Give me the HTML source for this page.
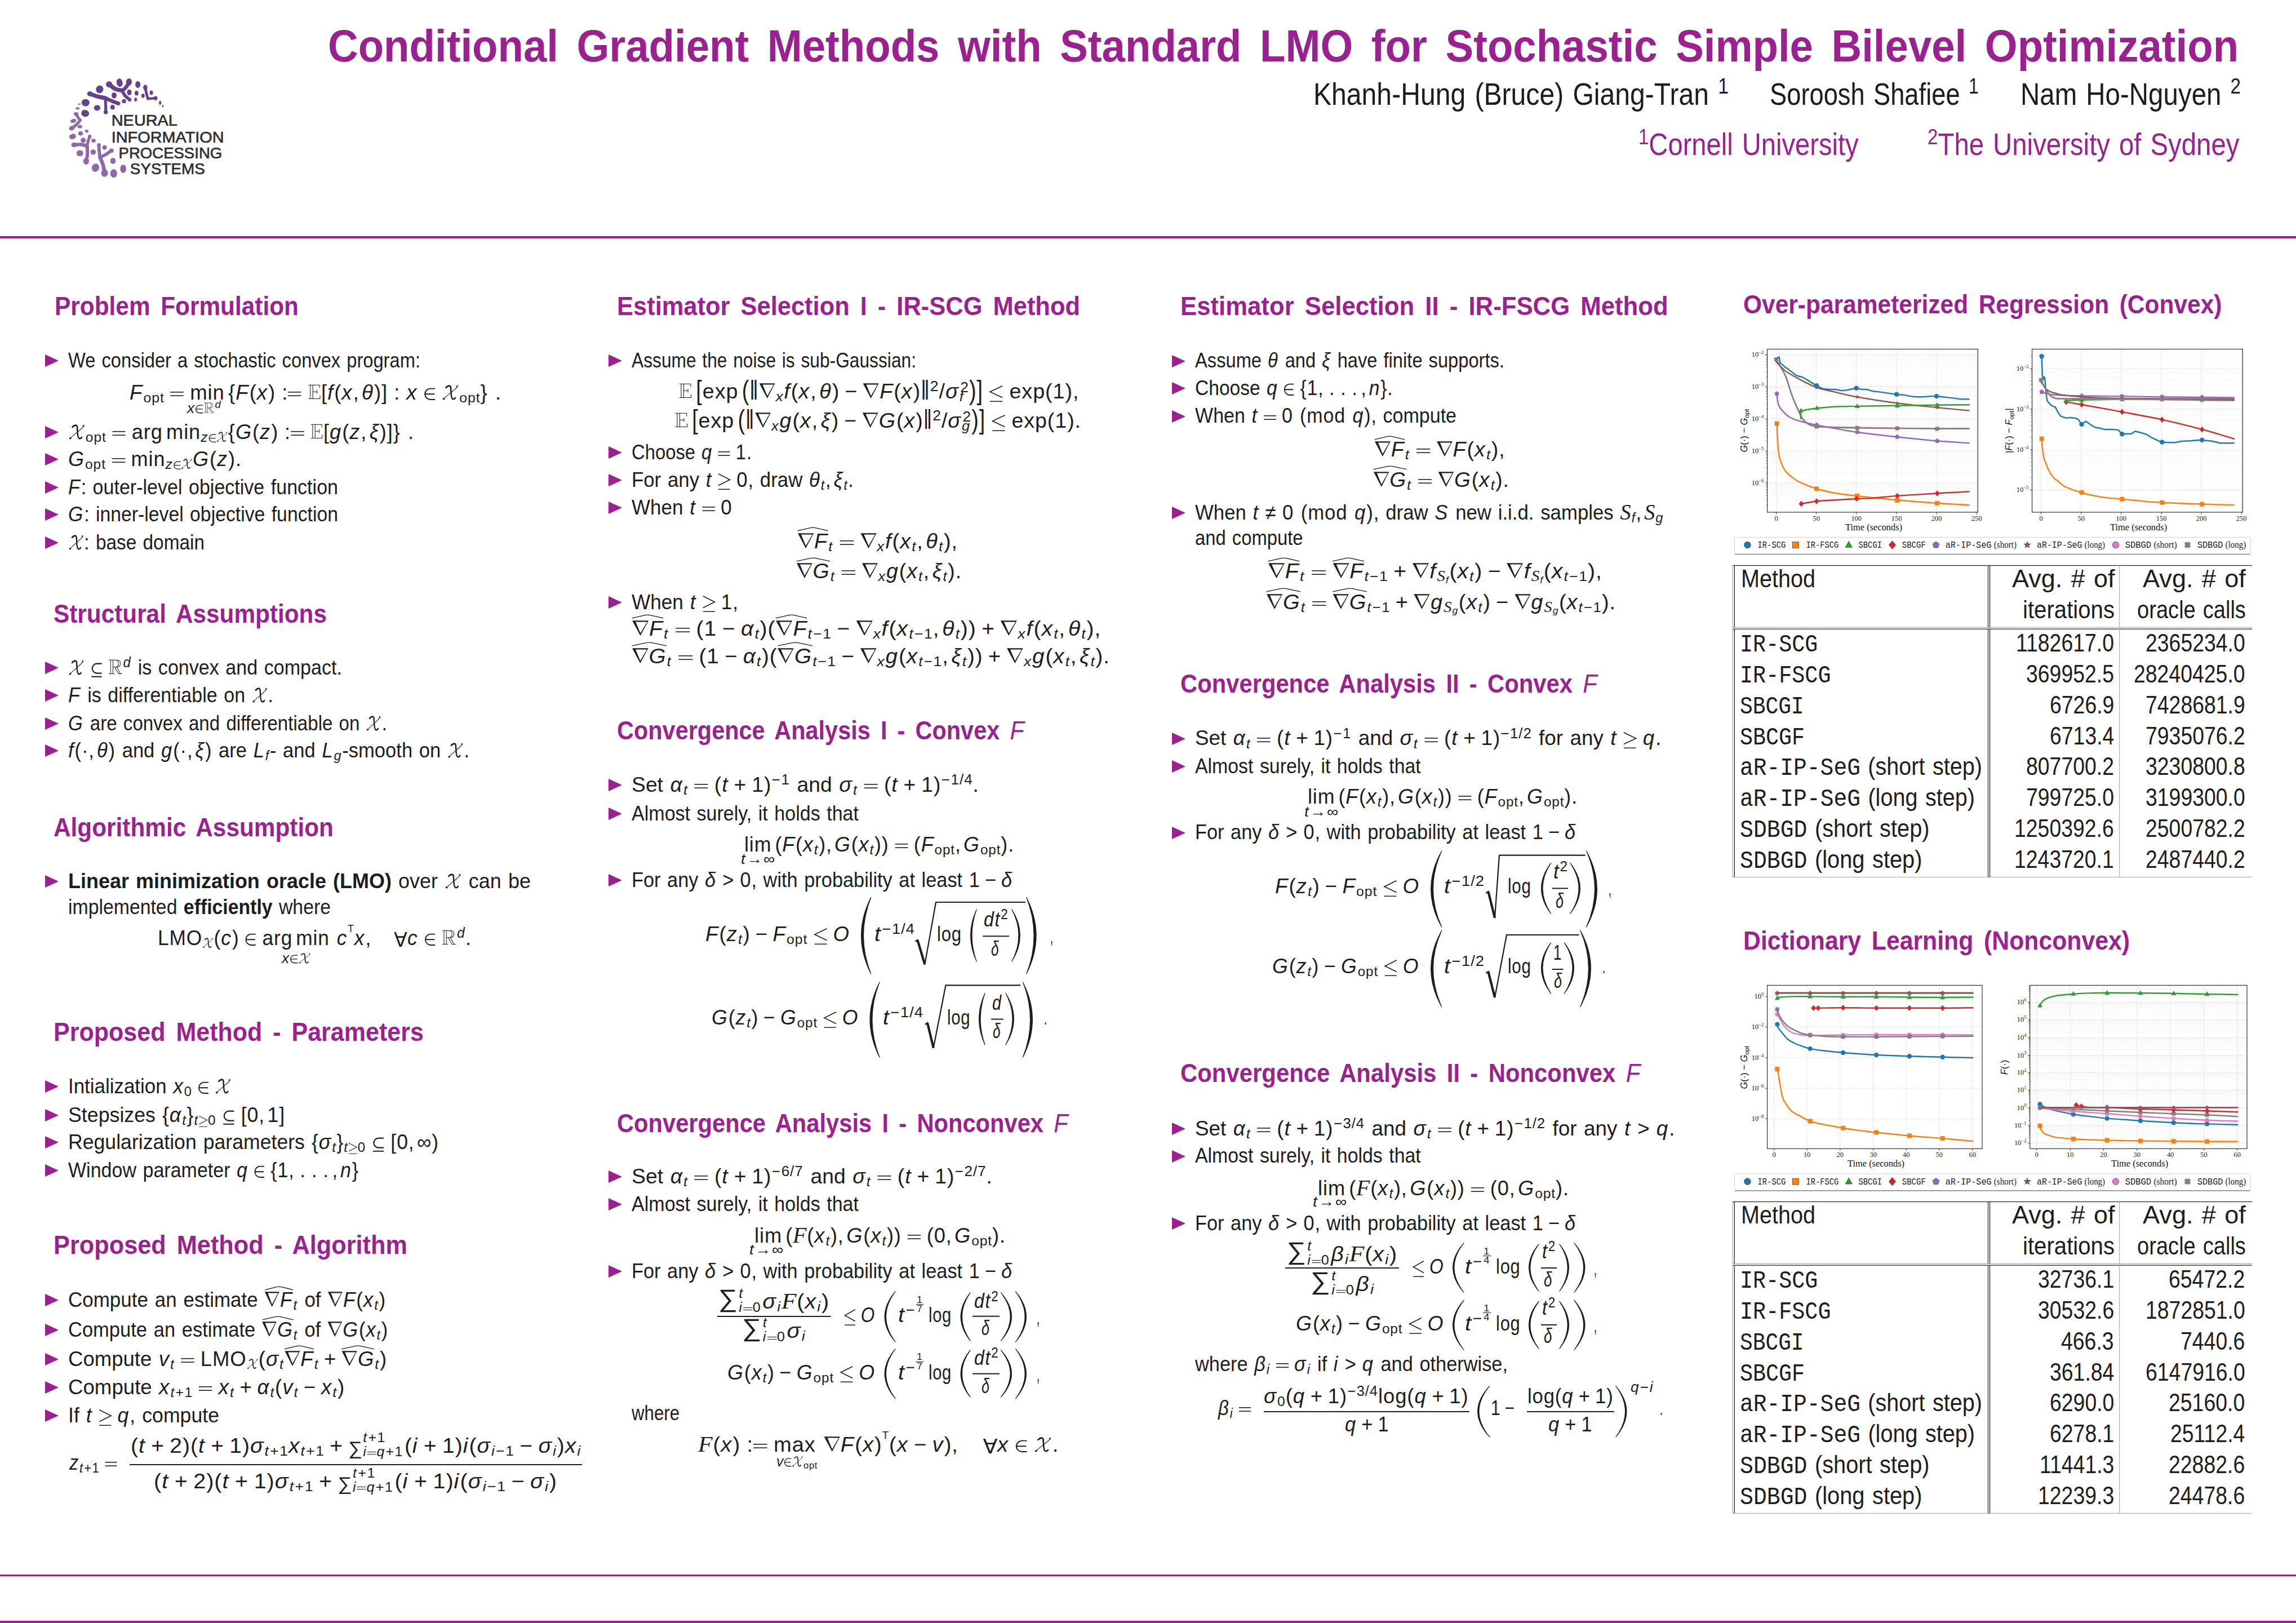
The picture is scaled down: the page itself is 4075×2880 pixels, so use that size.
<!DOCTYPE html>
<html><head><meta charset="utf-8"><title>Poster</title><style>
*{margin:0;padding:0;box-sizing:content-box}
html,body{width:4075px;height:2880px;background:#fff;overflow:hidden}
body{position:relative;font-family:"Liberation Sans",sans-serif;color:#1d1d1b}
.l{position:absolute;white-space:nowrap;line-height:1;transform-origin:0 0;word-spacing:0.06em}
.h{font-weight:bold;color:#9b2190;word-spacing:0.16em}
.pu{color:#9b2190}
.h .m i{font-weight:normal}
i{font-style:italic}
.m{letter-spacing:0.025em}
.m i{padding-right:0.03em}
b{font-weight:bold}
.bm{display:inline-block;width:0;height:0;vertical-align:baseline}
.sb{font-size:68%;position:relative;top:0.21em}
.sp{font-size:70%;position:relative;top:-0.5em}
.sb .sb{top:0.2em}
.rel{margin:0 0.3em}
.bin{margin:0 0.24em}
.sb .rel,.sp .rel,.sb .bin,.sp .bin,.ssb .rel,.ssb .bin,.ssp .bin{margin:0 0.02em}
.cm{margin-right:0.12em}
.in{display:inline-block;transform:scale(1.12,1.18);transform-origin:50% 90%}
.sse{display:inline-block;position:relative;width:0.5em;height:0.52em;border:0.07em solid currentColor;border-right:none;border-radius:0.27em 0 0 0.27em;vertical-align:0.12em}
.sse::after{content:'';position:absolute;left:-0.07em;right:-0.02em;bottom:-0.22em;border-top:0.07em solid currentColor}
.nb{display:inline-block;transform:rotate(180deg) translateY(0.03em) scale(1.3,1.12);font-style:normal;margin:0 0.09em 0 0.07em}
.cal{font-family:"Liberation Serif",serif;font-style:italic;font-size:110%}
.bb{font-family:"Liberation Serif",serif;font-size:105%}
.fa{display:inline-block;transform:rotate(180deg)}
.tp{font-size:70%;position:relative;top:-0.55em}
.hat{position:relative;display:inline-block}
.hs{position:absolute;left:0;top:-0.2em;width:100%;height:0.22em;overflow:visible}
.eqs{width:0.64em;height:0.22em;fill:currentColor;vertical-align:0.155em;overflow:visible}
.ins{width:0.56em;height:0.62em;vertical-align:-0.05em;overflow:visible}
.sses{width:0.64em;height:0.74em;vertical-align:-0.17em;overflow:visible}
.les{width:0.63em;height:0.82em;vertical-align:-0.18em;overflow:visible}
.calx{width:0.79em;height:0.74em;vertical-align:-0.02em;overflow:visible;margin:0 0.04em 0 0.02em}
.bbr{width:0.71em;height:0.74em;vertical-align:-0.01em;overflow:visible;margin:0 0.03em}
.bbe{width:0.6em;height:0.74em;vertical-align:-0.01em;overflow:visible;margin:0 0.03em}
.nbs{width:0.74em;height:0.74em;fill:currentColor;margin:0 0.03em 0 0.02em;vertical-align:0;overflow:visible}
.dots{margin:0 0.17em}
.dsp{display:inline-block;width:0.3em}
.quad{display:inline-block;width:1em}
.ths{display:inline-block;width:0.17em}
.sum{font-size:90%;position:relative;top:0.1em;line-height:0}
.ss{display:inline-block;position:relative;font-size:64%;width:auto;vertical-align:0;line-height:1;margin-right:0.1em}
.sumbig .sum{font-size:121%;top:-0.06em}
.sumbig .ss{margin-left:0.05em}
.ssp{position:absolute;left:0;top:-0.8em}
.ssb{position:relative;top:0.27em}
.tf{display:inline-block;position:relative;top:-0.05em;font-size:65%;line-height:0.95;text-align:center;vertical-align:0.25em}
.tfa,.tfb{display:block}
.tfa{border-bottom:0.07em solid currentColor;padding:0 0.08em}
.tight .rel,.tight .bin{margin:0 0.03em}
.sbsp{display:inline-block;position:relative;min-width:0.46em}
.sp2{position:absolute;left:0.06em;top:-0.08em;font-size:70%;line-height:1}
.bg{display:inline-block;transform:scale(1,1.3);transform-origin:50% 62%}
.tt{font-family:"Liberation Mono",monospace}
.tri{position:absolute;width:0;height:0;border-left:24.5px solid #9b2190;border-top:11px solid transparent;border-bottom:11px solid transparent}
.hr{position:absolute;left:0;width:4075px;background:#9b2190}
</style></head><body>
<div class="hr" style="top:419px;height:4px"></div>
<div class="hr" style="top:2794px;height:3px"></div>
<div class="hr" style="top:2876px;height:4px"></div>
<div class="tri" style="left:80.0px;top:629.2px"></div>
<div class="tri" style="left:80.0px;top:756.2px"></div>
<div class="tri" style="left:80.0px;top:804.2px"></div>
<div class="tri" style="left:80.0px;top:854.2px"></div>
<div class="tri" style="left:80.0px;top:902.2px"></div>
<div class="tri" style="left:80.0px;top:952.2px"></div>
<div class="tri" style="left:80.0px;top:1174.2px"></div>
<div class="tri" style="left:80.0px;top:1223.2px"></div>
<div class="tri" style="left:80.0px;top:1273.2px"></div>
<div class="tri" style="left:80.0px;top:1321.2px"></div>
<div class="tri" style="left:80.0px;top:1553.2px"></div>
<div class="tri" style="left:80.0px;top:1917.2px"></div>
<div class="tri" style="left:80.0px;top:1967.8px"></div>
<div class="tri" style="left:80.0px;top:2016.2px"></div>
<div class="tri" style="left:80.0px;top:2065.8px"></div>
<div class="tri" style="left:80.0px;top:2296.2px"></div>
<div class="tri" style="left:80.0px;top:2349.2px"></div>
<div class="tri" style="left:80.0px;top:2401.2px"></div>
<div class="tri" style="left:80.0px;top:2451.2px"></div>
<div class="tri" style="left:80.0px;top:2501.2px"></div>
<div class="tri" style="left:1080.0px;top:629.2px"></div>
<div class="tri" style="left:1080.0px;top:791.7px"></div>
<div class="tri" style="left:1080.0px;top:840.9px"></div>
<div class="tri" style="left:1080.0px;top:890.2px"></div>
<div class="tri" style="left:1080.0px;top:1057.9px"></div>
<div class="tri" style="left:1080.0px;top:1382.2px"></div>
<div class="tri" style="left:1080.0px;top:1432.9px"></div>
<div class="tri" style="left:1080.0px;top:1551.2px"></div>
<div class="tri" style="left:1080.0px;top:2077.2px"></div>
<div class="tri" style="left:1080.0px;top:2125.9px"></div>
<div class="tri" style="left:1080.0px;top:2244.8px"></div>
<div class="tri" style="left:2080.0px;top:629.6px"></div>
<div class="tri" style="left:2080.0px;top:678.2px"></div>
<div class="tri" style="left:2080.0px;top:727.6px"></div>
<div class="tri" style="left:2080.0px;top:898.8px"></div>
<div class="tri" style="left:2080.0px;top:1299.6px"></div>
<div class="tri" style="left:2080.0px;top:1348.8px"></div>
<div class="tri" style="left:2080.0px;top:1466.5px"></div>
<div class="tri" style="left:2080.0px;top:1991.8px"></div>
<div class="tri" style="left:2080.0px;top:2040.6px"></div>
<div class="tri" style="left:2080.0px;top:2160.4px"></div>
<div class="l h" style="top:41.5px;left:582.0px;font-size:80.00px;transform:scaleX(0.9295)">Conditional Gradient Methods with Standard LMO for Stochastic Simple Bilevel Optimization</div>
<div class="l" style="top:139.5px;left:2331.0px;font-size:55.00px;transform:scaleX(0.8748)">Khanh-Hung (Bruce) Giang-Tran <span class="sp">1</span></div>
<div class="l" style="top:139.5px;left:3140.5px;font-size:55.00px;transform:scaleX(0.8234)">Soroosh Shafiee <span class="sp">1</span></div>
<div class="l" style="top:139.5px;left:3586.0px;font-size:55.00px;transform:scaleX(0.8633)">Nam Ho-Nguyen <span class="sp">2</span></div>
<div class="l pu" style="top:229.3px;left:2907.6px;font-size:55.00px;transform:scaleX(0.8574)"><span class="sp">1</span>Cornell University</div>
<div class="l pu" style="top:229.3px;left:3421.0px;font-size:55.00px;transform:scaleX(0.8612)"><span class="sp">2</span>The University of Sydney</div>
<div class="l h" style="top:520.0px;left:97.0px;font-size:46.50px;transform:scaleX(0.9115)">Problem Formulation</div>
<div class="l" style="top:622.0px;left:121.0px;font-size:36.50px;transform:scaleX(0.8954)">We consider a stochastic convex program:</div>
<div class="l" style="top:679.0px;left:230.0px;font-size:36.50px;transform:scaleX(1.0033)"><span class="m"><i>F</i><span class="sb">opt</span><span class="rel"><svg class="eqs" viewBox="0 0 64 22" preserveAspectRatio="none"><rect width="64" height="4.4"/><rect y="17.6" width="64" height="4.4"/></svg></span>min<span class="ths"></span>{<i>F</i>(<i>x</i>)<span class="rel">:<svg class="eqs" viewBox="0 0 64 22" preserveAspectRatio="none"><rect width="64" height="4.4"/><rect y="17.6" width="64" height="4.4"/></svg></span><svg class="bbe" viewBox="0 0 22 27"><g fill="none" stroke="currentColor" stroke-width="1.05"><path d="M3.8,1.2V25.6M8.2,1.2V25.6M0.6,1.2H20.2V6.5M8.2,13.2H15.5M15.5,10V16.4M0.6,25.6H21V19.6"/></g></svg>[<i>f</i>(<i>x</i><span class="cm">,</span><i>θ</i>)]<span class="rel">:</span><i>x</i><span class="rel"><svg class="ins" viewBox="0 0 20 22"><path d="M19,1.5H11A9.5,9.5 0 0 0 11,20.5H19M1.5,11H18" fill="none" stroke="currentColor" stroke-width="1.9"/></svg></span><svg class="calx" viewBox="0 0 29 27"><g fill="none" stroke="currentColor" stroke-linecap="round"><path d="M6.6,4.8C8.5,2.6 11,1.4 13.4,1.6C15.6,2 15.4,6 15.6,12C15.9,19 16.6,24.6 19,25.2C20.8,25.6 22.4,24.4 23.4,23" stroke-width="2.6"/><path d="M2.2,25.2C6,21.5 10,18 14.5,14.6C19,11 23.5,7.5 26.4,3.8C27.2,2.7 27.6,2 27.2,1.4" stroke-width="1.15"/></g><ellipse cx="2.8" cy="24.9" rx="2" ry="1.6" fill="currentColor"/><ellipse cx="26.6" cy="2.6" rx="1.3" ry="1.6" fill="currentColor"/></svg><span class="sb">opt</span>}&nbsp;.</span></div>
<div class="l tight" style="top:712.0px;left:332.0px;font-size:25.55px;transform:scaleX(1.0293)"><span class="m"><i>x</i><svg class="ins" viewBox="0 0 20 22"><path d="M19,1.5H11A9.5,9.5 0 0 0 11,20.5H19M1.5,11H18" fill="none" stroke="currentColor" stroke-width="1.9"/></svg><svg class="bbr" viewBox="0 0 26 27"><g fill="none" stroke="currentColor" stroke-width="1.05"><path d="M3.8,1.2V25.6M8.2,1.2V25.6M0.6,1.2H14.5C20,1.2 22.4,4 22.4,7.6C22.4,11.2 20,13.8 14.5,13.8H8.2M14.5,1.4C17.2,2 18.6,4.4 18.6,7.6C18.6,10.8 17.2,13.2 14.5,13.8M11.4,13.8L18.6,25.6H25.2M15.2,13.6L22.4,25.6M0.6,25.6H11.4"/></g></svg><span class="sp"><i>d</i></span></span></div>
<div class="l" style="top:749.0px;left:121.0px;font-size:36.50px;transform:scaleX(0.9934)"><span class="m"><svg class="calx" viewBox="0 0 29 27"><g fill="none" stroke="currentColor" stroke-linecap="round"><path d="M6.6,4.8C8.5,2.6 11,1.4 13.4,1.6C15.6,2 15.4,6 15.6,12C15.9,19 16.6,24.6 19,25.2C20.8,25.6 22.4,24.4 23.4,23" stroke-width="2.6"/><path d="M2.2,25.2C6,21.5 10,18 14.5,14.6C19,11 23.5,7.5 26.4,3.8C27.2,2.7 27.6,2 27.2,1.4" stroke-width="1.15"/></g><ellipse cx="2.8" cy="24.9" rx="2" ry="1.6" fill="currentColor"/><ellipse cx="26.6" cy="2.6" rx="1.3" ry="1.6" fill="currentColor"/></svg><span class="sb">opt</span><span class="rel"><svg class="eqs" viewBox="0 0 64 22" preserveAspectRatio="none"><rect width="64" height="4.4"/><rect y="17.6" width="64" height="4.4"/></svg></span>arg<span class="ths"></span>min<span class="sb"><i>z</i><svg class="ins" viewBox="0 0 20 22"><path d="M19,1.5H11A9.5,9.5 0 0 0 11,20.5H19M1.5,11H18" fill="none" stroke="currentColor" stroke-width="1.9"/></svg><svg class="calx" viewBox="0 0 29 27"><g fill="none" stroke="currentColor" stroke-linecap="round"><path d="M6.6,4.8C8.5,2.6 11,1.4 13.4,1.6C15.6,2 15.4,6 15.6,12C15.9,19 16.6,24.6 19,25.2C20.8,25.6 22.4,24.4 23.4,23" stroke-width="2.6"/><path d="M2.2,25.2C6,21.5 10,18 14.5,14.6C19,11 23.5,7.5 26.4,3.8C27.2,2.7 27.6,2 27.2,1.4" stroke-width="1.15"/></g><ellipse cx="2.8" cy="24.9" rx="2" ry="1.6" fill="currentColor"/><ellipse cx="26.6" cy="2.6" rx="1.3" ry="1.6" fill="currentColor"/></svg></span>{<i>G</i>(<i>z</i>)<span class="rel">:<svg class="eqs" viewBox="0 0 64 22" preserveAspectRatio="none"><rect width="64" height="4.4"/><rect y="17.6" width="64" height="4.4"/></svg></span><svg class="bbe" viewBox="0 0 22 27"><g fill="none" stroke="currentColor" stroke-width="1.05"><path d="M3.8,1.2V25.6M8.2,1.2V25.6M0.6,1.2H20.2V6.5M8.2,13.2H15.5M15.5,10V16.4M0.6,25.6H21V19.6"/></g></svg>[<i>g</i>(<i>z</i><span class="cm">,</span><i>ξ</i>)]}&nbsp;.</span></div>
<div class="l" style="top:797.0px;left:121.0px;font-size:36.50px;transform:scaleX(0.9889)"><span class="m"><i>G</i><span class="sb">opt</span><span class="rel"><svg class="eqs" viewBox="0 0 64 22" preserveAspectRatio="none"><rect width="64" height="4.4"/><rect y="17.6" width="64" height="4.4"/></svg></span>min<span class="sb"><i>z</i><svg class="ins" viewBox="0 0 20 22"><path d="M19,1.5H11A9.5,9.5 0 0 0 11,20.5H19M1.5,11H18" fill="none" stroke="currentColor" stroke-width="1.9"/></svg><svg class="calx" viewBox="0 0 29 27"><g fill="none" stroke="currentColor" stroke-linecap="round"><path d="M6.6,4.8C8.5,2.6 11,1.4 13.4,1.6C15.6,2 15.4,6 15.6,12C15.9,19 16.6,24.6 19,25.2C20.8,25.6 22.4,24.4 23.4,23" stroke-width="2.6"/><path d="M2.2,25.2C6,21.5 10,18 14.5,14.6C19,11 23.5,7.5 26.4,3.8C27.2,2.7 27.6,2 27.2,1.4" stroke-width="1.15"/></g><ellipse cx="2.8" cy="24.9" rx="2" ry="1.6" fill="currentColor"/><ellipse cx="26.6" cy="2.6" rx="1.3" ry="1.6" fill="currentColor"/></svg></span><i>G</i>(<i>z</i>)</span>.</div>
<div class="l" style="top:847.0px;left:121.0px;font-size:36.50px;transform:scaleX(0.9323)"><span class="m"><i>F</i></span>: outer-level objective function</div>
<div class="l" style="top:895.0px;left:121.0px;font-size:36.50px;transform:scaleX(0.9250)"><span class="m"><i>G</i></span>: inner-level objective function</div>
<div class="l" style="top:945.0px;left:121.0px;font-size:36.50px;transform:scaleX(0.9143)"><span class="m"><svg class="calx" viewBox="0 0 29 27"><g fill="none" stroke="currentColor" stroke-linecap="round"><path d="M6.6,4.8C8.5,2.6 11,1.4 13.4,1.6C15.6,2 15.4,6 15.6,12C15.9,19 16.6,24.6 19,25.2C20.8,25.6 22.4,24.4 23.4,23" stroke-width="2.6"/><path d="M2.2,25.2C6,21.5 10,18 14.5,14.6C19,11 23.5,7.5 26.4,3.8C27.2,2.7 27.6,2 27.2,1.4" stroke-width="1.15"/></g><ellipse cx="2.8" cy="24.9" rx="2" ry="1.6" fill="currentColor"/><ellipse cx="26.6" cy="2.6" rx="1.3" ry="1.6" fill="currentColor"/></svg></span>: base domain</div>
<div class="l h" style="top:1065.5px;left:95.0px;font-size:46.50px;transform:scaleX(0.9103)">Structural Assumptions</div>
<div class="l" style="top:1167.0px;left:121.0px;font-size:36.50px;transform:scaleX(0.9336)"><span class="m"><svg class="calx" viewBox="0 0 29 27"><g fill="none" stroke="currentColor" stroke-linecap="round"><path d="M6.6,4.8C8.5,2.6 11,1.4 13.4,1.6C15.6,2 15.4,6 15.6,12C15.9,19 16.6,24.6 19,25.2C20.8,25.6 22.4,24.4 23.4,23" stroke-width="2.6"/><path d="M2.2,25.2C6,21.5 10,18 14.5,14.6C19,11 23.5,7.5 26.4,3.8C27.2,2.7 27.6,2 27.2,1.4" stroke-width="1.15"/></g><ellipse cx="2.8" cy="24.9" rx="2" ry="1.6" fill="currentColor"/><ellipse cx="26.6" cy="2.6" rx="1.3" ry="1.6" fill="currentColor"/></svg><span class="rel"><svg class="sses" viewBox="0 0 20 24"><path d="M19,1.5H10.5A7.5,7.5 0 0 0 10.5,16.5H19M1.5,22H19" fill="none" stroke="currentColor" stroke-width="1.9"/></svg></span><svg class="bbr" viewBox="0 0 26 27"><g fill="none" stroke="currentColor" stroke-width="1.05"><path d="M3.8,1.2V25.6M8.2,1.2V25.6M0.6,1.2H14.5C20,1.2 22.4,4 22.4,7.6C22.4,11.2 20,13.8 14.5,13.8H8.2M14.5,1.4C17.2,2 18.6,4.4 18.6,7.6C18.6,10.8 17.2,13.2 14.5,13.8M11.4,13.8L18.6,25.6H25.2M15.2,13.6L22.4,25.6M0.6,25.6H11.4"/></g></svg><span class="sp"><i>d</i></span></span> is convex and compact.</div>
<div class="l" style="top:1216.0px;left:121.0px;font-size:36.50px;transform:scaleX(0.9331)"><span class="m"><i>F</i></span> is differentiable on <span class="m"><svg class="calx" viewBox="0 0 29 27"><g fill="none" stroke="currentColor" stroke-linecap="round"><path d="M6.6,4.8C8.5,2.6 11,1.4 13.4,1.6C15.6,2 15.4,6 15.6,12C15.9,19 16.6,24.6 19,25.2C20.8,25.6 22.4,24.4 23.4,23" stroke-width="2.6"/><path d="M2.2,25.2C6,21.5 10,18 14.5,14.6C19,11 23.5,7.5 26.4,3.8C27.2,2.7 27.6,2 27.2,1.4" stroke-width="1.15"/></g><ellipse cx="2.8" cy="24.9" rx="2" ry="1.6" fill="currentColor"/><ellipse cx="26.6" cy="2.6" rx="1.3" ry="1.6" fill="currentColor"/></svg></span>.</div>
<div class="l" style="top:1266.0px;left:121.0px;font-size:36.50px;transform:scaleX(0.9073)"><span class="m"><i>G</i></span> are convex and differentiable on <span class="m"><svg class="calx" viewBox="0 0 29 27"><g fill="none" stroke="currentColor" stroke-linecap="round"><path d="M6.6,4.8C8.5,2.6 11,1.4 13.4,1.6C15.6,2 15.4,6 15.6,12C15.9,19 16.6,24.6 19,25.2C20.8,25.6 22.4,24.4 23.4,23" stroke-width="2.6"/><path d="M2.2,25.2C6,21.5 10,18 14.5,14.6C19,11 23.5,7.5 26.4,3.8C27.2,2.7 27.6,2 27.2,1.4" stroke-width="1.15"/></g><ellipse cx="2.8" cy="24.9" rx="2" ry="1.6" fill="currentColor"/><ellipse cx="26.6" cy="2.6" rx="1.3" ry="1.6" fill="currentColor"/></svg></span>.</div>
<div class="l" style="top:1314.0px;left:121.0px;font-size:36.50px;transform:scaleX(0.9474)"><span class="m"><i>f</i>(·<span class="cm">,</span><i>θ</i>)</span> and <span class="m"><i>g</i>(·<span class="cm">,</span><i>ξ</i>)</span> are <span class="m"><i>L</i><span class="sb"><i>f</i></span></span>- and <span class="m"><i>L</i><span class="sb"><i>g</i></span></span>-smooth on <span class="m"><svg class="calx" viewBox="0 0 29 27"><g fill="none" stroke="currentColor" stroke-linecap="round"><path d="M6.6,4.8C8.5,2.6 11,1.4 13.4,1.6C15.6,2 15.4,6 15.6,12C15.9,19 16.6,24.6 19,25.2C20.8,25.6 22.4,24.4 23.4,23" stroke-width="2.6"/><path d="M2.2,25.2C6,21.5 10,18 14.5,14.6C19,11 23.5,7.5 26.4,3.8C27.2,2.7 27.6,2 27.2,1.4" stroke-width="1.15"/></g><ellipse cx="2.8" cy="24.9" rx="2" ry="1.6" fill="currentColor"/><ellipse cx="26.6" cy="2.6" rx="1.3" ry="1.6" fill="currentColor"/></svg></span>.</div>
<div class="l h" style="top:1445.0px;left:95.0px;font-size:46.50px;transform:scaleX(0.9108)">Algorithmic Assumption</div>
<div class="l" style="top:1546.0px;left:121.0px;font-size:36.50px;transform:scaleX(0.9852)"><b>Linear minimization oracle (LMO)</b> over <span class="m"><svg class="calx" viewBox="0 0 29 27"><g fill="none" stroke="currentColor" stroke-linecap="round"><path d="M6.6,4.8C8.5,2.6 11,1.4 13.4,1.6C15.6,2 15.4,6 15.6,12C15.9,19 16.6,24.6 19,25.2C20.8,25.6 22.4,24.4 23.4,23" stroke-width="2.6"/><path d="M2.2,25.2C6,21.5 10,18 14.5,14.6C19,11 23.5,7.5 26.4,3.8C27.2,2.7 27.6,2 27.2,1.4" stroke-width="1.15"/></g><ellipse cx="2.8" cy="24.9" rx="2" ry="1.6" fill="currentColor"/><ellipse cx="26.6" cy="2.6" rx="1.3" ry="1.6" fill="currentColor"/></svg></span> can be</div>
<div class="l" style="top:1592.0px;left:121.0px;font-size:36.50px;transform:scaleX(0.9256)">implemented <b>efficiently</b> where</div>
<div class="l" style="top:1646.5px;left:280.0px;font-size:36.50px;transform:scaleX(0.9681)"><span class="m">LMO<span class="sb"><svg class="calx" viewBox="0 0 29 27"><g fill="none" stroke="currentColor" stroke-linecap="round"><path d="M6.6,4.8C8.5,2.6 11,1.4 13.4,1.6C15.6,2 15.4,6 15.6,12C15.9,19 16.6,24.6 19,25.2C20.8,25.6 22.4,24.4 23.4,23" stroke-width="2.6"/><path d="M2.2,25.2C6,21.5 10,18 14.5,14.6C19,11 23.5,7.5 26.4,3.8C27.2,2.7 27.6,2 27.2,1.4" stroke-width="1.15"/></g><ellipse cx="2.8" cy="24.9" rx="2" ry="1.6" fill="currentColor"/><ellipse cx="26.6" cy="2.6" rx="1.3" ry="1.6" fill="currentColor"/></svg></span>(<i>c</i>)<span class="rel"><svg class="ins" viewBox="0 0 20 22"><path d="M19,1.5H11A9.5,9.5 0 0 0 11,20.5H19M1.5,11H18" fill="none" stroke="currentColor" stroke-width="1.9"/></svg></span>arg<span class="ths"></span>min&nbsp;<i>c</i><span class="sp"><span class="tp">T</span></span><i>x</i><span class="cm">,</span><span class="quad"></span><span class="fa">A</span><i>c</i><span class="rel"><svg class="ins" viewBox="0 0 20 22"><path d="M19,1.5H11A9.5,9.5 0 0 0 11,20.5H19M1.5,11H18" fill="none" stroke="currentColor" stroke-width="1.9"/></svg></span><svg class="bbr" viewBox="0 0 26 27"><g fill="none" stroke="currentColor" stroke-width="1.05"><path d="M3.8,1.2V25.6M8.2,1.2V25.6M0.6,1.2H14.5C20,1.2 22.4,4 22.4,7.6C22.4,11.2 20,13.8 14.5,13.8H8.2M14.5,1.4C17.2,2 18.6,4.4 18.6,7.6C18.6,10.8 17.2,13.2 14.5,13.8M11.4,13.8L18.6,25.6H25.2M15.2,13.6L22.4,25.6M0.6,25.6H11.4"/></g></svg><span class="sp"><i>d</i></span>.</span></div>
<div class="l tight" style="top:1688.0px;left:500.0px;font-size:25.55px;transform:scaleX(1.0364)"><span class="m"><i>x</i><svg class="ins" viewBox="0 0 20 22"><path d="M19,1.5H11A9.5,9.5 0 0 0 11,20.5H19M1.5,11H18" fill="none" stroke="currentColor" stroke-width="1.9"/></svg><svg class="calx" viewBox="0 0 29 27"><g fill="none" stroke="currentColor" stroke-linecap="round"><path d="M6.6,4.8C8.5,2.6 11,1.4 13.4,1.6C15.6,2 15.4,6 15.6,12C15.9,19 16.6,24.6 19,25.2C20.8,25.6 22.4,24.4 23.4,23" stroke-width="2.6"/><path d="M2.2,25.2C6,21.5 10,18 14.5,14.6C19,11 23.5,7.5 26.4,3.8C27.2,2.7 27.6,2 27.2,1.4" stroke-width="1.15"/></g><ellipse cx="2.8" cy="24.9" rx="2" ry="1.6" fill="currentColor"/><ellipse cx="26.6" cy="2.6" rx="1.3" ry="1.6" fill="currentColor"/></svg></span></div>
<div class="l h" style="top:1808.0px;left:95.0px;font-size:46.50px;transform:scaleX(0.9258)">Proposed Method - Parameters</div>
<div class="l" style="top:1910.0px;left:121.0px;font-size:36.50px;transform:scaleX(0.9563)">Intialization <span class="m"><i>x</i><span class="sb">0</span><span class="rel"><svg class="ins" viewBox="0 0 20 22"><path d="M19,1.5H11A9.5,9.5 0 0 0 11,20.5H19M1.5,11H18" fill="none" stroke="currentColor" stroke-width="1.9"/></svg></span><svg class="calx" viewBox="0 0 29 27"><g fill="none" stroke="currentColor" stroke-linecap="round"><path d="M6.6,4.8C8.5,2.6 11,1.4 13.4,1.6C15.6,2 15.4,6 15.6,12C15.9,19 16.6,24.6 19,25.2C20.8,25.6 22.4,24.4 23.4,23" stroke-width="2.6"/><path d="M2.2,25.2C6,21.5 10,18 14.5,14.6C19,11 23.5,7.5 26.4,3.8C27.2,2.7 27.6,2 27.2,1.4" stroke-width="1.15"/></g><ellipse cx="2.8" cy="24.9" rx="2" ry="1.6" fill="currentColor"/><ellipse cx="26.6" cy="2.6" rx="1.3" ry="1.6" fill="currentColor"/></svg></span></div>
<div class="l" style="top:1960.6px;left:121.0px;font-size:36.50px;transform:scaleX(0.9791)">Stepsizes <span class="m">{<i>α</i><span class="sb"><i>t</i></span>}<span class="sb"><i>t</i><span class="rel"><svg class="les" viewBox="0 0 23 30"><path d="M0.5,0.8L22,11.2L0.5,21.6M0.5,28.4H22.2" fill="none" stroke="currentColor" stroke-width="1.6"/></svg></span>0</span><span class="rel"><svg class="sses" viewBox="0 0 20 24"><path d="M19,1.5H10.5A7.5,7.5 0 0 0 10.5,16.5H19M1.5,22H19" fill="none" stroke="currentColor" stroke-width="1.9"/></svg></span>[0<span class="cm">,</span>1]</span></div>
<div class="l" style="top:2009.0px;left:121.0px;font-size:36.50px;transform:scaleX(0.9759)">Regularization parameters <span class="m">{<i>σ</i><span class="sb"><i>t</i></span>}<span class="sb"><i>t</i><span class="rel"><svg class="les" viewBox="0 0 23 30"><path d="M0.5,0.8L22,11.2L0.5,21.6M0.5,28.4H22.2" fill="none" stroke="currentColor" stroke-width="1.6"/></svg></span>0</span><span class="rel"><svg class="sses" viewBox="0 0 20 24"><path d="M19,1.5H10.5A7.5,7.5 0 0 0 10.5,16.5H19M1.5,22H19" fill="none" stroke="currentColor" stroke-width="1.9"/></svg></span>[0<span class="cm">,</span>∞)</span></div>
<div class="l" style="top:2058.6px;left:121.0px;font-size:36.50px;transform:scaleX(0.9321)">Window parameter <span class="m"><i>q</i><span class="rel"><svg class="ins" viewBox="0 0 20 22"><path d="M19,1.5H11A9.5,9.5 0 0 0 11,20.5H19M1.5,11H18" fill="none" stroke="currentColor" stroke-width="1.9"/></svg></span>{1<span class="cm">,</span><span class="dots">.<span class="dsp"></span>.<span class="dsp"></span>.</span><span class="cm">,</span><i>n</i>}</span></div>
<div class="l h" style="top:2185.5px;left:95.0px;font-size:46.50px;transform:scaleX(0.9316)">Proposed Method - Algorithm</div>
<div class="l" style="top:2289.0px;left:121.0px;font-size:36.50px;transform:scaleX(0.9583)">Compute an estimate <span class="m"><span class="hat"><svg class="hs" viewBox="0 0 100 20" preserveAspectRatio="none"><path d="M1,17 L42,4 Q50,1.5 58,4 L99,17" fill="none" stroke="currentColor" stroke-width="1.4" vector-effect="non-scaling-stroke"/></svg><svg class="nbs" viewBox="0 0 27 27"><path d="M0,0.3H27L13.5,27ZM5.6,2.5L13.6,22.4L24.8,2.5Z" fill-rule="evenodd"/></svg><i>F</i></span><span class="sb"><i>t</i></span></span> of <span class="m"><svg class="nbs" viewBox="0 0 27 27"><path d="M0,0.3H27L13.5,27ZM5.6,2.5L13.6,22.4L24.8,2.5Z" fill-rule="evenodd"/></svg><i>F</i>(<i>x</i><span class="sb"><i>t</i></span>)</span></div>
<div class="l" style="top:2342.0px;left:121.0px;font-size:36.50px;transform:scaleX(0.9456)">Compute an estimate <span class="m"><span class="hat"><svg class="hs" viewBox="0 0 100 20" preserveAspectRatio="none"><path d="M1,17 L42,4 Q50,1.5 58,4 L99,17" fill="none" stroke="currentColor" stroke-width="1.4" vector-effect="non-scaling-stroke"/></svg><svg class="nbs" viewBox="0 0 27 27"><path d="M0,0.3H27L13.5,27ZM5.6,2.5L13.6,22.4L24.8,2.5Z" fill-rule="evenodd"/></svg><i>G</i></span><span class="sb"><i>t</i></span></span> of <span class="m"><svg class="nbs" viewBox="0 0 27 27"><path d="M0,0.3H27L13.5,27ZM5.6,2.5L13.6,22.4L24.8,2.5Z" fill-rule="evenodd"/></svg><i>G</i>(<i>x</i><span class="sb"><i>t</i></span>)</span></div>
<div class="l" style="top:2394.0px;left:121.0px;font-size:36.50px;transform:scaleX(1.0012)">Compute <span class="m"><i>v</i><span class="sb"><i>t</i></span><span class="rel"><svg class="eqs" viewBox="0 0 64 22" preserveAspectRatio="none"><rect width="64" height="4.4"/><rect y="17.6" width="64" height="4.4"/></svg></span>LMO<span class="sb"><svg class="calx" viewBox="0 0 29 27"><g fill="none" stroke="currentColor" stroke-linecap="round"><path d="M6.6,4.8C8.5,2.6 11,1.4 13.4,1.6C15.6,2 15.4,6 15.6,12C15.9,19 16.6,24.6 19,25.2C20.8,25.6 22.4,24.4 23.4,23" stroke-width="2.6"/><path d="M2.2,25.2C6,21.5 10,18 14.5,14.6C19,11 23.5,7.5 26.4,3.8C27.2,2.7 27.6,2 27.2,1.4" stroke-width="1.15"/></g><ellipse cx="2.8" cy="24.9" rx="2" ry="1.6" fill="currentColor"/><ellipse cx="26.6" cy="2.6" rx="1.3" ry="1.6" fill="currentColor"/></svg></span>(<i>σ</i><span class="sb"><i>t</i></span><span class="hat"><svg class="hs" viewBox="0 0 100 20" preserveAspectRatio="none"><path d="M1,17 L42,4 Q50,1.5 58,4 L99,17" fill="none" stroke="currentColor" stroke-width="1.4" vector-effect="non-scaling-stroke"/></svg><svg class="nbs" viewBox="0 0 27 27"><path d="M0,0.3H27L13.5,27ZM5.6,2.5L13.6,22.4L24.8,2.5Z" fill-rule="evenodd"/></svg><i>F</i></span><span class="sb"><i>t</i></span><span class="bin">+</span><span class="hat"><svg class="hs" viewBox="0 0 100 20" preserveAspectRatio="none"><path d="M1,17 L42,4 Q50,1.5 58,4 L99,17" fill="none" stroke="currentColor" stroke-width="1.4" vector-effect="non-scaling-stroke"/></svg><svg class="nbs" viewBox="0 0 27 27"><path d="M0,0.3H27L13.5,27ZM5.6,2.5L13.6,22.4L24.8,2.5Z" fill-rule="evenodd"/></svg><i>G</i></span><span class="sb"><i>t</i></span>)</span></div>
<div class="l" style="top:2444.0px;left:121.0px;font-size:36.50px;transform:scaleX(1.0041)">Compute <span class="m"><i>x</i><span class="sb"><i>t</i><span class="bin">+</span>1</span><span class="rel"><svg class="eqs" viewBox="0 0 64 22" preserveAspectRatio="none"><rect width="64" height="4.4"/><rect y="17.6" width="64" height="4.4"/></svg></span><i>x</i><span class="sb"><i>t</i></span><span class="bin">+</span><i>α</i><span class="sb"><i>t</i></span>(<i>v</i><span class="sb"><i>t</i></span><span class="bin">−</span><i>x</i><span class="sb"><i>t</i></span>)</span></div>
<div class="l" style="top:2494.0px;left:121.0px;font-size:36.50px;transform:scaleX(0.9766)">If <span class="m"><i>t</i><span class="rel"><svg class="les" viewBox="0 0 23 30"><path d="M0.5,0.8L22,11.2L0.5,21.6M0.5,28.4H22.2" fill="none" stroke="currentColor" stroke-width="1.6"/></svg></span><i>q</i></span>, compute</div>
<div class="l" style="top:2577.5px;left:123.0px;font-size:36.50px;transform:scaleX(0.8940)"><span class="m"><i>z</i><span class="sb"><i>t</i><span class="bin">+</span>1</span><span class="rel"><svg class="eqs" viewBox="0 0 64 22" preserveAspectRatio="none"><rect width="64" height="4.4"/><rect y="17.6" width="64" height="4.4"/></svg></span></span></div>
<div class="l" style="top:2548.0px;left:232.0px;font-size:36.50px;transform:scaleX(1.0677)"><span class="m">(<i>t</i><span class="bin">+</span>2)(<i>t</i><span class="bin">+</span>1)<i>σ</i><span class="sb"><i>t</i><span class="bin">+</span>1</span><i>x</i><span class="sb"><i>t</i><span class="bin">+</span>1</span><span class="bin">+</span><span class="sum">∑</span><span class="ss"><span class="ssp"><i>t</i><span class="bin">+</span>1</span><span class="ssb"><i>i</i><span class="rel"><svg class="eqs" viewBox="0 0 64 22" preserveAspectRatio="none"><rect width="64" height="4.4"/><rect y="17.6" width="64" height="4.4"/></svg></span><i>q</i><span class="bin">+</span>1</span></span>(<i>i</i><span class="bin">+</span>1)<i>i</i>(<i>σ</i><span class="sb"><i>i</i><span class="bin">−</span>1</span><span class="bin">−</span><i>σ</i><span class="sb"><i>i</i></span>)<i>x</i><span class="sb"><i>i</i></span></span></div>
<div class="l" style="top:2610.6px;left:273.0px;font-size:36.50px;transform:scaleX(1.0817)"><span class="m">(<i>t</i><span class="bin">+</span>2)(<i>t</i><span class="bin">+</span>1)<i>σ</i><span class="sb"><i>t</i><span class="bin">+</span>1</span><span class="bin">+</span><span class="sum">∑</span><span class="ss"><span class="ssp"><i>t</i><span class="bin">+</span>1</span><span class="ssb"><i>i</i><span class="rel"><svg class="eqs" viewBox="0 0 64 22" preserveAspectRatio="none"><rect width="64" height="4.4"/><rect y="17.6" width="64" height="4.4"/></svg></span><i>q</i><span class="bin">+</span>1</span></span>(<i>i</i><span class="bin">+</span>1)<i>i</i>(<i>σ</i><span class="sb"><i>i</i><span class="bin">−</span>1</span><span class="bin">−</span><i>σ</i><span class="sb"><i>i</i></span>)</span></div>
<div class="l h" style="top:520.0px;left:1095.0px;font-size:46.50px;transform:scaleX(0.9347)">Estimator Selection I - IR-SCG Method</div>
<div class="l" style="top:622.0px;left:1121.0px;font-size:36.50px;transform:scaleX(0.8694)">Assume the noise is sub-Gaussian:</div>
<div class="l" style="top:677.0px;left:1204.0px;font-size:36.50px;transform:scaleX(1.0338)"><span class="m"><svg class="bbe" viewBox="0 0 22 27"><g fill="none" stroke="currentColor" stroke-width="1.05"><path d="M3.8,1.2V25.6M8.2,1.2V25.6M0.6,1.2H20.2V6.5M8.2,13.2H15.5M15.5,10V16.4M0.6,25.6H21V19.6"/></g></svg><span class="ths"></span><span class="bg">[</span>exp<span class="ths"></span><span class="bg">(</span><span class="bg">‖</span><svg class="nbs" viewBox="0 0 27 27"><path d="M0,0.3H27L13.5,27ZM5.6,2.5L13.6,22.4L24.8,2.5Z" fill-rule="evenodd"/></svg><span class="sb"><i>x</i></span><i>f</i>(<i>x</i><span class="cm">,</span><i>θ</i>)<span class="bin">−</span><svg class="nbs" viewBox="0 0 27 27"><path d="M0,0.3H27L13.5,27ZM5.6,2.5L13.6,22.4L24.8,2.5Z" fill-rule="evenodd"/></svg><i>F</i>(<i>x</i>)<span class="bg">‖</span><span class="sp">2</span>/<i>σ</i><span class="sbsp"><span class="sb"><i>f</i></span><span class="sp2">2</span></span><span class="bg">)</span><span class="bg">]</span><span class="rel"><svg class="les" viewBox="0 0 23 30"><path d="M22.5,0.8L1,11.2L22.5,21.6M0.8,28.4H22.5" fill="none" stroke="currentColor" stroke-width="1.6"/></svg></span>exp(1)<span class="cm">,</span></span></div>
<div class="l" style="top:729.0px;left:1197.0px;font-size:36.50px;transform:scaleX(1.0300)"><span class="m"><svg class="bbe" viewBox="0 0 22 27"><g fill="none" stroke="currentColor" stroke-width="1.05"><path d="M3.8,1.2V25.6M8.2,1.2V25.6M0.6,1.2H20.2V6.5M8.2,13.2H15.5M15.5,10V16.4M0.6,25.6H21V19.6"/></g></svg><span class="ths"></span><span class="bg">[</span>exp<span class="ths"></span><span class="bg">(</span><span class="bg">‖</span><svg class="nbs" viewBox="0 0 27 27"><path d="M0,0.3H27L13.5,27ZM5.6,2.5L13.6,22.4L24.8,2.5Z" fill-rule="evenodd"/></svg><span class="sb"><i>x</i></span><i>g</i>(<i>x</i><span class="cm">,</span><i>ξ</i>)<span class="bin">−</span><svg class="nbs" viewBox="0 0 27 27"><path d="M0,0.3H27L13.5,27ZM5.6,2.5L13.6,22.4L24.8,2.5Z" fill-rule="evenodd"/></svg><i>G</i>(<i>x</i>)<span class="bg">‖</span><span class="sp">2</span>/<i>σ</i><span class="sbsp"><span class="sb"><i>g</i></span><span class="sp2">2</span></span><span class="bg">)</span><span class="bg">]</span><span class="rel"><svg class="les" viewBox="0 0 23 30"><path d="M22.5,0.8L1,11.2L22.5,21.6M0.8,28.4H22.5" fill="none" stroke="currentColor" stroke-width="1.6"/></svg></span>exp(1).</span></div>
<div class="l" style="top:784.5px;left:1121.0px;font-size:36.50px;transform:scaleX(0.8985)">Choose <span class="m"><i>q</i><span class="rel"><svg class="eqs" viewBox="0 0 64 22" preserveAspectRatio="none"><rect width="64" height="4.4"/><rect y="17.6" width="64" height="4.4"/></svg></span>1</span>.</div>
<div class="l" style="top:833.7px;left:1121.0px;font-size:36.50px;transform:scaleX(0.9534)">For any <span class="m"><i>t</i><span class="rel"><svg class="les" viewBox="0 0 23 30"><path d="M0.5,0.8L22,11.2L0.5,21.6M0.5,28.4H22.2" fill="none" stroke="currentColor" stroke-width="1.6"/></svg></span>0</span>, draw <span class="m"><i>θ</i><span class="sb"><i>t</i></span><span class="cm">,</span><i>ξ</i><span class="sb"><i>t</i></span></span>.</div>
<div class="l" style="top:883.0px;left:1121.0px;font-size:36.50px;transform:scaleX(0.9581)">When <span class="m"><i>t</i><span class="rel"><svg class="eqs" viewBox="0 0 64 22" preserveAspectRatio="none"><rect width="64" height="4.4"/><rect y="17.6" width="64" height="4.4"/></svg></span>0</span></div>
<div class="l" style="top:942.6px;left:1415.0px;font-size:36.50px;transform:scaleX(1.0412)"><span class="m"><span class="hat"><svg class="hs" viewBox="0 0 100 20" preserveAspectRatio="none"><path d="M1,17 L42,4 Q50,1.5 58,4 L99,17" fill="none" stroke="currentColor" stroke-width="1.4" vector-effect="non-scaling-stroke"/></svg><svg class="nbs" viewBox="0 0 27 27"><path d="M0,0.3H27L13.5,27ZM5.6,2.5L13.6,22.4L24.8,2.5Z" fill-rule="evenodd"/></svg><i>F</i></span><span class="sb"><i>t</i></span><span class="rel"><svg class="eqs" viewBox="0 0 64 22" preserveAspectRatio="none"><rect width="64" height="4.4"/><rect y="17.6" width="64" height="4.4"/></svg></span><svg class="nbs" viewBox="0 0 27 27"><path d="M0,0.3H27L13.5,27ZM5.6,2.5L13.6,22.4L24.8,2.5Z" fill-rule="evenodd"/></svg><span class="sb"><i>x</i></span><i>f</i>(<i>x</i><span class="sb"><i>t</i></span><span class="cm">,</span><i>θ</i><span class="sb"><i>t</i></span>)<span class="cm">,</span></span></div>
<div class="l" style="top:996.0px;left:1413.0px;font-size:36.50px;transform:scaleX(1.0261)"><span class="m"><span class="hat"><svg class="hs" viewBox="0 0 100 20" preserveAspectRatio="none"><path d="M1,17 L42,4 Q50,1.5 58,4 L99,17" fill="none" stroke="currentColor" stroke-width="1.4" vector-effect="non-scaling-stroke"/></svg><svg class="nbs" viewBox="0 0 27 27"><path d="M0,0.3H27L13.5,27ZM5.6,2.5L13.6,22.4L24.8,2.5Z" fill-rule="evenodd"/></svg><i>G</i></span><span class="sb"><i>t</i></span><span class="rel"><svg class="eqs" viewBox="0 0 64 22" preserveAspectRatio="none"><rect width="64" height="4.4"/><rect y="17.6" width="64" height="4.4"/></svg></span><svg class="nbs" viewBox="0 0 27 27"><path d="M0,0.3H27L13.5,27ZM5.6,2.5L13.6,22.4L24.8,2.5Z" fill-rule="evenodd"/></svg><span class="sb"><i>x</i></span><i>g</i>(<i>x</i><span class="sb"><i>t</i></span><span class="cm">,</span><i>ξ</i><span class="sb"><i>t</i></span>).</span></div>
<div class="l" style="top:1050.7px;left:1121.0px;font-size:36.50px;transform:scaleX(0.9639)">When <span class="m"><i>t</i><span class="rel"><svg class="les" viewBox="0 0 23 30"><path d="M0.5,0.8L22,11.2L0.5,21.6M0.5,28.4H22.2" fill="none" stroke="currentColor" stroke-width="1.6"/></svg></span>1</span>,</div>
<div class="l" style="top:1097.7px;left:1121.0px;font-size:36.50px;transform:scaleX(1.0718)"><span class="m"><span class="hat"><svg class="hs" viewBox="0 0 100 20" preserveAspectRatio="none"><path d="M1,17 L42,4 Q50,1.5 58,4 L99,17" fill="none" stroke="currentColor" stroke-width="1.4" vector-effect="non-scaling-stroke"/></svg><svg class="nbs" viewBox="0 0 27 27"><path d="M0,0.3H27L13.5,27ZM5.6,2.5L13.6,22.4L24.8,2.5Z" fill-rule="evenodd"/></svg><i>F</i></span><span class="sb"><i>t</i></span><span class="rel"><svg class="eqs" viewBox="0 0 64 22" preserveAspectRatio="none"><rect width="64" height="4.4"/><rect y="17.6" width="64" height="4.4"/></svg></span>(1<span class="bin">−</span><i>α</i><span class="sb"><i>t</i></span>)(<span class="hat"><svg class="hs" viewBox="0 0 100 20" preserveAspectRatio="none"><path d="M1,17 L42,4 Q50,1.5 58,4 L99,17" fill="none" stroke="currentColor" stroke-width="1.4" vector-effect="non-scaling-stroke"/></svg><svg class="nbs" viewBox="0 0 27 27"><path d="M0,0.3H27L13.5,27ZM5.6,2.5L13.6,22.4L24.8,2.5Z" fill-rule="evenodd"/></svg><i>F</i></span><span class="sb"><i>t</i><span class="bin">−</span>1</span><span class="bin">−</span><svg class="nbs" viewBox="0 0 27 27"><path d="M0,0.3H27L13.5,27ZM5.6,2.5L13.6,22.4L24.8,2.5Z" fill-rule="evenodd"/></svg><span class="sb"><i>x</i></span><i>f</i>(<i>x</i><span class="sb"><i>t</i><span class="bin">−</span>1</span><span class="cm">,</span><i>θ</i><span class="sb"><i>t</i></span>))<span class="bin">+</span><svg class="nbs" viewBox="0 0 27 27"><path d="M0,0.3H27L13.5,27ZM5.6,2.5L13.6,22.4L24.8,2.5Z" fill-rule="evenodd"/></svg><span class="sb"><i>x</i></span><i>f</i>(<i>x</i><span class="sb"><i>t</i></span><span class="cm">,</span><i>θ</i><span class="sb"><i>t</i></span>)<span class="cm">,</span></span></div>
<div class="l" style="top:1146.5px;left:1121.0px;font-size:36.50px;transform:scaleX(1.0573)"><span class="m"><span class="hat"><svg class="hs" viewBox="0 0 100 20" preserveAspectRatio="none"><path d="M1,17 L42,4 Q50,1.5 58,4 L99,17" fill="none" stroke="currentColor" stroke-width="1.4" vector-effect="non-scaling-stroke"/></svg><svg class="nbs" viewBox="0 0 27 27"><path d="M0,0.3H27L13.5,27ZM5.6,2.5L13.6,22.4L24.8,2.5Z" fill-rule="evenodd"/></svg><i>G</i></span><span class="sb"><i>t</i></span><span class="rel"><svg class="eqs" viewBox="0 0 64 22" preserveAspectRatio="none"><rect width="64" height="4.4"/><rect y="17.6" width="64" height="4.4"/></svg></span>(1<span class="bin">−</span><i>α</i><span class="sb"><i>t</i></span>)(<span class="hat"><svg class="hs" viewBox="0 0 100 20" preserveAspectRatio="none"><path d="M1,17 L42,4 Q50,1.5 58,4 L99,17" fill="none" stroke="currentColor" stroke-width="1.4" vector-effect="non-scaling-stroke"/></svg><svg class="nbs" viewBox="0 0 27 27"><path d="M0,0.3H27L13.5,27ZM5.6,2.5L13.6,22.4L24.8,2.5Z" fill-rule="evenodd"/></svg><i>G</i></span><span class="sb"><i>t</i><span class="bin">−</span>1</span><span class="bin">−</span><svg class="nbs" viewBox="0 0 27 27"><path d="M0,0.3H27L13.5,27ZM5.6,2.5L13.6,22.4L24.8,2.5Z" fill-rule="evenodd"/></svg><span class="sb"><i>x</i></span><i>g</i>(<i>x</i><span class="sb"><i>t</i><span class="bin">−</span>1</span><span class="cm">,</span><i>ξ</i><span class="sb"><i>t</i></span>))<span class="bin">+</span><svg class="nbs" viewBox="0 0 27 27"><path d="M0,0.3H27L13.5,27ZM5.6,2.5L13.6,22.4L24.8,2.5Z" fill-rule="evenodd"/></svg><span class="sb"><i>x</i></span><i>g</i>(<i>x</i><span class="sb"><i>t</i></span><span class="cm">,</span><i>ξ</i><span class="sb"><i>t</i></span>).</span></div>
<div class="l h" style="top:1272.5px;left:1095.0px;font-size:46.50px;transform:scaleX(0.8915)">Convergence Analysis I - Convex <span class="m"><i>F</i></span></div>
<div class="l" style="top:1375.0px;left:1121.0px;font-size:36.50px;transform:scaleX(1.0218)">Set <span class="m"><i>α</i><span class="sb"><i>t</i></span><span class="rel"><svg class="eqs" viewBox="0 0 64 22" preserveAspectRatio="none"><rect width="64" height="4.4"/><rect y="17.6" width="64" height="4.4"/></svg></span>(<i>t</i><span class="bin">+</span>1)<span class="sp"><span class="bin">−</span>1</span></span> and <span class="m"><i>σ</i><span class="sb"><i>t</i></span><span class="rel"><svg class="eqs" viewBox="0 0 64 22" preserveAspectRatio="none"><rect width="64" height="4.4"/><rect y="17.6" width="64" height="4.4"/></svg></span>(<i>t</i><span class="bin">+</span>1)<span class="sp"><span class="bin">−</span>1/4</span></span>.</div>
<div class="l" style="top:1425.7px;left:1121.0px;font-size:36.50px;transform:scaleX(0.9327)">Almost surely, it holds that</div>
<div class="l" style="top:1481.0px;left:1321.0px;font-size:36.50px;transform:scaleX(0.9798)"><span class="m">lim<span class="ths"></span>(<i>F</i>(<i>x</i><span class="sb"><i>t</i></span>)<span class="cm">,</span><i>G</i>(<i>x</i><span class="sb"><i>t</i></span>))<span class="rel"><svg class="eqs" viewBox="0 0 64 22" preserveAspectRatio="none"><rect width="64" height="4.4"/><rect y="17.6" width="64" height="4.4"/></svg></span>(<i>F</i><span class="sb">opt</span><span class="cm">,</span><i>G</i><span class="sb">opt</span>).</span></div>
<div class="l tight" style="top:1512.0px;left:1315.0px;font-size:25.55px;transform:scaleX(1.1072)"><span class="m"><i>t</i><span class="rel">→</span>∞</span></div>
<div class="l" style="top:1544.0px;left:1121.0px;font-size:36.50px;transform:scaleX(0.9406)">For any <span class="m"><i>δ</i><span class="rel">&gt;</span>0</span>, with probability at least <span class="m">1<span class="bin">−</span><i>δ</i></span></div>
<div class="l h" style="top:1969.5px;left:1095.0px;font-size:46.50px;transform:scaleX(0.8963)">Convergence Analysis I - Nonconvex <span class="m"><i>F</i></span></div>
<div class="l" style="top:2070.0px;left:1121.0px;font-size:36.50px;transform:scaleX(1.0224)">Set <span class="m"><i>α</i><span class="sb"><i>t</i></span><span class="rel"><svg class="eqs" viewBox="0 0 64 22" preserveAspectRatio="none"><rect width="64" height="4.4"/><rect y="17.6" width="64" height="4.4"/></svg></span>(<i>t</i><span class="bin">+</span>1)<span class="sp"><span class="bin">−</span>6/7</span></span> and <span class="m"><i>σ</i><span class="sb"><i>t</i></span><span class="rel"><svg class="eqs" viewBox="0 0 64 22" preserveAspectRatio="none"><rect width="64" height="4.4"/><rect y="17.6" width="64" height="4.4"/></svg></span>(<i>t</i><span class="bin">+</span>1)<span class="sp"><span class="bin">−</span>2/7</span></span>.</div>
<div class="l" style="top:2118.7px;left:1121.0px;font-size:36.50px;transform:scaleX(0.9327)">Almost surely, it holds that</div>
<div class="l" style="top:2171.5px;left:1339.0px;font-size:36.50px;transform:scaleX(0.9919)"><span class="m">lim<span class="ths"></span>(<span class="cal">F</span>(<i>x</i><span class="sb"><i>t</i></span>)<span class="cm">,</span><i>G</i>(<i>x</i><span class="sb"><i>t</i></span>))<span class="rel"><svg class="eqs" viewBox="0 0 64 22" preserveAspectRatio="none"><rect width="64" height="4.4"/><rect y="17.6" width="64" height="4.4"/></svg></span>(0<span class="cm">,</span><i>G</i><span class="sb">opt</span>).</span></div>
<div class="l tight" style="top:2205.0px;left:1330.0px;font-size:25.55px;transform:scaleX(1.1072)"><span class="m"><i>t</i><span class="rel">→</span>∞</span></div>
<div class="l" style="top:2237.6px;left:1121.0px;font-size:36.50px;transform:scaleX(0.9406)">For any <span class="m"><i>δ</i><span class="rel">&gt;</span>0</span>, with probability at least <span class="m">1<span class="bin">−</span><i>δ</i></span></div>
<div class="l" style="top:2489.5px;left:1121.0px;font-size:36.50px;transform:scaleX(0.8549)">where</div>
<div class="l" style="top:2543.0px;left:1238.6px;font-size:36.50px;transform:scaleX(1.0451)"><span class="m"><span class="cal">F</span>(<i>x</i>)<span class="rel">:<svg class="eqs" viewBox="0 0 64 22" preserveAspectRatio="none"><rect width="64" height="4.4"/><rect y="17.6" width="64" height="4.4"/></svg></span>max&nbsp;<svg class="nbs" viewBox="0 0 27 27"><path d="M0,0.3H27L13.5,27ZM5.6,2.5L13.6,22.4L24.8,2.5Z" fill-rule="evenodd"/></svg><i>F</i>(<i>x</i>)<span class="sp"><span class="tp">T</span></span>(<i>x</i><span class="bin">−</span><i>v</i>)<span class="cm">,</span><span class="quad"></span><span class="fa">A</span><i>x</i><span class="rel"><svg class="ins" viewBox="0 0 20 22"><path d="M19,1.5H11A9.5,9.5 0 0 0 11,20.5H19M1.5,11H18" fill="none" stroke="currentColor" stroke-width="1.9"/></svg></span><svg class="calx" viewBox="0 0 29 27"><g fill="none" stroke="currentColor" stroke-linecap="round"><path d="M6.6,4.8C8.5,2.6 11,1.4 13.4,1.6C15.6,2 15.4,6 15.6,12C15.9,19 16.6,24.6 19,25.2C20.8,25.6 22.4,24.4 23.4,23" stroke-width="2.6"/><path d="M2.2,25.2C6,21.5 10,18 14.5,14.6C19,11 23.5,7.5 26.4,3.8C27.2,2.7 27.6,2 27.2,1.4" stroke-width="1.15"/></g><ellipse cx="2.8" cy="24.9" rx="2" ry="1.6" fill="currentColor"/><ellipse cx="26.6" cy="2.6" rx="1.3" ry="1.6" fill="currentColor"/></svg>.</span></div>
<div class="l tight" style="top:2581.0px;left:1378.0px;font-size:25.55px;transform:scaleX(0.9576)"><span class="m"><i>v</i><svg class="ins" viewBox="0 0 20 22"><path d="M19,1.5H11A9.5,9.5 0 0 0 11,20.5H19M1.5,11H18" fill="none" stroke="currentColor" stroke-width="1.9"/></svg><svg class="calx" viewBox="0 0 29 27"><g fill="none" stroke="currentColor" stroke-linecap="round"><path d="M6.6,4.8C8.5,2.6 11,1.4 13.4,1.6C15.6,2 15.4,6 15.6,12C15.9,19 16.6,24.6 19,25.2C20.8,25.6 22.4,24.4 23.4,23" stroke-width="2.6"/><path d="M2.2,25.2C6,21.5 10,18 14.5,14.6C19,11 23.5,7.5 26.4,3.8C27.2,2.7 27.6,2 27.2,1.4" stroke-width="1.15"/></g><ellipse cx="2.8" cy="24.9" rx="2" ry="1.6" fill="currentColor"/><ellipse cx="26.6" cy="2.6" rx="1.3" ry="1.6" fill="currentColor"/></svg><span class="sb">opt</span></span></div>
<div class="l h" style="top:520.0px;left:2095.0px;font-size:46.50px;transform:scaleX(0.9402)">Estimator Selection II - IR-FSCG Method</div>
<div class="l" style="top:622.4px;left:2121.0px;font-size:36.50px;transform:scaleX(0.8952)">Assume <span class="m"><i>θ</i></span> and <span class="m"><i>ξ</i></span> have finite supports.</div>
<div class="l" style="top:671.0px;left:2121.0px;font-size:36.50px;transform:scaleX(0.9202)">Choose <span class="m"><i>q</i><span class="rel"><svg class="ins" viewBox="0 0 20 22"><path d="M19,1.5H11A9.5,9.5 0 0 0 11,20.5H19M1.5,11H18" fill="none" stroke="currentColor" stroke-width="1.9"/></svg></span>{1<span class="cm">,</span><span class="dots">.<span class="dsp"></span>.<span class="dsp"></span>.</span><span class="cm">,</span><i>n</i>}</span>.</div>
<div class="l" style="top:720.4px;left:2121.0px;font-size:36.50px;transform:scaleX(0.9328)">When <span class="m"><i>t</i><span class="rel"><svg class="eqs" viewBox="0 0 64 22" preserveAspectRatio="none"><rect width="64" height="4.4"/><rect y="17.6" width="64" height="4.4"/></svg></span>0&nbsp;(mod&nbsp;<i>q</i>)</span>, compute</div>
<div class="l" style="top:780.0px;left:2439.0px;font-size:36.50px;transform:scaleX(1.0285)"><span class="m"><span class="hat"><svg class="hs" viewBox="0 0 100 20" preserveAspectRatio="none"><path d="M1,17 L42,4 Q50,1.5 58,4 L99,17" fill="none" stroke="currentColor" stroke-width="1.4" vector-effect="non-scaling-stroke"/></svg><svg class="nbs" viewBox="0 0 27 27"><path d="M0,0.3H27L13.5,27ZM5.6,2.5L13.6,22.4L24.8,2.5Z" fill-rule="evenodd"/></svg><i>F</i></span><span class="sb"><i>t</i></span><span class="rel"><svg class="eqs" viewBox="0 0 64 22" preserveAspectRatio="none"><rect width="64" height="4.4"/><rect y="17.6" width="64" height="4.4"/></svg></span><svg class="nbs" viewBox="0 0 27 27"><path d="M0,0.3H27L13.5,27ZM5.6,2.5L13.6,22.4L24.8,2.5Z" fill-rule="evenodd"/></svg><i>F</i>(<i>x</i><span class="sb"><i>t</i></span>)<span class="cm">,</span></span></div>
<div class="l" style="top:833.7px;left:2436.7px;font-size:36.50px;transform:scaleX(1.0150)"><span class="m"><span class="hat"><svg class="hs" viewBox="0 0 100 20" preserveAspectRatio="none"><path d="M1,17 L42,4 Q50,1.5 58,4 L99,17" fill="none" stroke="currentColor" stroke-width="1.4" vector-effect="non-scaling-stroke"/></svg><svg class="nbs" viewBox="0 0 27 27"><path d="M0,0.3H27L13.5,27ZM5.6,2.5L13.6,22.4L24.8,2.5Z" fill-rule="evenodd"/></svg><i>G</i></span><span class="sb"><i>t</i></span><span class="rel"><svg class="eqs" viewBox="0 0 64 22" preserveAspectRatio="none"><rect width="64" height="4.4"/><rect y="17.6" width="64" height="4.4"/></svg></span><svg class="nbs" viewBox="0 0 27 27"><path d="M0,0.3H27L13.5,27ZM5.6,2.5L13.6,22.4L24.8,2.5Z" fill-rule="evenodd"/></svg><i>G</i>(<i>x</i><span class="sb"><i>t</i></span>).</span></div>
<div class="l" style="top:888.6px;left:2121.0px;font-size:36.50px;transform:scaleX(0.9526)">When <span class="m"><i>t</i><span class="rel">≠</span>0&nbsp;(mod&nbsp;<i>q</i>)</span>, draw <span class="m"><i>S</i></span> new i.i.d. samples <span class="m"><span class="cal">S</span><span class="sb"><i>f</i></span><span class="cm">,</span><span class="cal">S</span><span class="sb"><i>g</i></span></span></div>
<div class="l" style="top:937.3px;left:2121.0px;font-size:36.50px;transform:scaleX(0.8985)">and compute</div>
<div class="l" style="top:996.0px;left:2249.5px;font-size:36.50px;transform:scaleX(1.0709)"><span class="m"><span class="hat"><svg class="hs" viewBox="0 0 100 20" preserveAspectRatio="none"><path d="M1,17 L42,4 Q50,1.5 58,4 L99,17" fill="none" stroke="currentColor" stroke-width="1.4" vector-effect="non-scaling-stroke"/></svg><svg class="nbs" viewBox="0 0 27 27"><path d="M0,0.3H27L13.5,27ZM5.6,2.5L13.6,22.4L24.8,2.5Z" fill-rule="evenodd"/></svg><i>F</i></span><span class="sb"><i>t</i></span><span class="rel"><svg class="eqs" viewBox="0 0 64 22" preserveAspectRatio="none"><rect width="64" height="4.4"/><rect y="17.6" width="64" height="4.4"/></svg></span><span class="hat"><svg class="hs" viewBox="0 0 100 20" preserveAspectRatio="none"><path d="M1,17 L42,4 Q50,1.5 58,4 L99,17" fill="none" stroke="currentColor" stroke-width="1.4" vector-effect="non-scaling-stroke"/></svg><svg class="nbs" viewBox="0 0 27 27"><path d="M0,0.3H27L13.5,27ZM5.6,2.5L13.6,22.4L24.8,2.5Z" fill-rule="evenodd"/></svg><i>F</i></span><span class="sb"><i>t</i><span class="bin">−</span>1</span><span class="bin">+</span><svg class="nbs" viewBox="0 0 27 27"><path d="M0,0.3H27L13.5,27ZM5.6,2.5L13.6,22.4L24.8,2.5Z" fill-rule="evenodd"/></svg><i>f</i><span class="sb"><span class="cal">S</span><span class="sb"><i>f</i></span></span>(<i>x</i><span class="sb"><i>t</i></span>)<span class="bin">−</span><svg class="nbs" viewBox="0 0 27 27"><path d="M0,0.3H27L13.5,27ZM5.6,2.5L13.6,22.4L24.8,2.5Z" fill-rule="evenodd"/></svg><i>f</i><span class="sb"><span class="cal">S</span><span class="sb"><i>f</i></span></span>(<i>x</i><span class="sb"><i>t</i><span class="bin">−</span>1</span>)<span class="cm">,</span></span></div>
<div class="l" style="top:1050.7px;left:2247.0px;font-size:36.50px;transform:scaleX(1.0413)"><span class="m"><span class="hat"><svg class="hs" viewBox="0 0 100 20" preserveAspectRatio="none"><path d="M1,17 L42,4 Q50,1.5 58,4 L99,17" fill="none" stroke="currentColor" stroke-width="1.4" vector-effect="non-scaling-stroke"/></svg><svg class="nbs" viewBox="0 0 27 27"><path d="M0,0.3H27L13.5,27ZM5.6,2.5L13.6,22.4L24.8,2.5Z" fill-rule="evenodd"/></svg><i>G</i></span><span class="sb"><i>t</i></span><span class="rel"><svg class="eqs" viewBox="0 0 64 22" preserveAspectRatio="none"><rect width="64" height="4.4"/><rect y="17.6" width="64" height="4.4"/></svg></span><span class="hat"><svg class="hs" viewBox="0 0 100 20" preserveAspectRatio="none"><path d="M1,17 L42,4 Q50,1.5 58,4 L99,17" fill="none" stroke="currentColor" stroke-width="1.4" vector-effect="non-scaling-stroke"/></svg><svg class="nbs" viewBox="0 0 27 27"><path d="M0,0.3H27L13.5,27ZM5.6,2.5L13.6,22.4L24.8,2.5Z" fill-rule="evenodd"/></svg><i>G</i></span><span class="sb"><i>t</i><span class="bin">−</span>1</span><span class="bin">+</span><svg class="nbs" viewBox="0 0 27 27"><path d="M0,0.3H27L13.5,27ZM5.6,2.5L13.6,22.4L24.8,2.5Z" fill-rule="evenodd"/></svg><i>g</i><span class="sb"><span class="cal">S</span><span class="sb"><i>g</i></span></span>(<i>x</i><span class="sb"><i>t</i></span>)<span class="bin">−</span><svg class="nbs" viewBox="0 0 27 27"><path d="M0,0.3H27L13.5,27ZM5.6,2.5L13.6,22.4L24.8,2.5Z" fill-rule="evenodd"/></svg><i>g</i><span class="sb"><span class="cal">S</span><span class="sb"><i>g</i></span></span>(<i>x</i><span class="sb"><i>t</i><span class="bin">−</span>1</span>).</span></div>
<div class="l h" style="top:1189.7px;left:2095.0px;font-size:46.50px;transform:scaleX(0.8981)">Convergence Analysis II - Convex <span class="m"><i>F</i></span></div>
<div class="l" style="top:1292.4px;left:2121.0px;font-size:36.50px;transform:scaleX(1.0084)">Set <span class="m"><i>α</i><span class="sb"><i>t</i></span><span class="rel"><svg class="eqs" viewBox="0 0 64 22" preserveAspectRatio="none"><rect width="64" height="4.4"/><rect y="17.6" width="64" height="4.4"/></svg></span>(<i>t</i><span class="bin">+</span>1)<span class="sp"><span class="bin">−</span>1</span></span> and <span class="m"><i>σ</i><span class="sb"><i>t</i></span><span class="rel"><svg class="eqs" viewBox="0 0 64 22" preserveAspectRatio="none"><rect width="64" height="4.4"/><rect y="17.6" width="64" height="4.4"/></svg></span>(<i>t</i><span class="bin">+</span>1)<span class="sp"><span class="bin">−</span>1/2</span></span> for any <span class="m"><i>t</i><span class="rel"><svg class="les" viewBox="0 0 23 30"><path d="M0.5,0.8L22,11.2L0.5,21.6M0.5,28.4H22.2" fill="none" stroke="currentColor" stroke-width="1.6"/></svg></span><i>q</i></span>.</div>
<div class="l" style="top:1341.6px;left:2121.0px;font-size:36.50px;transform:scaleX(0.9274)">Almost surely, it holds that</div>
<div class="l" style="top:1396.0px;left:2321.0px;font-size:36.50px;transform:scaleX(0.9798)"><span class="m">lim<span class="ths"></span>(<i>F</i>(<i>x</i><span class="sb"><i>t</i></span>)<span class="cm">,</span><i>G</i>(<i>x</i><span class="sb"><i>t</i></span>))<span class="rel"><svg class="eqs" viewBox="0 0 64 22" preserveAspectRatio="none"><rect width="64" height="4.4"/><rect y="17.6" width="64" height="4.4"/></svg></span>(<i>F</i><span class="sb">opt</span><span class="cm">,</span><i>G</i><span class="sb">opt</span>).</span></div>
<div class="l tight" style="top:1428.0px;left:2315.0px;font-size:25.55px;transform:scaleX(1.1072)"><span class="m"><i>t</i><span class="rel">→</span>∞</span></div>
<div class="l" style="top:1459.3px;left:2121.0px;font-size:36.50px;transform:scaleX(0.9406)">For any <span class="m"><i>δ</i><span class="rel">&gt;</span>0</span>, with probability at least <span class="m">1<span class="bin">−</span><i>δ</i></span></div>
<div class="l h" style="top:1880.7px;left:2095.0px;font-size:46.50px;transform:scaleX(0.9007)">Convergence Analysis II - Nonconvex <span class="m"><i>F</i></span></div>
<div class="l" style="top:1984.6px;left:2121.0px;font-size:36.50px;transform:scaleX(1.0101)">Set <span class="m"><i>α</i><span class="sb"><i>t</i></span><span class="rel"><svg class="eqs" viewBox="0 0 64 22" preserveAspectRatio="none"><rect width="64" height="4.4"/><rect y="17.6" width="64" height="4.4"/></svg></span>(<i>t</i><span class="bin">+</span>1)<span class="sp"><span class="bin">−</span>3/4</span></span> and <span class="m"><i>σ</i><span class="sb"><i>t</i></span><span class="rel"><svg class="eqs" viewBox="0 0 64 22" preserveAspectRatio="none"><rect width="64" height="4.4"/><rect y="17.6" width="64" height="4.4"/></svg></span>(<i>t</i><span class="bin">+</span>1)<span class="sp"><span class="bin">−</span>1/2</span></span> for any <span class="m"><i>t</i><span class="rel">&gt;</span><i>q</i></span>.</div>
<div class="l" style="top:2033.4px;left:2121.0px;font-size:36.50px;transform:scaleX(0.9274)">Almost surely, it holds that</div>
<div class="l" style="top:2088.0px;left:2339.0px;font-size:36.50px;transform:scaleX(0.9919)"><span class="m">lim<span class="ths"></span>(<span class="cal">F</span>(<i>x</i><span class="sb"><i>t</i></span>)<span class="cm">,</span><i>G</i>(<i>x</i><span class="sb"><i>t</i></span>))<span class="rel"><svg class="eqs" viewBox="0 0 64 22" preserveAspectRatio="none"><rect width="64" height="4.4"/><rect y="17.6" width="64" height="4.4"/></svg></span>(0<span class="cm">,</span><i>G</i><span class="sb">opt</span>).</span></div>
<div class="l tight" style="top:2120.0px;left:2330.0px;font-size:25.55px;transform:scaleX(1.1072)"><span class="m"><i>t</i><span class="rel">→</span>∞</span></div>
<div class="l" style="top:2153.2px;left:2121.0px;font-size:36.50px;transform:scaleX(0.9406)">For any <span class="m"><i>δ</i><span class="rel">&gt;</span>0</span>, with probability at least <span class="m">1<span class="bin">−</span><i>δ</i></span></div>
<div class="l" style="top:2403.0px;left:2121.0px;font-size:36.50px;transform:scaleX(0.9413)">where <span class="m"><i>β</i><span class="sb"><i>i</i></span><span class="rel"><svg class="eqs" viewBox="0 0 64 22" preserveAspectRatio="none"><rect width="64" height="4.4"/><rect y="17.6" width="64" height="4.4"/></svg></span><i>σ</i><span class="sb"><i>i</i></span></span> if <span class="m"><i>i</i><span class="rel">&gt;</span><i>q</i></span> and otherwise,</div>
<div class="l h" style="top:517.0px;left:3093.5px;font-size:46.50px;transform:scaleX(0.9137)">Over-parameterized Regression (Convex)</div>
<div class="l h" style="top:1645.5px;left:3093.5px;font-size:46.50px;transform:scaleX(0.9195)">Dictionary Learning (Nonconvex)</div>
<div class="l" style="top:1640.0px;left:1251.6px;font-size:36.50px;transform:scaleX(1.0046)"><span class="m"><i>F</i>(<i>z</i><span class="sb"><i>t</i></span>)<span class="bin">−</span><i>F</i><span class="sb">opt</span><span class="rel"><svg class="les" viewBox="0 0 23 30"><path d="M22.5,0.8L1,11.2L22.5,21.6M0.8,28.4H22.5" fill="none" stroke="currentColor" stroke-width="1.6"/></svg></span><i>O</i></span></div>
<div class="l" style="top:1640.0px;left:1552.0px;font-size:36.50px;transform:scaleX(1.0704)"><span class="m"><i>t</i><span class="sp"><span class="bin">−</span>1/4</span></span></div>
<div class="l" style="top:1640.0px;left:1663.0px;font-size:36.50px;transform:scaleX(0.8551)"><span class="m">log</span></div>
<div class="l" style="top:1614.0px;left:1746.0px;font-size:36.50px;transform:scaleX(0.8771)"><span class="m"><i>d</i><i>t</i><span class="sp">2</span></span></div>
<div class="l" style="top:1666.0px;left:1759.0px;font-size:36.50px;transform:scaleX(0.6727)"><span class="m"><i>δ</i></span></div>
<div class="l" style="top:1644.0px;left:1864.0px;font-size:36.50px;transform:scaleX(0.4923)">,</div>
<div class="l" style="top:1788.0px;left:1262.5px;font-size:36.50px;transform:scaleX(0.9757)"><span class="m"><i>G</i>(<i>z</i><span class="sb"><i>t</i></span>)<span class="bin">−</span><i>G</i><span class="sb">opt</span><span class="rel"><svg class="les" viewBox="0 0 23 30"><path d="M22.5,0.8L1,11.2L22.5,21.6M0.8,28.4H22.5" fill="none" stroke="currentColor" stroke-width="1.6"/></svg></span><i>O</i></span></div>
<div class="l" style="top:1788.0px;left:1567.0px;font-size:36.50px;transform:scaleX(1.0704)"><span class="m"><i>t</i><span class="sp"><span class="bin">−</span>1/4</span></span></div>
<div class="l" style="top:1788.0px;left:1680.6px;font-size:36.50px;transform:scaleX(0.8046)"><span class="m">log</span></div>
<div class="l" style="top:1762.0px;left:1761.0px;font-size:36.50px;transform:scaleX(0.7888)"><span class="m"><i>d</i></span></div>
<div class="l" style="top:1812.0px;left:1762.0px;font-size:36.50px;transform:scaleX(0.6727)"><span class="m"><i>δ</i></span></div>
<div class="l" style="top:1788.0px;left:1853.0px;font-size:36.50px;transform:scaleX(0.4923)">.</div>
<div class="l sumbig" style="top:2289.0px;left:1274.8px;font-size:36.50px;transform:scaleX(1.0795)"><span class="m"><span class="sum">∑</span><span class="ss"><span class="ssp"><i>t</i></span><span class="ssb"><i>i</i><span class="rel"><svg class="eqs" viewBox="0 0 64 22" preserveAspectRatio="none"><rect width="64" height="4.4"/><rect y="17.6" width="64" height="4.4"/></svg></span>0</span></span><i>σ</i><span class="sb"><i>i</i></span><span class="cal">F</span>(<i>x</i><span class="sb"><i>i</i></span>)</span></div>
<div class="l sumbig" style="top:2344.0px;left:1316.6px;font-size:36.50px;transform:scaleX(1.0971)"><span class="m"><span class="sum">∑</span><span class="ss"><span class="ssp"><i>t</i></span><span class="ssb"><i>i</i><span class="rel"><svg class="eqs" viewBox="0 0 64 22" preserveAspectRatio="none"><rect width="64" height="4.4"/><rect y="17.6" width="64" height="4.4"/></svg></span>0</span></span><i>σ</i><span class="sb"><i>i</i></span></span></div>
<div class="l" style="top:2316.0px;left:1489.0px;font-size:36.50px;transform:scaleX(0.8636)"><span class="m"><span class="rel"><svg class="les" viewBox="0 0 23 30"><path d="M22.5,0.8L1,11.2L22.5,21.6M0.8,28.4H22.5" fill="none" stroke="currentColor" stroke-width="1.6"/></svg></span><i>O</i></span></div>
<div class="l" style="top:2312.1px;left:1593.5px;font-size:36.50px;transform:scaleX(1.0882)"><span class="m"><i>t</i><span class="sp"><span class="bin">−</span><span class="tf"><span class="tfa">1</span><span class="tfb">7</span></span></span></span></div>
<div class="l" style="top:2316.0px;left:1648.0px;font-size:36.50px;transform:scaleX(0.7968)"><span class="m">log</span></div>
<div class="l" style="top:2291.4px;left:1728.5px;font-size:36.50px;transform:scaleX(0.8771)"><span class="m"><i>d</i><i>t</i><span class="sp">2</span></span></div>
<div class="l" style="top:2339.0px;left:1741.6px;font-size:36.50px;transform:scaleX(0.6907)"><span class="m"><i>δ</i></span></div>
<div class="l" style="top:2320.0px;left:1840.0px;font-size:36.50px;transform:scaleX(0.4923)">,</div>
<div class="l" style="top:2417.7px;left:1291.0px;font-size:36.50px;transform:scaleX(0.9813)"><span class="m"><i>G</i>(<i>x</i><span class="sb"><i>t</i></span>)<span class="bin">−</span><i>G</i><span class="sb">opt</span><span class="rel"><svg class="les" viewBox="0 0 23 30"><path d="M22.5,0.8L1,11.2L22.5,21.6M0.8,28.4H22.5" fill="none" stroke="currentColor" stroke-width="1.6"/></svg></span><i>O</i></span></div>
<div class="l" style="top:2413.8px;left:1593.5px;font-size:36.50px;transform:scaleX(1.0882)"><span class="m"><i>t</i><span class="sp"><span class="bin">−</span><span class="tf"><span class="tfa">1</span><span class="tfb">7</span></span></span></span></div>
<div class="l" style="top:2417.7px;left:1648.0px;font-size:36.50px;transform:scaleX(0.7968)"><span class="m">log</span></div>
<div class="l" style="top:2391.5px;left:1728.5px;font-size:36.50px;transform:scaleX(0.8771)"><span class="m"><i>d</i><i>t</i><span class="sp">2</span></span></div>
<div class="l" style="top:2441.6px;left:1741.6px;font-size:36.50px;transform:scaleX(0.6907)"><span class="m"><i>δ</i></span></div>
<div class="l" style="top:2421.0px;left:1840.0px;font-size:36.50px;transform:scaleX(0.4923)">,</div>
<div class="l" style="top:1555.0px;left:2262.5px;font-size:36.50px;transform:scaleX(1.0046)"><span class="m"><i>F</i>(<i>z</i><span class="sb"><i>t</i></span>)<span class="bin">−</span><i>F</i><span class="sb">opt</span><span class="rel"><svg class="les" viewBox="0 0 23 30"><path d="M22.5,0.8L1,11.2L22.5,21.6M0.8,28.4H22.5" fill="none" stroke="currentColor" stroke-width="1.6"/></svg></span><i>O</i></span></div>
<div class="l" style="top:1555.0px;left:2563.0px;font-size:36.50px;transform:scaleX(1.0704)"><span class="m"><i>t</i><span class="sp"><span class="bin">−</span>1/2</span></span></div>
<div class="l" style="top:1555.0px;left:2676.0px;font-size:36.50px;transform:scaleX(0.8104)"><span class="m">log</span></div>
<div class="l" style="top:1529.0px;left:2757.0px;font-size:36.50px;transform:scaleX(0.9530)"><span class="m"><i>t</i><span class="sp">2</span></span></div>
<div class="l" style="top:1581.0px;left:2761.0px;font-size:36.50px;transform:scaleX(0.6952)"><span class="m"><i>δ</i></span></div>
<div class="l" style="top:1559.0px;left:2855.0px;font-size:36.50px;transform:scaleX(0.4923)">,</div>
<div class="l" style="top:1696.6px;left:2258.0px;font-size:36.50px;transform:scaleX(0.9757)"><span class="m"><i>G</i>(<i>z</i><span class="sb"><i>t</i></span>)<span class="bin">−</span><i>G</i><span class="sb">opt</span><span class="rel"><svg class="les" viewBox="0 0 23 30"><path d="M22.5,0.8L1,11.2L22.5,21.6M0.8,28.4H22.5" fill="none" stroke="currentColor" stroke-width="1.6"/></svg></span><i>O</i></span></div>
<div class="l" style="top:1696.6px;left:2563.0px;font-size:36.50px;transform:scaleX(1.0704)"><span class="m"><i>t</i><span class="sp"><span class="bin">−</span>1/2</span></span></div>
<div class="l" style="top:1696.6px;left:2676.0px;font-size:36.50px;transform:scaleX(0.8104)"><span class="m">log</span></div>
<div class="l" style="top:1672.7px;left:2757.0px;font-size:36.50px;transform:scaleX(0.7069)"><span class="m">1</span></div>
<div class="l" style="top:1722.8px;left:2758.0px;font-size:36.50px;transform:scaleX(0.6952)"><span class="m"><i>δ</i></span></div>
<div class="l" style="top:1696.6px;left:2844.0px;font-size:36.50px;transform:scaleX(0.4923)">.</div>
<div class="l sumbig" style="top:2205.0px;left:2284.4px;font-size:36.50px;transform:scaleX(1.0799)"><span class="m"><span class="sum">∑</span><span class="ss"><span class="ssp"><i>t</i></span><span class="ssb"><i>i</i><span class="rel"><svg class="eqs" viewBox="0 0 64 22" preserveAspectRatio="none"><rect width="64" height="4.4"/><rect y="17.6" width="64" height="4.4"/></svg></span>0</span></span><i>β</i><span class="sb"><i>i</i></span><span class="cal">F</span>(<i>x</i><span class="sb"><i>i</i></span>)</span></div>
<div class="l sumbig" style="top:2261.0px;left:2326.0px;font-size:36.50px;transform:scaleX(1.1125)"><span class="m"><span class="sum">∑</span><span class="ss"><span class="ssp"><i>t</i></span><span class="ssb"><i>i</i><span class="rel"><svg class="eqs" viewBox="0 0 64 22" preserveAspectRatio="none"><rect width="64" height="4.4"/><rect y="17.6" width="64" height="4.4"/></svg></span>0</span></span><i>β</i><span class="sb"><i>i</i></span></span></div>
<div class="l" style="top:2230.0px;left:2497.7px;font-size:36.50px;transform:scaleX(0.8676)"><span class="m"><span class="rel"><svg class="les" viewBox="0 0 23 30"><path d="M22.5,0.8L1,11.2L22.5,21.6M0.8,28.4H22.5" fill="none" stroke="currentColor" stroke-width="1.6"/></svg></span><i>O</i></span></div>
<div class="l" style="top:2226.1px;left:2600.0px;font-size:36.50px;transform:scaleX(1.1001)"><span class="m"><i>t</i><span class="sp"><span class="bin">−</span><span class="tf"><span class="tfa">1</span><span class="tfb">4</span></span></span></span></div>
<div class="l" style="top:2230.0px;left:2654.5px;font-size:36.50px;transform:scaleX(0.8454)"><span class="m">log</span></div>
<div class="l" style="top:2203.0px;left:2737.0px;font-size:36.50px;transform:scaleX(0.8797)"><span class="m"><i>t</i><span class="sp">2</span></span></div>
<div class="l" style="top:2253.0px;left:2740.0px;font-size:36.50px;transform:scaleX(0.7176)"><span class="m"><i>δ</i></span></div>
<div class="l" style="top:2233.0px;left:2829.0px;font-size:36.50px;transform:scaleX(0.4923)">,</div>
<div class="l" style="top:2331.0px;left:2299.5px;font-size:36.50px;transform:scaleX(0.9832)"><span class="m"><i>G</i>(<i>x</i><span class="sb"><i>t</i></span>)<span class="bin">−</span><i>G</i><span class="sb">opt</span><span class="rel"><svg class="les" viewBox="0 0 23 30"><path d="M22.5,0.8L1,11.2L22.5,21.6M0.8,28.4H22.5" fill="none" stroke="currentColor" stroke-width="1.6"/></svg></span><i>O</i></span></div>
<div class="l" style="top:2327.1px;left:2600.0px;font-size:36.50px;transform:scaleX(1.1001)"><span class="m"><i>t</i><span class="sp"><span class="bin">−</span><span class="tf"><span class="tfa">1</span><span class="tfb">4</span></span></span></span></div>
<div class="l" style="top:2331.0px;left:2654.5px;font-size:36.50px;transform:scaleX(0.8454)"><span class="m">log</span></div>
<div class="l" style="top:2302.7px;left:2737.0px;font-size:36.50px;transform:scaleX(0.8797)"><span class="m"><i>t</i><span class="sp">2</span></span></div>
<div class="l" style="top:2353.0px;left:2740.0px;font-size:36.50px;transform:scaleX(0.7176)"><span class="m"><i>δ</i></span></div>
<div class="l" style="top:2334.0px;left:2829.0px;font-size:36.50px;transform:scaleX(0.4923)">,</div>
<div class="l" style="top:2481.0px;left:2162.0px;font-size:36.50px;transform:scaleX(0.9035)"><span class="m"><i>β</i><span class="sb"><i>i</i></span><span class="rel"><svg class="eqs" viewBox="0 0 64 22" preserveAspectRatio="none"><rect width="64" height="4.4"/><rect y="17.6" width="64" height="4.4"/></svg></span></span></div>
<div class="l" style="top:2459.5px;left:2243.0px;font-size:36.50px;transform:scaleX(0.9986)"><span class="m"><i>σ</i><span class="sb">0</span>(<i>q</i><span class="bin">+</span>1)<span class="sp"><span class="bin">−</span>3/4</span>log(<i>q</i><span class="bin">+</span>1)</span></div>
<div class="l" style="top:2509.6px;left:2386.6px;font-size:36.50px;transform:scaleX(0.9416)"><span class="m"><i>q</i><span class="bin">+</span>1</span></div>
<div class="l" style="top:2481.0px;left:2646.0px;font-size:36.50px;transform:scaleX(0.8203)"><span class="m">1<span class="bin">−</span></span></div>
<div class="l" style="top:2459.5px;left:2711.0px;font-size:36.50px;transform:scaleX(0.9487)"><span class="m">log(<i>q</i><span class="bin">+</span>1)</span></div>
<div class="l" style="top:2509.6px;left:2748.0px;font-size:36.50px;transform:scaleX(0.9428)"><span class="m"><i>q</i><span class="bin">+</span>1</span></div>
<div class="l tight" style="top:2449.0px;left:2894.0px;font-size:25.55px;transform:scaleX(1.0298)"><span class="m"><i>q</i><span class="bin">−</span><i>i</i></span></div>
<div class="l" style="top:2481.0px;left:2946.0px;font-size:36.50px;transform:scaleX(0.4923)">.</div>
<div class="l" style="top:1004.8px;left:3090.0px;font-size:44.00px;transform:scaleX(0.8994)">Method</div>
<div class="l" style="top:1004.8px;left:3570.5px;font-size:44.00px;transform:scaleX(1.0244)">Avg. # of</div>
<div class="l" style="top:1059.5px;left:3590.0px;font-size:44.00px;transform:scaleX(0.9129)">iterations</div>
<div class="l" style="top:1004.8px;left:3802.6px;font-size:44.00px;transform:scaleX(1.0266)">Avg. # of</div>
<div class="l" style="top:1059.5px;left:3792.6px;font-size:44.00px;transform:scaleX(0.8661)">oracle calls</div>
<div class="l" style="top:1118.8px;left:3088.0px;font-size:44.00px;transform:scaleX(0.8735)"><span class="tt">IR-SCG</span></div>
<div class="l" style="top:1118.8px;left:3578.0px;font-size:44.00px;transform:scaleX(0.8500)">1182617.0</div>
<div class="l" style="top:1118.8px;left:3807.7px;font-size:44.00px;transform:scaleX(0.8500)">2365234.0</div>
<div class="l" style="top:1173.7px;left:3088.0px;font-size:44.00px;transform:scaleX(0.8737)"><span class="tt">IR-FSCG</span></div>
<div class="l" style="top:1173.7px;left:3596.0px;font-size:44.00px;transform:scaleX(0.8500)">369952.5</div>
<div class="l" style="top:1173.7px;left:3786.9px;font-size:44.00px;transform:scaleX(0.8500)">28240425.0</div>
<div class="l" style="top:1228.6px;left:3088.0px;font-size:44.00px;transform:scaleX(0.8604)"><span class="tt">SBCGI</span></div>
<div class="l" style="top:1228.6px;left:3637.6px;font-size:44.00px;transform:scaleX(0.8500)">6726.9</div>
<div class="l" style="top:1228.6px;left:3807.7px;font-size:44.00px;transform:scaleX(0.8500)">7428681.9</div>
<div class="l" style="top:1283.5px;left:3088.0px;font-size:44.00px;transform:scaleX(0.8710)"><span class="tt">SBCGF</span></div>
<div class="l" style="top:1283.5px;left:3637.6px;font-size:44.00px;transform:scaleX(0.8500)">6713.4</div>
<div class="l" style="top:1283.5px;left:3807.7px;font-size:44.00px;transform:scaleX(0.8500)">7935076.2</div>
<div class="l" style="top:1338.4px;left:3088.0px;font-size:44.00px;transform:scaleX(0.9002)"><span class="tt">aR-IP-SeG</span> (short step)</div>
<div class="l" style="top:1338.4px;left:3596.0px;font-size:44.00px;transform:scaleX(0.8500)">807700.2</div>
<div class="l" style="top:1338.4px;left:3807.7px;font-size:44.00px;transform:scaleX(0.8500)">3230800.8</div>
<div class="l" style="top:1393.3px;left:3088.0px;font-size:44.00px;transform:scaleX(0.9006)"><span class="tt">aR-IP-SeG</span> (long step)</div>
<div class="l" style="top:1393.3px;left:3596.0px;font-size:44.00px;transform:scaleX(0.8500)">799725.0</div>
<div class="l" style="top:1393.3px;left:3807.7px;font-size:44.00px;transform:scaleX(0.8500)">3199300.0</div>
<div class="l" style="top:1448.2px;left:3088.0px;font-size:44.00px;transform:scaleX(0.9047)"><span class="tt">SDBGD</span> (short step)</div>
<div class="l" style="top:1448.2px;left:3575.2px;font-size:44.00px;transform:scaleX(0.8500)">1250392.6</div>
<div class="l" style="top:1448.2px;left:3807.7px;font-size:44.00px;transform:scaleX(0.8500)">2500782.2</div>
<div class="l" style="top:1503.1px;left:3088.0px;font-size:44.00px;transform:scaleX(0.9051)"><span class="tt">SDBGD</span> (long step)</div>
<div class="l" style="top:1503.1px;left:3575.2px;font-size:44.00px;transform:scaleX(0.8500)">1243720.1</div>
<div class="l" style="top:1503.1px;left:3807.7px;font-size:44.00px;transform:scaleX(0.8500)">2487440.2</div>
<div class="l" style="top:2133.8px;left:3090.0px;font-size:44.00px;transform:scaleX(0.8994)">Method</div>
<div class="l" style="top:2133.8px;left:3570.5px;font-size:44.00px;transform:scaleX(1.0244)">Avg. # of</div>
<div class="l" style="top:2188.5px;left:3590.0px;font-size:44.00px;transform:scaleX(0.9129)">iterations</div>
<div class="l" style="top:2133.8px;left:3802.6px;font-size:44.00px;transform:scaleX(1.0266)">Avg. # of</div>
<div class="l" style="top:2188.5px;left:3792.6px;font-size:44.00px;transform:scaleX(0.8661)">oracle calls</div>
<div class="l" style="top:2247.8px;left:3088.0px;font-size:44.00px;transform:scaleX(0.8735)"><span class="tt">IR-SCG</span></div>
<div class="l" style="top:2247.8px;left:3616.8px;font-size:44.00px;transform:scaleX(0.8500)">32736.1</div>
<div class="l" style="top:2247.8px;left:3849.3px;font-size:44.00px;transform:scaleX(0.8500)">65472.2</div>
<div class="l" style="top:2302.7px;left:3088.0px;font-size:44.00px;transform:scaleX(0.8737)"><span class="tt">IR-FSCG</span></div>
<div class="l" style="top:2302.7px;left:3616.8px;font-size:44.00px;transform:scaleX(0.8500)">30532.6</div>
<div class="l" style="top:2302.7px;left:3807.7px;font-size:44.00px;transform:scaleX(0.8500)">1872851.0</div>
<div class="l" style="top:2357.6px;left:3088.0px;font-size:44.00px;transform:scaleX(0.8604)"><span class="tt">SBCGI</span></div>
<div class="l" style="top:2357.6px;left:3658.4px;font-size:44.00px;transform:scaleX(0.8500)">466.3</div>
<div class="l" style="top:2357.6px;left:3870.1px;font-size:44.00px;transform:scaleX(0.8500)">7440.6</div>
<div class="l" style="top:2412.5px;left:3088.0px;font-size:44.00px;transform:scaleX(0.8710)"><span class="tt">SBCGF</span></div>
<div class="l" style="top:2412.5px;left:3637.6px;font-size:44.00px;transform:scaleX(0.8500)">361.84</div>
<div class="l" style="top:2412.5px;left:3807.7px;font-size:44.00px;transform:scaleX(0.8500)">6147916.0</div>
<div class="l" style="top:2467.4px;left:3088.0px;font-size:44.00px;transform:scaleX(0.9002)"><span class="tt">aR-IP-SeG</span> (short step)</div>
<div class="l" style="top:2467.4px;left:3637.6px;font-size:44.00px;transform:scaleX(0.8500)">6290.0</div>
<div class="l" style="top:2467.4px;left:3849.3px;font-size:44.00px;transform:scaleX(0.8500)">25160.0</div>
<div class="l" style="top:2522.3px;left:3088.0px;font-size:44.00px;transform:scaleX(0.9006)"><span class="tt">aR-IP-SeG</span> (long step)</div>
<div class="l" style="top:2522.3px;left:3637.6px;font-size:44.00px;transform:scaleX(0.8500)">6278.1</div>
<div class="l" style="top:2522.3px;left:3852.1px;font-size:44.00px;transform:scaleX(0.8500)">25112.4</div>
<div class="l" style="top:2577.2px;left:3088.0px;font-size:44.00px;transform:scaleX(0.9047)"><span class="tt">SDBGD</span> (short step)</div>
<div class="l" style="top:2577.2px;left:3619.6px;font-size:44.00px;transform:scaleX(0.8500)">11441.3</div>
<div class="l" style="top:2577.2px;left:3849.3px;font-size:44.00px;transform:scaleX(0.8500)">22882.6</div>
<div class="l" style="top:2632.1px;left:3088.0px;font-size:44.00px;transform:scaleX(0.9051)"><span class="tt">SDBGD</span> (long step)</div>
<div class="l" style="top:2632.1px;left:3616.8px;font-size:44.00px;transform:scaleX(0.8500)">12239.3</div>
<div class="l" style="top:2632.1px;left:3849.3px;font-size:44.00px;transform:scaleX(0.8500)">24478.6</div>
<svg style="position:absolute;left:0;top:0" width="4075" height="2880" viewBox="0 0 4075 2880"><rect x="230" y="2598.0" width="803.0" height="2.0" fill="#1d1d1b"/><path d="M1545.6,1591.6 Q1510.4,1660.2 1545.6,1728.8 L1546.4,1728.0 Q1519.7,1660.2 1546.4,1592.4 Z" fill="#1d1d1b"/><path d="M1624.4,1671.0 L1628.4,1668.0 L1641.4,1711.4 L1661.0,1601.0 L1820.0,1601.0" fill="none" stroke="#1d1d1b" stroke-width="2.2" stroke-linejoin="miter"/><path d="M1628.4,1668.0 L1641.4,1711.4" stroke="#1d1d1b" stroke-width="4.2"/><path d="M1733.0,1613.0 Q1711.0,1660.0 1733.0,1707.0 L1733.8,1706.2 Q1717.4,1660.0 1733.8,1613.8 Z" fill="#1d1d1b"/><rect x="1744" y="1660.3" width="47.0" height="2.0" fill="#1d1d1b"/><path d="M1796.0,1613.0 Q1826.0,1660.0 1796.0,1707.0 L1795.2,1706.2 Q1819.6,1660.0 1795.2,1613.8 Z" fill="#1d1d1b"/><path d="M1822.0,1591.6 Q1857.2,1660.2 1822.0,1728.8 L1821.2,1728.0 Q1847.9,1660.2 1821.2,1592.4 Z" fill="#1d1d1b"/><path d="M1561.0,1742.0 Q1526.0,1809.5 1561.0,1877.0 L1561.8,1876.2 Q1535.2,1809.5 1561.8,1742.8 Z" fill="#1d1d1b"/><path d="M1642.0,1818.0 L1646.0,1815.0 L1656.7,1859.5 L1678.5,1748.4 L1811.0,1748.4" fill="none" stroke="#1d1d1b" stroke-width="2.2" stroke-linejoin="miter"/><path d="M1646.0,1815.0 L1656.7,1859.5" stroke="#1d1d1b" stroke-width="4.2"/><path d="M1748.0,1761.5 Q1726.0,1808.2 1748.0,1855.0 L1748.8,1854.2 Q1732.4,1808.2 1748.8,1762.3 Z" fill="#1d1d1b"/><rect x="1759" y="1807.5" width="22.0" height="2.0" fill="#1d1d1b"/><path d="M1785.0,1761.5 Q1815.0,1808.2 1785.0,1855.0 L1784.2,1854.2 Q1808.6,1808.2 1784.2,1762.3 Z" fill="#1d1d1b"/><path d="M1815.6,1742.0 Q1850.4,1809.5 1815.6,1877.0 L1814.8,1876.2 Q1841.2,1809.5 1814.8,1742.8 Z" fill="#1d1d1b"/><rect x="1273" y="2335.0" width="201.6" height="2.0" fill="#1d1d1b"/><path d="M1589.0,2291.0 Q1550.2,2336.5 1589.0,2382.0 L1589.8,2381.2 Q1556.4,2336.5 1589.8,2291.8 Z" fill="#1d1d1b"/><path d="M1722.0,2293.0 Q1687.2,2336.5 1722.0,2380.0 L1722.8,2379.2 Q1693.1,2336.5 1722.8,2293.8 Z" fill="#1d1d1b"/><rect x="1726" y="2334.7" width="48.0" height="2.0" fill="#1d1d1b"/><path d="M1776.5,2293.0 Q1815.5,2336.5 1776.5,2380.0 L1775.7,2379.2 Q1809.6,2336.5 1775.7,2293.8 Z" fill="#1d1d1b"/><path d="M1802.6,2291.0 Q1841.4,2336.5 1802.6,2382.0 L1801.8,2381.2 Q1835.2,2336.5 1801.8,2291.8 Z" fill="#1d1d1b"/><path d="M1589.0,2393.0 Q1550.2,2437.8 1589.0,2482.5 L1589.8,2481.7 Q1556.3,2437.8 1589.8,2393.8 Z" fill="#1d1d1b"/><path d="M1722.0,2395.0 Q1687.2,2437.5 1722.0,2480.0 L1722.8,2479.2 Q1693.0,2437.5 1722.8,2395.8 Z" fill="#1d1d1b"/><rect x="1726" y="2436.7" width="48.0" height="2.0" fill="#1d1d1b"/><path d="M1776.5,2395.0 Q1815.5,2437.5 1776.5,2480.0 L1775.7,2479.2 Q1809.7,2437.5 1775.7,2395.8 Z" fill="#1d1d1b"/><path d="M1802.6,2393.0 Q1841.4,2437.8 1802.6,2482.5 L1801.8,2481.7 Q1835.3,2437.8 1801.8,2393.8 Z" fill="#1d1d1b"/><path d="M2558.7,1509.0 Q2519.3,1577.5 2558.7,1646.0 L2559.5,1645.2 Q2528.6,1577.5 2559.5,1509.8 Z" fill="#1d1d1b"/><path d="M2637.4,1585.0 L2641.4,1582.0 L2653.0,1628.7 L2661.0,1517.6 L2813.5,1517.6" fill="none" stroke="#1d1d1b" stroke-width="2.2" stroke-linejoin="miter"/><path d="M2641.4,1582.0 L2653.0,1628.7" stroke="#1d1d1b" stroke-width="4.2"/><path d="M2752.5,1530.7 Q2717.5,1576.3 2752.5,1622.0 L2753.3,1621.2 Q2723.7,1576.3 2753.3,1531.5 Z" fill="#1d1d1b"/><rect x="2754.7" y="1575.4" width="28.3" height="2.0" fill="#1d1d1b"/><path d="M2787.0,1530.7 Q2823.0,1576.3 2787.0,1622.0 L2786.2,1621.2 Q2816.8,1576.3 2786.2,1531.5 Z" fill="#1d1d1b"/><path d="M2815.6,1509.0 Q2854.4,1577.5 2815.6,1646.0 L2814.8,1645.2 Q2845.1,1577.5 2814.8,1509.8 Z" fill="#1d1d1b"/><path d="M2558.7,1650.0 Q2519.3,1718.8 2558.7,1787.6 L2559.5,1786.8 Q2528.7,1718.8 2559.5,1650.8 Z" fill="#1d1d1b"/><path d="M2637.4,1727.0 L2641.4,1724.0 L2653.0,1770.0 L2674.0,1659.0 L2802.6,1659.0" fill="none" stroke="#1d1d1b" stroke-width="2.2" stroke-linejoin="miter"/><path d="M2641.4,1724.0 L2653.0,1770.0" stroke="#1d1d1b" stroke-width="4.2"/><path d="M2752.5,1672.0 Q2717.5,1717.8 2752.5,1763.7 L2753.3,1762.9 Q2723.7,1717.8 2753.3,1672.8 Z" fill="#1d1d1b"/><rect x="2754.7" y="1719.0" width="19.8" height="2.0" fill="#1d1d1b"/><path d="M2776.5,1672.0 Q2811.5,1717.8 2776.5,1763.7 L2775.7,1762.9 Q2805.3,1717.8 2775.7,1672.8 Z" fill="#1d1d1b"/><path d="M2804.8,1650.0 Q2843.2,1718.8 2804.8,1787.6 L2804.0,1786.8 Q2833.8,1718.8 2804.0,1650.8 Z" fill="#1d1d1b"/><rect x="2281" y="2249.0" width="202.0" height="2.0" fill="#1d1d1b"/><path d="M2598.0,2205.0 Q2558.0,2249.5 2598.0,2294.0 L2598.8,2293.2 Q2564.1,2249.5 2598.8,2205.8 Z" fill="#1d1d1b"/><path d="M2731.0,2207.0 Q2695.0,2249.5 2731.0,2292.0 L2731.8,2291.2 Q2700.8,2249.5 2731.8,2207.8 Z" fill="#1d1d1b"/><rect x="2735" y="2249.0" width="28.0" height="2.0" fill="#1d1d1b"/><path d="M2768.0,2207.0 Q2802.0,2249.5 2768.0,2292.0 L2767.2,2291.2 Q2796.2,2249.5 2767.2,2207.8 Z" fill="#1d1d1b"/><path d="M2794.0,2205.0 Q2833.0,2249.5 2794.0,2294.0 L2793.2,2293.2 Q2826.9,2249.5 2793.2,2205.8 Z" fill="#1d1d1b"/><path d="M2598.0,2306.6 Q2558.0,2351.3 2598.0,2396.0 L2598.8,2395.2 Q2564.1,2351.3 2598.8,2307.4 Z" fill="#1d1d1b"/><path d="M2731.0,2308.6 Q2695.0,2351.3 2731.0,2394.0 L2731.8,2393.2 Q2700.8,2351.3 2731.8,2309.4 Z" fill="#1d1d1b"/><rect x="2735" y="2350.0" width="28.0" height="2.0" fill="#1d1d1b"/><path d="M2768.0,2308.6 Q2802.0,2351.3 2768.0,2394.0 L2767.2,2393.2 Q2796.2,2351.3 2767.2,2309.4 Z" fill="#1d1d1b"/><path d="M2794.0,2306.6 Q2833.0,2351.3 2794.0,2396.0 L2793.2,2395.2 Q2826.9,2351.3 2793.2,2307.4 Z" fill="#1d1d1b"/><rect x="2243" y="2504.0" width="365.0" height="2.0" fill="#1d1d1b"/><path d="M2643.6,2459.0 Q2600.4,2504.8 2643.6,2550.5 L2644.4,2549.7 Q2606.6,2504.8 2644.4,2459.8 Z" fill="#1d1d1b"/><rect x="2710" y="2504.0" width="155.0" height="2.0" fill="#1d1d1b"/><path d="M2868.0,2459.0 Q2907.0,2504.8 2868.0,2550.5 L2867.2,2549.7 Q2900.8,2504.8 2867.2,2459.8 Z" fill="#1d1d1b"/><rect x="3075" y="1002.85" width="922" height="1.3" fill="#2a2a2a"/><rect x="3075" y="1112.65" width="922" height="1.3" fill="#b3b3b3"/><rect x="3075" y="1115.55" width="922" height="1.3" fill="#2a2a2a"/><rect x="3075" y="1555.75" width="922" height="1.3" fill="#b3b3b3"/><rect x="3074.55" y="1003.5" width="1.3" height="109.80" fill="#b3b3b3"/><rect x="3077.65" y="1003.5" width="1.3" height="109.80" fill="#2a2a2a"/><rect x="3527.85" y="1003.5" width="1.3" height="109.80" fill="#2a2a2a"/><rect x="3530.95" y="1003.5" width="1.3" height="109.80" fill="#2a2a2a"/><rect x="3760.95" y="1003.5" width="1.3" height="109.80" fill="#b3b3b3"/><rect x="3074.55" y="1116.2" width="1.3" height="440.20" fill="#b3b3b3"/><rect x="3077.65" y="1116.2" width="1.3" height="440.20" fill="#2a2a2a"/><rect x="3527.85" y="1116.2" width="1.3" height="440.20" fill="#2a2a2a"/><rect x="3530.95" y="1116.2" width="1.3" height="440.20" fill="#2a2a2a"/><rect x="3760.95" y="1116.2" width="1.3" height="440.20" fill="#b3b3b3"/><rect x="3075" y="2131.85" width="922" height="1.3" fill="#2a2a2a"/><rect x="3075" y="2241.65" width="922" height="1.3" fill="#b3b3b3"/><rect x="3075" y="2244.55" width="922" height="1.3" fill="#2a2a2a"/><rect x="3075" y="2684.75" width="922" height="1.3" fill="#b3b3b3"/><rect x="3074.55" y="2132.5" width="1.3" height="109.80" fill="#b3b3b3"/><rect x="3077.65" y="2132.5" width="1.3" height="109.80" fill="#2a2a2a"/><rect x="3527.85" y="2132.5" width="1.3" height="109.80" fill="#2a2a2a"/><rect x="3530.95" y="2132.5" width="1.3" height="109.80" fill="#2a2a2a"/><rect x="3760.95" y="2132.5" width="1.3" height="109.80" fill="#b3b3b3"/><rect x="3074.55" y="2245.2" width="1.3" height="440.20" fill="#b3b3b3"/><rect x="3077.65" y="2245.2" width="1.3" height="440.20" fill="#2a2a2a"/><rect x="3527.85" y="2245.2" width="1.3" height="440.20" fill="#2a2a2a"/><rect x="3530.95" y="2245.2" width="1.3" height="440.20" fill="#2a2a2a"/><rect x="3760.95" y="2245.2" width="1.3" height="440.20" fill="#b3b3b3"/></svg>
<svg style="position:absolute;left:0;top:0" width="4075" height="2880" viewBox="0 0 4075 2880"><g transform="translate(3080,600) scale(0.221794)"><rect x="255" y="88" width="1685" height="1305" fill="#fff"/><line x1="255" y1="312.1" x2="1940" y2="312.1" stroke="#e2e2e2" stroke-width="3" stroke-dasharray="6 6"/><line x1="245" y1="312.1" x2="255" y2="312.1" stroke="#333" stroke-width="3"/><line x1="255" y1="267.0" x2="1940" y2="267.0" stroke="#e2e2e2" stroke-width="3" stroke-dasharray="6 6"/><line x1="245" y1="267.0" x2="255" y2="267.0" stroke="#333" stroke-width="3"/><line x1="255" y1="235.0" x2="1940" y2="235.0" stroke="#e2e2e2" stroke-width="3" stroke-dasharray="6 6"/><line x1="245" y1="235.0" x2="255" y2="235.0" stroke="#333" stroke-width="3"/><line x1="255" y1="210.2" x2="1940" y2="210.2" stroke="#e2e2e2" stroke-width="3" stroke-dasharray="6 6"/><line x1="245" y1="210.2" x2="255" y2="210.2" stroke="#333" stroke-width="3"/><line x1="255" y1="189.9" x2="1940" y2="189.9" stroke="#e2e2e2" stroke-width="3" stroke-dasharray="6 6"/><line x1="245" y1="189.9" x2="255" y2="189.9" stroke="#333" stroke-width="3"/><line x1="255" y1="172.7" x2="1940" y2="172.7" stroke="#e2e2e2" stroke-width="3" stroke-dasharray="6 6"/><line x1="245" y1="172.7" x2="255" y2="172.7" stroke="#333" stroke-width="3"/><line x1="255" y1="157.8" x2="1940" y2="157.8" stroke="#e2e2e2" stroke-width="3" stroke-dasharray="6 6"/><line x1="245" y1="157.8" x2="255" y2="157.8" stroke="#333" stroke-width="3"/><line x1="255" y1="144.7" x2="1940" y2="144.7" stroke="#e2e2e2" stroke-width="3" stroke-dasharray="6 6"/><line x1="245" y1="144.7" x2="255" y2="144.7" stroke="#333" stroke-width="3"/><line x1="255" y1="568.4" x2="1940" y2="568.4" stroke="#e2e2e2" stroke-width="3" stroke-dasharray="6 6"/><line x1="245" y1="568.4" x2="255" y2="568.4" stroke="#333" stroke-width="3"/><line x1="255" y1="523.3" x2="1940" y2="523.3" stroke="#e2e2e2" stroke-width="3" stroke-dasharray="6 6"/><line x1="245" y1="523.3" x2="255" y2="523.3" stroke="#333" stroke-width="3"/><line x1="255" y1="491.3" x2="1940" y2="491.3" stroke="#e2e2e2" stroke-width="3" stroke-dasharray="6 6"/><line x1="245" y1="491.3" x2="255" y2="491.3" stroke="#333" stroke-width="3"/><line x1="255" y1="466.5" x2="1940" y2="466.5" stroke="#e2e2e2" stroke-width="3" stroke-dasharray="6 6"/><line x1="245" y1="466.5" x2="255" y2="466.5" stroke="#333" stroke-width="3"/><line x1="255" y1="446.2" x2="1940" y2="446.2" stroke="#e2e2e2" stroke-width="3" stroke-dasharray="6 6"/><line x1="245" y1="446.2" x2="255" y2="446.2" stroke="#333" stroke-width="3"/><line x1="255" y1="429.0" x2="1940" y2="429.0" stroke="#e2e2e2" stroke-width="3" stroke-dasharray="6 6"/><line x1="245" y1="429.0" x2="255" y2="429.0" stroke="#333" stroke-width="3"/><line x1="255" y1="414.1" x2="1940" y2="414.1" stroke="#e2e2e2" stroke-width="3" stroke-dasharray="6 6"/><line x1="245" y1="414.1" x2="255" y2="414.1" stroke="#333" stroke-width="3"/><line x1="255" y1="401.0" x2="1940" y2="401.0" stroke="#e2e2e2" stroke-width="3" stroke-dasharray="6 6"/><line x1="245" y1="401.0" x2="255" y2="401.0" stroke="#333" stroke-width="3"/><line x1="255" y1="824.7" x2="1940" y2="824.7" stroke="#e2e2e2" stroke-width="3" stroke-dasharray="6 6"/><line x1="245" y1="824.7" x2="255" y2="824.7" stroke="#333" stroke-width="3"/><line x1="255" y1="779.6" x2="1940" y2="779.6" stroke="#e2e2e2" stroke-width="3" stroke-dasharray="6 6"/><line x1="245" y1="779.6" x2="255" y2="779.6" stroke="#333" stroke-width="3"/><line x1="255" y1="747.6" x2="1940" y2="747.6" stroke="#e2e2e2" stroke-width="3" stroke-dasharray="6 6"/><line x1="245" y1="747.6" x2="255" y2="747.6" stroke="#333" stroke-width="3"/><line x1="255" y1="722.8" x2="1940" y2="722.8" stroke="#e2e2e2" stroke-width="3" stroke-dasharray="6 6"/><line x1="245" y1="722.8" x2="255" y2="722.8" stroke="#333" stroke-width="3"/><line x1="255" y1="702.5" x2="1940" y2="702.5" stroke="#e2e2e2" stroke-width="3" stroke-dasharray="6 6"/><line x1="245" y1="702.5" x2="255" y2="702.5" stroke="#333" stroke-width="3"/><line x1="255" y1="685.3" x2="1940" y2="685.3" stroke="#e2e2e2" stroke-width="3" stroke-dasharray="6 6"/><line x1="245" y1="685.3" x2="255" y2="685.3" stroke="#333" stroke-width="3"/><line x1="255" y1="670.4" x2="1940" y2="670.4" stroke="#e2e2e2" stroke-width="3" stroke-dasharray="6 6"/><line x1="245" y1="670.4" x2="255" y2="670.4" stroke="#333" stroke-width="3"/><line x1="255" y1="657.3" x2="1940" y2="657.3" stroke="#e2e2e2" stroke-width="3" stroke-dasharray="6 6"/><line x1="245" y1="657.3" x2="255" y2="657.3" stroke="#333" stroke-width="3"/><line x1="255" y1="1081.0" x2="1940" y2="1081.0" stroke="#e2e2e2" stroke-width="3" stroke-dasharray="6 6"/><line x1="245" y1="1081.0" x2="255" y2="1081.0" stroke="#333" stroke-width="3"/><line x1="255" y1="1035.9" x2="1940" y2="1035.9" stroke="#e2e2e2" stroke-width="3" stroke-dasharray="6 6"/><line x1="245" y1="1035.9" x2="255" y2="1035.9" stroke="#333" stroke-width="3"/><line x1="255" y1="1003.9" x2="1940" y2="1003.9" stroke="#e2e2e2" stroke-width="3" stroke-dasharray="6 6"/><line x1="245" y1="1003.9" x2="255" y2="1003.9" stroke="#333" stroke-width="3"/><line x1="255" y1="979.1" x2="1940" y2="979.1" stroke="#e2e2e2" stroke-width="3" stroke-dasharray="6 6"/><line x1="245" y1="979.1" x2="255" y2="979.1" stroke="#333" stroke-width="3"/><line x1="255" y1="958.8" x2="1940" y2="958.8" stroke="#e2e2e2" stroke-width="3" stroke-dasharray="6 6"/><line x1="245" y1="958.8" x2="255" y2="958.8" stroke="#333" stroke-width="3"/><line x1="255" y1="941.6" x2="1940" y2="941.6" stroke="#e2e2e2" stroke-width="3" stroke-dasharray="6 6"/><line x1="245" y1="941.6" x2="255" y2="941.6" stroke="#333" stroke-width="3"/><line x1="255" y1="926.7" x2="1940" y2="926.7" stroke="#e2e2e2" stroke-width="3" stroke-dasharray="6 6"/><line x1="245" y1="926.7" x2="255" y2="926.7" stroke="#333" stroke-width="3"/><line x1="255" y1="913.6" x2="1940" y2="913.6" stroke="#e2e2e2" stroke-width="3" stroke-dasharray="6 6"/><line x1="245" y1="913.6" x2="255" y2="913.6" stroke="#333" stroke-width="3"/><line x1="255" y1="1337.3" x2="1940" y2="1337.3" stroke="#e2e2e2" stroke-width="3" stroke-dasharray="6 6"/><line x1="245" y1="1337.3" x2="255" y2="1337.3" stroke="#333" stroke-width="3"/><line x1="255" y1="1292.2" x2="1940" y2="1292.2" stroke="#e2e2e2" stroke-width="3" stroke-dasharray="6 6"/><line x1="245" y1="1292.2" x2="255" y2="1292.2" stroke="#333" stroke-width="3"/><line x1="255" y1="1260.2" x2="1940" y2="1260.2" stroke="#e2e2e2" stroke-width="3" stroke-dasharray="6 6"/><line x1="245" y1="1260.2" x2="255" y2="1260.2" stroke="#333" stroke-width="3"/><line x1="255" y1="1235.4" x2="1940" y2="1235.4" stroke="#e2e2e2" stroke-width="3" stroke-dasharray="6 6"/><line x1="245" y1="1235.4" x2="255" y2="1235.4" stroke="#333" stroke-width="3"/><line x1="255" y1="1215.1" x2="1940" y2="1215.1" stroke="#e2e2e2" stroke-width="3" stroke-dasharray="6 6"/><line x1="245" y1="1215.1" x2="255" y2="1215.1" stroke="#333" stroke-width="3"/><line x1="255" y1="1197.9" x2="1940" y2="1197.9" stroke="#e2e2e2" stroke-width="3" stroke-dasharray="6 6"/><line x1="245" y1="1197.9" x2="255" y2="1197.9" stroke="#333" stroke-width="3"/><line x1="255" y1="1183.0" x2="1940" y2="1183.0" stroke="#e2e2e2" stroke-width="3" stroke-dasharray="6 6"/><line x1="245" y1="1183.0" x2="255" y2="1183.0" stroke="#333" stroke-width="3"/><line x1="255" y1="1169.9" x2="1940" y2="1169.9" stroke="#e2e2e2" stroke-width="3" stroke-dasharray="6 6"/><line x1="245" y1="1169.9" x2="255" y2="1169.9" stroke="#333" stroke-width="3"/><line x1="255" y1="133" x2="1940" y2="133" stroke="#d0d0d0" stroke-width="4" stroke-dasharray="8 7"/><line x1="239" y1="133" x2="255" y2="133" stroke="#222" stroke-width="4"/><text x="227" y="151" font-size="56" text-anchor="end" font-family="Liberation Serif" fill="#222">10<tspan dy="-23.5" font-size="39.2">−2</tspan></text><line x1="255" y1="390" x2="1940" y2="390" stroke="#d0d0d0" stroke-width="4" stroke-dasharray="8 7"/><line x1="239" y1="390" x2="255" y2="390" stroke="#222" stroke-width="4"/><text x="227" y="408" font-size="56" text-anchor="end" font-family="Liberation Serif" fill="#222">10<tspan dy="-23.5" font-size="39.2">−3</tspan></text><line x1="255" y1="647" x2="1940" y2="647" stroke="#d0d0d0" stroke-width="4" stroke-dasharray="8 7"/><line x1="239" y1="647" x2="255" y2="647" stroke="#222" stroke-width="4"/><text x="227" y="665" font-size="56" text-anchor="end" font-family="Liberation Serif" fill="#222">10<tspan dy="-23.5" font-size="39.2">−4</tspan></text><line x1="255" y1="903" x2="1940" y2="903" stroke="#d0d0d0" stroke-width="4" stroke-dasharray="8 7"/><line x1="239" y1="903" x2="255" y2="903" stroke="#222" stroke-width="4"/><text x="227" y="921" font-size="56" text-anchor="end" font-family="Liberation Serif" fill="#222">10<tspan dy="-23.5" font-size="39.2">−5</tspan></text><line x1="255" y1="1158" x2="1940" y2="1158" stroke="#d0d0d0" stroke-width="4" stroke-dasharray="8 7"/><line x1="239" y1="1158" x2="255" y2="1158" stroke="#222" stroke-width="4"/><text x="227" y="1176" font-size="56" text-anchor="end" font-family="Liberation Serif" fill="#222">10<tspan dy="-23.5" font-size="39.2">−6</tspan></text><line x1="327" y1="88" x2="327" y2="1393" stroke="#d0d0d0" stroke-width="4" stroke-dasharray="8 7"/><line x1="327" y1="1393" x2="327" y2="1409" stroke="#222" stroke-width="4"/><text x="327" y="1461" font-size="56" text-anchor="middle" font-family="Liberation Serif" fill="#222">0</text><line x1="648" y1="88" x2="648" y2="1393" stroke="#d0d0d0" stroke-width="4" stroke-dasharray="8 7"/><line x1="648" y1="1393" x2="648" y2="1409" stroke="#222" stroke-width="4"/><text x="648" y="1461" font-size="56" text-anchor="middle" font-family="Liberation Serif" fill="#222">50</text><line x1="968" y1="88" x2="968" y2="1393" stroke="#d0d0d0" stroke-width="4" stroke-dasharray="8 7"/><line x1="968" y1="1393" x2="968" y2="1409" stroke="#222" stroke-width="4"/><text x="968" y="1461" font-size="56" text-anchor="middle" font-family="Liberation Serif" fill="#222">100</text><line x1="1290" y1="88" x2="1290" y2="1393" stroke="#d0d0d0" stroke-width="4" stroke-dasharray="8 7"/><line x1="1290" y1="1393" x2="1290" y2="1409" stroke="#222" stroke-width="4"/><text x="1290" y="1461" font-size="56" text-anchor="middle" font-family="Liberation Serif" fill="#222">150</text><line x1="1610" y1="88" x2="1610" y2="1393" stroke="#d0d0d0" stroke-width="4" stroke-dasharray="8 7"/><line x1="1610" y1="1393" x2="1610" y2="1409" stroke="#222" stroke-width="4"/><text x="1610" y="1461" font-size="56" text-anchor="middle" font-family="Liberation Serif" fill="#222">200</text><line x1="1930" y1="88" x2="1930" y2="1393" stroke="#d0d0d0" stroke-width="4" stroke-dasharray="8 7"/><line x1="1930" y1="1393" x2="1930" y2="1409" stroke="#222" stroke-width="4"/><text x="1930" y="1461" font-size="56" text-anchor="middle" font-family="Liberation Serif" fill="#222">250</text><path d="M332.0,683.0 C332.5,695.8 333.3,727.2 335.0,760.0 C336.7,792.8 339.2,848.3 342.0,880.0 C344.8,911.7 347.7,930.0 352.0,950.0 C356.3,970.0 362.5,985.0 368.0,1000.0 C373.5,1015.0 378.0,1027.5 385.0,1040.0 C392.0,1052.5 399.2,1063.3 410.0,1075.0 C420.8,1086.7 431.7,1096.7 450.0,1110.0 C468.3,1123.3 486.7,1139.2 520.0,1155.0 C553.3,1170.8 603.3,1190.8 650.0,1205.0 C696.7,1219.2 747.0,1230.5 800.0,1240.0 C853.0,1249.5 886.3,1252.8 968.0,1262.0 C1049.7,1271.2 1183.0,1285.3 1290.0,1295.0 C1397.0,1304.7 1513.3,1313.3 1610.0,1320.0 C1706.7,1326.7 1826.7,1332.5 1870.0,1335.0" fill="none" stroke="#ff7f0e" stroke-width="11" stroke-linejoin="round" stroke-linecap="round"/><rect x="313.95" y="664.95" width="36.1" height="36.1" fill="#ff7f0e"/><rect x="631.95" y="1186.95" width="36.1" height="36.1" fill="#ff7f0e"/><rect x="956.95" y="1243.95" width="36.1" height="36.1" fill="#ff7f0e"/><rect x="1276.95" y="1279.95" width="36.1" height="36.1" fill="#ff7f0e"/><rect x="1596.95" y="1301.95" width="36.1" height="36.1" fill="#ff7f0e"/><path d="M527.0,1325.0 C547.5,1321.7 604.5,1310.0 650.0,1305.0 C695.5,1300.0 747.0,1298.3 800.0,1295.0 C853.0,1291.7 918.0,1287.5 968.0,1285.0 C1018.0,1282.5 1046.3,1283.8 1100.0,1280.0 C1153.7,1276.2 1205.0,1268.3 1290.0,1262.0 C1375.0,1255.7 1513.3,1247.7 1610.0,1242.0 C1706.7,1236.3 1826.7,1230.3 1870.0,1228.0" fill="none" stroke="#d62728" stroke-width="11" stroke-linejoin="round" stroke-linecap="round"/><path d="M527,1301.25 L546.95,1325 L527,1348.75 L507.05,1325Z" fill="#d62728"/><path d="M650,1281.25 L669.95,1305 L650,1328.75 L630.05,1305Z" fill="#d62728"/><path d="M970,1261.25 L989.95,1285 L970,1308.75 L950.05,1285Z" fill="#d62728"/><path d="M1295,1238.25 L1314.95,1262 L1295,1285.75 L1275.05,1262Z" fill="#d62728"/><path d="M1615,1218.25 L1634.95,1242 L1615,1265.75 L1595.05,1242Z" fill="#d62728"/><path d="M332.0,445.0 C333.0,454.2 335.0,483.3 338.0,500.0 C341.0,516.7 343.0,530.8 350.0,545.0 C357.0,559.2 366.7,570.8 380.0,585.0 C393.3,599.2 410.0,617.5 430.0,630.0 C450.0,642.5 463.3,649.2 500.0,660.0 C536.7,670.8 572.0,679.7 650.0,695.0 C728.0,710.3 861.3,736.2 968.0,752.0 C1074.7,767.8 1183.0,778.3 1290.0,790.0 C1397.0,801.7 1513.3,813.7 1610.0,822.0 C1706.7,830.3 1826.7,837.0 1870.0,840.0" fill="none" stroke="#9467bd" stroke-width="11" stroke-linejoin="round" stroke-linecap="round"/><polygon points="332.0,425.1 351.0,438.8 343.7,461.1 320.3,461.1 313.0,438.8" fill="#9467bd"/><polygon points="650.0,675.0 669.0,688.8 661.7,711.1 638.3,711.1 631.0,688.8" fill="#9467bd"/><polygon points="975.0,732.0 994.0,745.8 986.7,768.1 963.3,768.1 956.0,745.8" fill="#9467bd"/><polygon points="1295.0,770.0 1314.0,783.8 1306.7,806.1 1283.3,806.1 1276.0,783.8" fill="#9467bd"/><polygon points="1615.0,802.0 1634.0,815.8 1626.7,838.1 1603.3,838.1 1596.0,815.8" fill="#9467bd"/><path d="M327.0,170.0 C339.2,191.7 379.5,253.3 400.0,300.0 C420.5,346.7 433.3,405.0 450.0,450.0 C466.7,495.0 483.3,535.0 500.0,570.0 C516.7,605.0 525.0,637.5 550.0,660.0 C575.0,682.5 580.3,695.8 650.0,705.0 C719.7,714.2 861.3,712.5 968.0,715.0 C1074.7,717.5 1183.0,718.8 1290.0,720.0 C1397.0,721.2 1513.3,721.7 1610.0,722.0 C1706.7,722.3 1826.7,722.0 1870.0,722.0" fill="none" stroke="#e377c2" stroke-width="11" stroke-linejoin="round" stroke-linecap="round"/><path d="M327.0,170.0 C339.2,191.7 379.5,253.3 400.0,300.0 C420.5,346.7 433.3,405.0 450.0,450.0 C466.7,495.0 483.3,535.0 500.0,570.0 C516.7,605.0 525.0,637.2 550.0,660.0 C575.0,682.8 580.3,697.3 650.0,707.0 C719.7,716.7 861.3,715.5 968.0,718.0 C1074.7,720.5 1183.0,720.8 1290.0,722.0 C1397.0,723.2 1513.3,724.5 1610.0,725.0 C1706.7,725.5 1826.7,725.0 1870.0,725.0" fill="none" stroke="#7f7f7f" stroke-width="11" stroke-linejoin="round" stroke-linecap="round"/><g transform="translate(327,170) rotate(45)"><rect x="-19.0" y="-8.55" width="38.0" height="17.1" fill="#7f7f7f"/><rect x="-8.55" y="-19.0" width="17.1" height="38.0" fill="#7f7f7f"/></g><g transform="translate(650,707) rotate(45)"><rect x="-19.0" y="-8.55" width="38.0" height="17.1" fill="#7f7f7f"/><rect x="-8.55" y="-19.0" width="17.1" height="38.0" fill="#7f7f7f"/></g><g transform="translate(975,718) rotate(45)"><rect x="-19.0" y="-8.55" width="38.0" height="17.1" fill="#7f7f7f"/><rect x="-8.55" y="-19.0" width="17.1" height="38.0" fill="#7f7f7f"/></g><g transform="translate(1295,722) rotate(45)"><rect x="-19.0" y="-8.55" width="38.0" height="17.1" fill="#7f7f7f"/><rect x="-8.55" y="-19.0" width="17.1" height="38.0" fill="#7f7f7f"/></g><g transform="translate(1615,725) rotate(45)"><rect x="-19.0" y="-8.55" width="38.0" height="17.1" fill="#7f7f7f"/><rect x="-8.55" y="-19.0" width="17.1" height="38.0" fill="#7f7f7f"/></g><path d="M327.0,190.0 C339.2,202.0 371.2,240.0 400.0,262.0 C428.8,284.0 458.3,299.8 500.0,322.0 C541.7,344.2 600.0,376.7 650.0,395.0 C700.0,413.3 747.0,419.5 800.0,432.0 C853.0,444.5 886.3,455.3 968.0,470.0 C1049.7,484.7 1183.0,505.8 1290.0,520.0 C1397.0,534.2 1513.3,545.0 1610.0,555.0 C1706.7,565.0 1826.7,575.8 1870.0,580.0" fill="none" stroke="#8c564b" stroke-width="11" stroke-linejoin="round" stroke-linecap="round"/><polygon points="650.0,375.8 654.7,388.5 668.3,389.1 657.6,397.5 661.3,410.5 650.0,403.0 638.7,410.5 642.4,397.5 631.7,389.1 645.3,388.5" fill="#8c564b"/><polygon points="975.0,450.8 979.7,463.5 993.3,464.1 982.6,472.5 986.3,485.5 975.0,478.0 963.7,485.5 967.4,472.5 956.7,464.1 970.3,463.5" fill="#8c564b"/><polygon points="1295.0,500.8 1299.7,513.5 1313.3,514.1 1302.6,522.5 1306.3,535.5 1295.0,528.0 1283.7,535.5 1287.4,522.5 1276.7,514.1 1290.3,513.5" fill="#8c564b"/><polygon points="1615.0,535.8 1619.7,548.5 1633.3,549.1 1622.6,557.5 1626.3,570.5 1615.0,563.0 1603.7,570.5 1607.4,557.5 1596.7,549.1 1610.3,548.5" fill="#8c564b"/><path d="M522.0,645.0 L525.0,585.0 L560.0,575.0 L650.0,560.0 L800.0,548.0 L968.0,545.0 L1290.0,540.0 L1610.0,535.0 L1870.0,533.0" fill="none" stroke="#2ca02c" stroke-width="11" stroke-linejoin="round" stroke-linecap="round"/><path d="M525,558.15 L544.95,594.25 L505.05,594.25Z" fill="#2ca02c"/><path d="M652,538.15 L671.95,574.25 L632.05,574.25Z" fill="#2ca02c"/><path d="M975,523.15 L994.95,559.25 L955.05,559.25Z" fill="#2ca02c"/><path d="M1295,518.15 L1314.95,554.25 L1275.05,554.25Z" fill="#2ca02c"/><path d="M1615,513.15 L1634.95,549.25 L1595.05,549.25Z" fill="#2ca02c"/><path d="M327.0,165.0 L340.0,155.0 L350.0,150.0 L358.0,200.0 L380.0,215.0 L400.0,235.0 L420.0,245.0 L450.0,270.0 L490.0,300.0 L530.0,310.0 L560.0,325.0 L600.0,350.0 L650.0,380.0 L700.0,405.0 L750.0,410.0 L800.0,410.0 L840.0,418.0 L870.0,420.0 L920.0,410.0 L968.0,400.0 L1010.0,410.0 L1050.0,410.0 L1100.0,425.0 L1150.0,430.0 L1220.0,440.0 L1290.0,450.0 L1350.0,455.0 L1400.0,465.0 L1450.0,470.0 L1500.0,470.0 L1560.0,465.0 L1610.0,465.0 L1660.0,470.0 L1700.0,475.0 L1760.0,482.0 L1800.0,488.0 L1870.0,488.0" fill="none" stroke="#1f77b4" stroke-width="11" stroke-linejoin="round" stroke-linecap="round"/><circle cx="650" cy="380" r="19" fill="#1f77b4"/><circle cx="968" cy="400" r="19" fill="#1f77b4"/><circle cx="1290" cy="450" r="19" fill="#1f77b4"/><circle cx="1610" cy="465" r="19" fill="#1f77b4"/><rect x="255" y="88" width="1685" height="1305" fill="none" stroke="#222" stroke-width="5"/><text x="1107.5" y="1538" font-size="74" text-anchor="middle" font-family="Liberation Serif" fill="#111">Time (seconds)</text><text transform="translate(95,740) rotate(-90)" font-size="74" text-anchor="middle" font-family="Liberation Sans" fill="#111"><tspan font-style="italic">G</tspan>(·) − <tspan font-style="italic">G</tspan><tspan font-size="52" dy="14">opt</tspan></text></g><g transform="translate(3550,600) scale(0.221794)"><rect x="255" y="88" width="1685" height="1305" fill="#fff"/><line x1="255" y1="145.5" x2="1940" y2="145.5" stroke="#e2e2e2" stroke-width="3" stroke-dasharray="6 6"/><line x1="245" y1="145.5" x2="255" y2="145.5" stroke="#333" stroke-width="3"/><line x1="255" y1="469.5" x2="1940" y2="469.5" stroke="#e2e2e2" stroke-width="3" stroke-dasharray="6 6"/><line x1="245" y1="469.5" x2="255" y2="469.5" stroke="#333" stroke-width="3"/><line x1="255" y1="412.4" x2="1940" y2="412.4" stroke="#e2e2e2" stroke-width="3" stroke-dasharray="6 6"/><line x1="245" y1="412.4" x2="255" y2="412.4" stroke="#333" stroke-width="3"/><line x1="255" y1="371.9" x2="1940" y2="371.9" stroke="#e2e2e2" stroke-width="3" stroke-dasharray="6 6"/><line x1="245" y1="371.9" x2="255" y2="371.9" stroke="#333" stroke-width="3"/><line x1="255" y1="340.5" x2="1940" y2="340.5" stroke="#e2e2e2" stroke-width="3" stroke-dasharray="6 6"/><line x1="245" y1="340.5" x2="255" y2="340.5" stroke="#333" stroke-width="3"/><line x1="255" y1="314.9" x2="1940" y2="314.9" stroke="#e2e2e2" stroke-width="3" stroke-dasharray="6 6"/><line x1="245" y1="314.9" x2="255" y2="314.9" stroke="#333" stroke-width="3"/><line x1="255" y1="293.2" x2="1940" y2="293.2" stroke="#e2e2e2" stroke-width="3" stroke-dasharray="6 6"/><line x1="245" y1="293.2" x2="255" y2="293.2" stroke="#333" stroke-width="3"/><line x1="255" y1="274.4" x2="1940" y2="274.4" stroke="#e2e2e2" stroke-width="3" stroke-dasharray="6 6"/><line x1="245" y1="274.4" x2="255" y2="274.4" stroke="#333" stroke-width="3"/><line x1="255" y1="257.8" x2="1940" y2="257.8" stroke="#e2e2e2" stroke-width="3" stroke-dasharray="6 6"/><line x1="245" y1="257.8" x2="255" y2="257.8" stroke="#333" stroke-width="3"/><line x1="255" y1="793.5" x2="1940" y2="793.5" stroke="#e2e2e2" stroke-width="3" stroke-dasharray="6 6"/><line x1="245" y1="793.5" x2="255" y2="793.5" stroke="#333" stroke-width="3"/><line x1="255" y1="736.4" x2="1940" y2="736.4" stroke="#e2e2e2" stroke-width="3" stroke-dasharray="6 6"/><line x1="245" y1="736.4" x2="255" y2="736.4" stroke="#333" stroke-width="3"/><line x1="255" y1="695.9" x2="1940" y2="695.9" stroke="#e2e2e2" stroke-width="3" stroke-dasharray="6 6"/><line x1="245" y1="695.9" x2="255" y2="695.9" stroke="#333" stroke-width="3"/><line x1="255" y1="664.5" x2="1940" y2="664.5" stroke="#e2e2e2" stroke-width="3" stroke-dasharray="6 6"/><line x1="245" y1="664.5" x2="255" y2="664.5" stroke="#333" stroke-width="3"/><line x1="255" y1="638.9" x2="1940" y2="638.9" stroke="#e2e2e2" stroke-width="3" stroke-dasharray="6 6"/><line x1="245" y1="638.9" x2="255" y2="638.9" stroke="#333" stroke-width="3"/><line x1="255" y1="617.2" x2="1940" y2="617.2" stroke="#e2e2e2" stroke-width="3" stroke-dasharray="6 6"/><line x1="245" y1="617.2" x2="255" y2="617.2" stroke="#333" stroke-width="3"/><line x1="255" y1="598.4" x2="1940" y2="598.4" stroke="#e2e2e2" stroke-width="3" stroke-dasharray="6 6"/><line x1="245" y1="598.4" x2="255" y2="598.4" stroke="#333" stroke-width="3"/><line x1="255" y1="581.8" x2="1940" y2="581.8" stroke="#e2e2e2" stroke-width="3" stroke-dasharray="6 6"/><line x1="245" y1="581.8" x2="255" y2="581.8" stroke="#333" stroke-width="3"/><line x1="255" y1="1117.5" x2="1940" y2="1117.5" stroke="#e2e2e2" stroke-width="3" stroke-dasharray="6 6"/><line x1="245" y1="1117.5" x2="255" y2="1117.5" stroke="#333" stroke-width="3"/><line x1="255" y1="1060.4" x2="1940" y2="1060.4" stroke="#e2e2e2" stroke-width="3" stroke-dasharray="6 6"/><line x1="245" y1="1060.4" x2="255" y2="1060.4" stroke="#333" stroke-width="3"/><line x1="255" y1="1019.9" x2="1940" y2="1019.9" stroke="#e2e2e2" stroke-width="3" stroke-dasharray="6 6"/><line x1="245" y1="1019.9" x2="255" y2="1019.9" stroke="#333" stroke-width="3"/><line x1="255" y1="988.5" x2="1940" y2="988.5" stroke="#e2e2e2" stroke-width="3" stroke-dasharray="6 6"/><line x1="245" y1="988.5" x2="255" y2="988.5" stroke="#333" stroke-width="3"/><line x1="255" y1="962.9" x2="1940" y2="962.9" stroke="#e2e2e2" stroke-width="3" stroke-dasharray="6 6"/><line x1="245" y1="962.9" x2="255" y2="962.9" stroke="#333" stroke-width="3"/><line x1="255" y1="941.2" x2="1940" y2="941.2" stroke="#e2e2e2" stroke-width="3" stroke-dasharray="6 6"/><line x1="245" y1="941.2" x2="255" y2="941.2" stroke="#333" stroke-width="3"/><line x1="255" y1="922.4" x2="1940" y2="922.4" stroke="#e2e2e2" stroke-width="3" stroke-dasharray="6 6"/><line x1="245" y1="922.4" x2="255" y2="922.4" stroke="#333" stroke-width="3"/><line x1="255" y1="905.8" x2="1940" y2="905.8" stroke="#e2e2e2" stroke-width="3" stroke-dasharray="6 6"/><line x1="245" y1="905.8" x2="255" y2="905.8" stroke="#333" stroke-width="3"/><line x1="255" y1="243" x2="1940" y2="243" stroke="#d0d0d0" stroke-width="4" stroke-dasharray="8 7"/><line x1="239" y1="243" x2="255" y2="243" stroke="#222" stroke-width="4"/><text x="227" y="261" font-size="56" text-anchor="end" font-family="Liberation Serif" fill="#222">10<tspan dy="-23.5" font-size="39.2">−2</tspan></text><line x1="255" y1="568" x2="1940" y2="568" stroke="#d0d0d0" stroke-width="4" stroke-dasharray="8 7"/><line x1="239" y1="568" x2="255" y2="568" stroke="#222" stroke-width="4"/><text x="227" y="586" font-size="56" text-anchor="end" font-family="Liberation Serif" fill="#222">10<tspan dy="-23.5" font-size="39.2">−3</tspan></text><line x1="255" y1="893" x2="1940" y2="893" stroke="#d0d0d0" stroke-width="4" stroke-dasharray="8 7"/><line x1="239" y1="893" x2="255" y2="893" stroke="#222" stroke-width="4"/><text x="227" y="911" font-size="56" text-anchor="end" font-family="Liberation Serif" fill="#222">10<tspan dy="-23.5" font-size="39.2">−4</tspan></text><line x1="255" y1="1215" x2="1940" y2="1215" stroke="#d0d0d0" stroke-width="4" stroke-dasharray="8 7"/><line x1="239" y1="1215" x2="255" y2="1215" stroke="#222" stroke-width="4"/><text x="227" y="1233" font-size="56" text-anchor="end" font-family="Liberation Serif" fill="#222">10<tspan dy="-23.5" font-size="39.2">−5</tspan></text><line x1="327" y1="88" x2="327" y2="1393" stroke="#d0d0d0" stroke-width="4" stroke-dasharray="8 7"/><line x1="327" y1="1393" x2="327" y2="1409" stroke="#222" stroke-width="4"/><text x="327" y="1461" font-size="56" text-anchor="middle" font-family="Liberation Serif" fill="#222">0</text><line x1="648" y1="88" x2="648" y2="1393" stroke="#d0d0d0" stroke-width="4" stroke-dasharray="8 7"/><line x1="648" y1="1393" x2="648" y2="1409" stroke="#222" stroke-width="4"/><text x="648" y="1461" font-size="56" text-anchor="middle" font-family="Liberation Serif" fill="#222">50</text><line x1="968" y1="88" x2="968" y2="1393" stroke="#d0d0d0" stroke-width="4" stroke-dasharray="8 7"/><line x1="968" y1="1393" x2="968" y2="1409" stroke="#222" stroke-width="4"/><text x="968" y="1461" font-size="56" text-anchor="middle" font-family="Liberation Serif" fill="#222">100</text><line x1="1290" y1="88" x2="1290" y2="1393" stroke="#d0d0d0" stroke-width="4" stroke-dasharray="8 7"/><line x1="1290" y1="1393" x2="1290" y2="1409" stroke="#222" stroke-width="4"/><text x="1290" y="1461" font-size="56" text-anchor="middle" font-family="Liberation Serif" fill="#222">150</text><line x1="1610" y1="88" x2="1610" y2="1393" stroke="#d0d0d0" stroke-width="4" stroke-dasharray="8 7"/><line x1="1610" y1="1393" x2="1610" y2="1409" stroke="#222" stroke-width="4"/><text x="1610" y="1461" font-size="56" text-anchor="middle" font-family="Liberation Serif" fill="#222">200</text><line x1="1930" y1="88" x2="1930" y2="1393" stroke="#d0d0d0" stroke-width="4" stroke-dasharray="8 7"/><line x1="1930" y1="1393" x2="1930" y2="1409" stroke="#222" stroke-width="4"/><text x="1930" y="1461" font-size="56" text-anchor="middle" font-family="Liberation Serif" fill="#222">250</text><path d="M332.0,805.0 L336.0,860.0 L343.0,930.0 L352.0,970.0 L365.0,1000.0 L380.0,1040.0 L400.0,1080.0 L430.0,1120.0 L470.0,1150.0 L510.0,1185.0 L560.0,1205.0 L600.0,1220.0 L650.0,1235.0 L700.0,1250.0 L800.0,1270.0 L900.0,1282.0 L975.0,1288.0 L1100.0,1300.0 L1200.0,1310.0 L1295.0,1315.0 L1450.0,1322.0 L1615.0,1328.0 L1870.0,1335.0" fill="none" stroke="#ff7f0e" stroke-width="11" stroke-linejoin="round" stroke-linecap="round"/><rect x="313.95" y="786.95" width="36.1" height="36.1" fill="#ff7f0e"/><rect x="633.95" y="1216.95" width="36.1" height="36.1" fill="#ff7f0e"/><rect x="956.95" y="1269.95" width="36.1" height="36.1" fill="#ff7f0e"/><rect x="1276.95" y="1296.95" width="36.1" height="36.1" fill="#ff7f0e"/><rect x="1596.95" y="1309.95" width="36.1" height="36.1" fill="#ff7f0e"/><path d="M332.0,145.0 L334.0,200.0 L338.0,300.0 L345.0,330.0 L352.0,310.0 L358.0,330.0 L365.0,420.0 L375.0,500.0 L400.0,530.0 L420.0,545.0 L440.0,550.0 L460.0,590.0 L485.0,625.0 L530.0,640.0 L560.0,635.0 L600.0,640.0 L625.0,650.0 L650.0,690.0 L685.0,665.0 L720.0,690.0 L760.0,715.0 L800.0,720.0 L830.0,730.0 L900.0,730.0 L945.0,735.0 L975.0,768.0 L1010.0,765.0 L1050.0,765.0 L1080.0,745.0 L1120.0,755.0 L1170.0,770.0 L1220.0,800.0 L1290.0,832.0 L1350.0,835.0 L1400.0,835.0 L1450.0,825.0 L1520.0,822.0 L1610.0,815.0 L1700.0,825.0 L1760.0,840.0 L1870.0,840.0" fill="none" stroke="#1f77b4" stroke-width="11" stroke-linejoin="round" stroke-linecap="round"/><circle cx="332" cy="145" r="19" fill="#1f77b4"/><circle cx="652" cy="690" r="19" fill="#1f77b4"/><circle cx="975" cy="768" r="19" fill="#1f77b4"/><circle cx="1295" cy="832" r="19" fill="#1f77b4"/><circle cx="1615" cy="815" r="19" fill="#1f77b4"/><path d="M527.0,510.0 C547.8,513.7 577.3,518.7 652.0,532.0 C726.7,545.3 867.8,570.0 975.0,590.0 C1082.2,610.0 1188.3,628.7 1295.0,652.0 C1401.7,675.3 1519.2,704.5 1615.0,730.0 C1710.8,755.5 1827.5,792.5 1870.0,805.0" fill="none" stroke="#d62728" stroke-width="11" stroke-linejoin="round" stroke-linecap="round"/><path d="M527,486.25 L546.95,510 L527,533.75 L507.05,510Z" fill="#d62728"/><path d="M652,508.25 L671.95,532 L652,555.75 L632.05,532Z" fill="#d62728"/><path d="M975,566.25 L994.95,590 L975,613.75 L955.05,590Z" fill="#d62728"/><path d="M1295,628.25 L1314.95,652 L1295,675.75 L1275.05,652Z" fill="#d62728"/><path d="M1615,706.25 L1634.95,730 L1615,753.75 L1595.05,730Z" fill="#d62728"/><path d="M527.0,500.0 C547.8,499.2 577.3,496.7 652.0,495.0 C726.7,493.3 867.8,490.8 975.0,490.0 C1082.2,489.2 1188.3,490.0 1295.0,490.0 C1401.7,490.0 1519.2,490.0 1615.0,490.0 C1710.8,490.0 1827.5,490.0 1870.0,490.0" fill="none" stroke="#2ca02c" stroke-width="11" stroke-linejoin="round" stroke-linecap="round"/><path d="M527,478.15 L546.95,514.25 L507.05,514.25Z" fill="#2ca02c"/><path d="M652,473.15 L671.95,509.25 L632.05,509.25Z" fill="#2ca02c"/><path d="M975,468.15 L994.95,504.25 L955.05,504.25Z" fill="#2ca02c"/><path d="M332.0,430.0 C343.3,433.3 372.0,445.3 400.0,450.0 C428.0,454.7 458.0,456.0 500.0,458.0 C542.0,460.0 572.8,460.8 652.0,462.0 C731.2,463.2 867.8,463.7 975.0,465.0 C1082.2,466.3 1188.3,468.7 1295.0,470.0 C1401.7,471.3 1519.2,472.2 1615.0,473.0 C1710.8,473.8 1827.5,474.7 1870.0,475.0" fill="none" stroke="#9467bd" stroke-width="11" stroke-linejoin="round" stroke-linecap="round"/><polygon points="332.0,410.1 351.0,423.8 343.7,446.1 320.3,446.1 313.0,423.8" fill="#9467bd"/><polygon points="652.0,442.1 671.0,455.8 663.7,478.1 640.3,478.1 633.0,455.8" fill="#9467bd"/><polygon points="975.0,445.1 994.0,458.8 986.7,481.1 963.3,481.1 956.0,458.8" fill="#9467bd"/><polygon points="1295.0,450.1 1314.0,463.8 1306.7,486.1 1283.3,486.1 1276.0,463.8" fill="#9467bd"/><polygon points="1615.0,453.1 1634.0,466.8 1626.7,489.1 1603.3,489.1 1596.0,466.8" fill="#9467bd"/><path d="M327.0,340.0 C332.5,350.0 347.8,380.8 360.0,400.0 C372.2,419.2 386.7,441.7 400.0,455.0 C413.3,468.3 423.3,475.0 440.0,480.0 C456.7,485.0 465.0,483.8 500.0,485.0 C535.0,486.2 570.8,486.2 650.0,487.0 C729.2,487.8 867.5,489.0 975.0,490.0 C1082.5,491.0 1188.3,491.8 1295.0,493.0 C1401.7,494.2 1519.2,495.8 1615.0,497.0 C1710.8,498.2 1827.5,499.5 1870.0,500.0" fill="none" stroke="#e377c2" stroke-width="11" stroke-linejoin="round" stroke-linecap="round"/><path d="M327.0,350.0 C334.2,360.0 354.5,395.8 370.0,410.0 C385.5,424.2 398.3,427.5 420.0,435.0 C441.7,442.5 461.7,449.2 500.0,455.0 C538.3,460.8 600.0,466.2 650.0,470.0 C700.0,473.8 745.8,476.0 800.0,478.0 C854.2,480.0 892.5,481.0 975.0,482.0 C1057.5,483.0 1188.3,483.3 1295.0,484.0 C1401.7,484.7 1519.2,485.7 1615.0,486.0 C1710.8,486.3 1827.5,486.0 1870.0,486.0" fill="none" stroke="#8c564b" stroke-width="11" stroke-linejoin="round" stroke-linecap="round"/><path d="M327.0,335.0 C332.5,345.8 347.8,379.2 360.0,400.0 C372.2,420.8 386.7,446.3 400.0,460.0 C413.3,473.7 423.3,477.8 440.0,482.0 C456.7,486.2 465.0,484.5 500.0,485.0 C535.0,485.5 570.8,484.7 650.0,485.0 C729.2,485.3 867.5,486.2 975.0,487.0 C1082.5,487.8 1188.3,488.7 1295.0,490.0 C1401.7,491.3 1519.2,493.7 1615.0,495.0 C1710.8,496.3 1827.5,497.5 1870.0,498.0" fill="none" stroke="#7f7f7f" stroke-width="11" stroke-linejoin="round" stroke-linecap="round"/><g transform="translate(327,335) rotate(45)"><rect x="-19.0" y="-8.55" width="38.0" height="17.1" fill="#7f7f7f"/><rect x="-8.55" y="-19.0" width="17.1" height="38.0" fill="#7f7f7f"/></g><g transform="translate(1295,490) rotate(45)"><rect x="-19.0" y="-8.55" width="38.0" height="17.1" fill="#7f7f7f"/><rect x="-8.55" y="-19.0" width="17.1" height="38.0" fill="#7f7f7f"/></g><g transform="translate(1615,495) rotate(45)"><rect x="-19.0" y="-8.55" width="38.0" height="17.1" fill="#7f7f7f"/><rect x="-8.55" y="-19.0" width="17.1" height="38.0" fill="#7f7f7f"/></g><rect x="255" y="88" width="1685" height="1305" fill="none" stroke="#222" stroke-width="5"/><text x="1107.5" y="1538" font-size="74" text-anchor="middle" font-family="Liberation Serif" fill="#111">Time (seconds)</text><text transform="translate(95,740) rotate(-90)" font-size="74" text-anchor="middle" font-family="Liberation Sans" fill="#111">|<tspan font-style="italic">F</tspan>(·) − <tspan font-style="italic">F</tspan><tspan font-size="52" dy="14">opt</tspan><tspan dy="-14">|</tspan></text></g><g transform="translate(3080,1730) scale(0.221794)"><rect x="255" y="83" width="1720" height="1307" fill="#fff"/><line x1="255" y1="173" x2="1975" y2="173" stroke="#d0d0d0" stroke-width="4" stroke-dasharray="8 7"/><line x1="239" y1="173" x2="255" y2="173" stroke="#222" stroke-width="4"/><text x="227" y="191" font-size="56" text-anchor="end" font-family="Liberation Serif" fill="#222">10<tspan dy="-23.5" font-size="39.2">0</tspan></text><line x1="255" y1="416" x2="1975" y2="416" stroke="#d0d0d0" stroke-width="4" stroke-dasharray="8 7"/><line x1="239" y1="416" x2="255" y2="416" stroke="#222" stroke-width="4"/><text x="227" y="434" font-size="56" text-anchor="end" font-family="Liberation Serif" fill="#222">10<tspan dy="-23.5" font-size="39.2">−2</tspan></text><line x1="255" y1="662" x2="1975" y2="662" stroke="#d0d0d0" stroke-width="4" stroke-dasharray="8 7"/><line x1="239" y1="662" x2="255" y2="662" stroke="#222" stroke-width="4"/><text x="227" y="680" font-size="56" text-anchor="end" font-family="Liberation Serif" fill="#222">10<tspan dy="-23.5" font-size="39.2">−4</tspan></text><line x1="255" y1="907" x2="1975" y2="907" stroke="#d0d0d0" stroke-width="4" stroke-dasharray="8 7"/><line x1="239" y1="907" x2="255" y2="907" stroke="#222" stroke-width="4"/><text x="227" y="925" font-size="56" text-anchor="end" font-family="Liberation Serif" fill="#222">10<tspan dy="-23.5" font-size="39.2">−6</tspan></text><line x1="255" y1="1150" x2="1975" y2="1150" stroke="#d0d0d0" stroke-width="4" stroke-dasharray="8 7"/><line x1="239" y1="1150" x2="255" y2="1150" stroke="#222" stroke-width="4"/><text x="227" y="1168" font-size="56" text-anchor="end" font-family="Liberation Serif" fill="#222">10<tspan dy="-23.5" font-size="39.2">−8</tspan></text><line x1="310" y1="83" x2="310" y2="1390" stroke="#d0d0d0" stroke-width="4" stroke-dasharray="8 7"/><line x1="310" y1="1390" x2="310" y2="1406" stroke="#222" stroke-width="4"/><text x="310" y="1458" font-size="56" text-anchor="middle" font-family="Liberation Serif" fill="#222">0</text><line x1="573" y1="83" x2="573" y2="1390" stroke="#d0d0d0" stroke-width="4" stroke-dasharray="8 7"/><line x1="573" y1="1390" x2="573" y2="1406" stroke="#222" stroke-width="4"/><text x="573" y="1458" font-size="56" text-anchor="middle" font-family="Liberation Serif" fill="#222">10</text><line x1="838" y1="83" x2="838" y2="1390" stroke="#d0d0d0" stroke-width="4" stroke-dasharray="8 7"/><line x1="838" y1="1390" x2="838" y2="1406" stroke="#222" stroke-width="4"/><text x="838" y="1458" font-size="56" text-anchor="middle" font-family="Liberation Serif" fill="#222">20</text><line x1="1103" y1="83" x2="1103" y2="1390" stroke="#d0d0d0" stroke-width="4" stroke-dasharray="8 7"/><line x1="1103" y1="1390" x2="1103" y2="1406" stroke="#222" stroke-width="4"/><text x="1103" y="1458" font-size="56" text-anchor="middle" font-family="Liberation Serif" fill="#222">30</text><line x1="1367" y1="83" x2="1367" y2="1390" stroke="#d0d0d0" stroke-width="4" stroke-dasharray="8 7"/><line x1="1367" y1="1390" x2="1367" y2="1406" stroke="#222" stroke-width="4"/><text x="1367" y="1458" font-size="56" text-anchor="middle" font-family="Liberation Serif" fill="#222">40</text><line x1="1632" y1="83" x2="1632" y2="1390" stroke="#d0d0d0" stroke-width="4" stroke-dasharray="8 7"/><line x1="1632" y1="1390" x2="1632" y2="1406" stroke="#222" stroke-width="4"/><text x="1632" y="1458" font-size="56" text-anchor="middle" font-family="Liberation Serif" fill="#222">50</text><line x1="1897" y1="83" x2="1897" y2="1390" stroke="#d0d0d0" stroke-width="4" stroke-dasharray="8 7"/><line x1="1897" y1="1390" x2="1897" y2="1406" stroke="#222" stroke-width="4"/><text x="1897" y="1458" font-size="56" text-anchor="middle" font-family="Liberation Serif" fill="#222">60</text><path d="M335.0,753.0 C336.7,760.8 341.2,778.8 345.0,800.0 C348.8,821.2 352.5,850.0 358.0,880.0 C363.5,910.0 369.3,953.3 378.0,980.0 C386.7,1006.7 398.0,1021.7 410.0,1040.0 C422.0,1058.3 431.7,1075.0 450.0,1090.0 C468.3,1105.0 495.3,1116.7 520.0,1130.0 C544.7,1143.3 568.0,1159.2 598.0,1170.0 C628.0,1180.8 656.0,1185.8 700.0,1195.0 C744.0,1204.2 812.0,1216.7 862.0,1225.0 C912.0,1233.3 955.7,1239.2 1000.0,1245.0 C1044.3,1250.8 1062.5,1253.0 1128.0,1260.0 C1193.5,1267.0 1304.7,1279.0 1393.0,1287.0 C1481.3,1295.0 1573.5,1300.8 1658.0,1308.0 C1742.5,1315.2 1859.7,1326.3 1900.0,1330.0" fill="none" stroke="#ff7f0e" stroke-width="11" stroke-linejoin="round" stroke-linecap="round"/><rect x="316.95" y="734.95" width="36.1" height="36.1" fill="#ff7f0e"/><rect x="579.95" y="1151.95" width="36.1" height="36.1" fill="#ff7f0e"/><rect x="843.95" y="1206.95" width="36.1" height="36.1" fill="#ff7f0e"/><rect x="1109.95" y="1241.95" width="36.1" height="36.1" fill="#ff7f0e"/><rect x="1374.95" y="1268.95" width="36.1" height="36.1" fill="#ff7f0e"/><rect x="1639.95" y="1289.95" width="36.1" height="36.1" fill="#ff7f0e"/><path d="M335.0,395.0 C336.7,400.0 337.5,412.5 345.0,425.0 C352.5,437.5 367.5,455.0 380.0,470.0 C392.5,485.0 403.3,501.7 420.0,515.0 C436.7,528.3 460.0,540.5 480.0,550.0 C500.0,559.5 520.3,565.3 540.0,572.0 C559.7,578.7 571.3,584.5 598.0,590.0 C624.7,595.5 656.0,599.7 700.0,605.0 C744.0,610.3 812.0,617.5 862.0,622.0 C912.0,626.5 955.7,629.0 1000.0,632.0 C1044.3,635.0 1062.5,637.0 1128.0,640.0 C1193.5,643.0 1304.7,647.2 1393.0,650.0 C1481.3,652.8 1573.5,654.8 1658.0,657.0 C1742.5,659.2 1859.7,662.0 1900.0,663.0" fill="none" stroke="#1f77b4" stroke-width="11" stroke-linejoin="round" stroke-linecap="round"/><circle cx="335" cy="395" r="19" fill="#1f77b4"/><circle cx="598" cy="590" r="19" fill="#1f77b4"/><circle cx="862" cy="622" r="19" fill="#1f77b4"/><circle cx="1128" cy="640" r="19" fill="#1f77b4"/><circle cx="1393" cy="650" r="19" fill="#1f77b4"/><circle cx="1658" cy="657" r="19" fill="#1f77b4"/><path d="M335.0,315.0 C339.2,322.5 349.2,342.5 360.0,360.0 C370.8,377.5 385.0,403.3 400.0,420.0 C415.0,436.7 430.0,450.3 450.0,460.0 C470.0,469.7 495.3,473.8 520.0,478.0 C544.7,482.2 541.0,484.7 598.0,485.0 C655.0,485.3 773.7,481.2 862.0,480.0 C950.3,478.8 1039.5,478.3 1128.0,478.0 C1216.5,477.7 1304.7,478.0 1393.0,478.0 C1481.3,478.0 1573.5,477.7 1658.0,478.0 C1742.5,478.3 1859.7,479.7 1900.0,480.0" fill="none" stroke="#e377c2" stroke-width="11" stroke-linejoin="round" stroke-linecap="round"/><circle cx="335" cy="315" r="17" fill="#e377c2"/><circle cx="598" cy="485" r="17" fill="#e377c2"/><circle cx="862" cy="480" r="17" fill="#e377c2"/><circle cx="1128" cy="478" r="17" fill="#e377c2"/><circle cx="1393" cy="478" r="17" fill="#e377c2"/><circle cx="1658" cy="478" r="17" fill="#e377c2"/><path d="M335.0,275.0 C336.7,280.8 337.5,294.2 345.0,310.0 C352.5,325.8 367.5,353.3 380.0,370.0 C392.5,386.7 403.3,397.5 420.0,410.0 C436.7,422.5 460.0,435.0 480.0,445.0 C500.0,455.0 520.3,464.2 540.0,470.0 C559.7,475.8 571.3,476.7 598.0,480.0 C624.7,483.3 656.0,487.5 700.0,490.0 C744.0,492.5 790.7,494.2 862.0,495.0 C933.3,495.8 1039.5,495.3 1128.0,495.0 C1216.5,494.7 1304.7,493.5 1393.0,493.0 C1481.3,492.5 1573.5,492.5 1658.0,492.0 C1742.5,491.5 1859.7,490.3 1900.0,490.0" fill="none" stroke="#7f7f7f" stroke-width="11" stroke-linejoin="round" stroke-linecap="round"/><g transform="translate(335,275) rotate(45)"><rect x="-19.0" y="-8.55" width="38.0" height="17.1" fill="#7f7f7f"/><rect x="-8.55" y="-19.0" width="17.1" height="38.0" fill="#7f7f7f"/></g><g transform="translate(598,480) rotate(45)"><rect x="-19.0" y="-8.55" width="38.0" height="17.1" fill="#7f7f7f"/><rect x="-8.55" y="-19.0" width="17.1" height="38.0" fill="#7f7f7f"/></g><g transform="translate(862,495) rotate(45)"><rect x="-19.0" y="-8.55" width="38.0" height="17.1" fill="#7f7f7f"/><rect x="-8.55" y="-19.0" width="17.1" height="38.0" fill="#7f7f7f"/></g><g transform="translate(1128,495) rotate(45)"><rect x="-19.0" y="-8.55" width="38.0" height="17.1" fill="#7f7f7f"/><rect x="-8.55" y="-19.0" width="17.1" height="38.0" fill="#7f7f7f"/></g><g transform="translate(1393,493) rotate(45)"><rect x="-19.0" y="-8.55" width="38.0" height="17.1" fill="#7f7f7f"/><rect x="-8.55" y="-19.0" width="17.1" height="38.0" fill="#7f7f7f"/></g><g transform="translate(1658,492) rotate(45)"><rect x="-19.0" y="-8.55" width="38.0" height="17.1" fill="#7f7f7f"/><rect x="-8.55" y="-19.0" width="17.1" height="38.0" fill="#7f7f7f"/></g><path d="M625.0,265.0 C631.2,265.0 622.5,265.3 662.0,265.0 C701.5,264.7 784.3,263.0 862.0,263.0 C939.7,263.0 1039.5,264.7 1128.0,265.0 C1216.5,265.3 1304.7,265.0 1393.0,265.0 C1481.3,265.0 1573.5,265.3 1658.0,265.0 C1742.5,264.7 1859.7,263.3 1900.0,263.0" fill="none" stroke="#d62728" stroke-width="11" stroke-linejoin="round" stroke-linecap="round"/><path d="M625,241.25 L644.95,265 L625,288.75 L605.05,265Z" fill="#d62728"/><path d="M662,241.25 L681.95,265 L662,288.75 L642.05,265Z" fill="#d62728"/><path d="M862,239.25 L881.95,263 L862,286.75 L842.05,263Z" fill="#d62728"/><path d="M1128,241.25 L1147.95,265 L1128,288.75 L1108.05,265Z" fill="#d62728"/><path d="M1393,241.25 L1412.95,265 L1393,288.75 L1373.05,265Z" fill="#d62728"/><path d="M1658,241.25 L1677.95,265 L1658,288.75 L1638.05,265Z" fill="#d62728"/><path d="M335.0,185.0 C339.2,183.8 340.8,180.0 360.0,178.0 C379.2,176.0 410.3,173.8 450.0,173.0 C489.7,172.2 529.3,172.7 598.0,173.0 C666.7,173.3 773.7,174.7 862.0,175.0 C950.3,175.3 1039.5,174.5 1128.0,175.0 C1216.5,175.5 1304.7,177.2 1393.0,178.0 C1481.3,178.8 1573.5,180.0 1658.0,180.0 C1742.5,180.0 1859.7,178.3 1900.0,178.0" fill="none" stroke="#2ca02c" stroke-width="11" stroke-linejoin="round" stroke-linecap="round"/><path d="M335,163.15 L354.95,199.25 L315.05,199.25Z" fill="#2ca02c"/><path d="M598,151.15 L617.95,187.25 L578.05,187.25Z" fill="#2ca02c"/><path d="M862,153.15 L881.95,189.25 L842.05,189.25Z" fill="#2ca02c"/><path d="M1128,153.15 L1147.95,189.25 L1108.05,189.25Z" fill="#2ca02c"/><path d="M1393,156.15 L1412.95,192.25 L1373.05,192.25Z" fill="#2ca02c"/><path d="M1658,158.15 L1677.95,194.25 L1638.05,194.25Z" fill="#2ca02c"/><path d="M335.0,147.0 L1900.0,147.0" fill="none" stroke="#9467bd" stroke-width="11" stroke-linejoin="round" stroke-linecap="round"/><polygon points="335.0,127.0 354.0,140.8 346.7,163.1 323.3,163.1 316.0,140.8" fill="#9467bd"/><polygon points="598.0,127.0 617.0,140.8 609.7,163.1 586.3,163.1 579.0,140.8" fill="#9467bd"/><polygon points="862.0,127.0 881.0,140.8 873.7,163.1 850.3,163.1 843.0,140.8" fill="#9467bd"/><polygon points="1128.0,127.0 1147.0,140.8 1139.7,163.1 1116.3,163.1 1109.0,140.8" fill="#9467bd"/><polygon points="1393.0,127.0 1412.0,140.8 1404.7,163.1 1381.3,163.1 1374.0,140.8" fill="#9467bd"/><polygon points="1658.0,127.0 1677.0,140.8 1669.7,163.1 1646.3,163.1 1639.0,140.8" fill="#9467bd"/><path d="M335.0,143.0 L1900.0,143.0" fill="none" stroke="#8c564b" stroke-width="11" stroke-linejoin="round" stroke-linecap="round"/><polygon points="335.0,123.8 339.7,136.5 353.3,137.1 342.6,145.5 346.3,158.5 335.0,151.0 323.7,158.5 327.4,145.5 316.7,137.1 330.3,136.5" fill="#8c564b"/><polygon points="598.0,123.8 602.7,136.5 616.3,137.1 605.6,145.5 609.3,158.5 598.0,151.0 586.7,158.5 590.4,145.5 579.7,137.1 593.3,136.5" fill="#8c564b"/><polygon points="862.0,123.8 866.7,136.5 880.3,137.1 869.6,145.5 873.3,158.5 862.0,151.0 850.7,158.5 854.4,145.5 843.7,137.1 857.3,136.5" fill="#8c564b"/><polygon points="1128.0,123.8 1132.7,136.5 1146.3,137.1 1135.6,145.5 1139.3,158.5 1128.0,151.0 1116.7,158.5 1120.4,145.5 1109.7,137.1 1123.3,136.5" fill="#8c564b"/><polygon points="1393.0,123.8 1397.7,136.5 1411.3,137.1 1400.6,145.5 1404.3,158.5 1393.0,151.0 1381.7,158.5 1385.4,145.5 1374.7,137.1 1388.3,136.5" fill="#8c564b"/><polygon points="1658.0,123.8 1662.7,136.5 1676.3,137.1 1665.6,145.5 1669.3,158.5 1658.0,151.0 1646.7,158.5 1650.4,145.5 1639.7,137.1 1653.3,136.5" fill="#8c564b"/><rect x="255" y="83" width="1720" height="1307" fill="none" stroke="#222" stroke-width="5"/><text x="1125.0" y="1535" font-size="74" text-anchor="middle" font-family="Liberation Serif" fill="#111">Time (seconds)</text><text transform="translate(95,740) rotate(-90)" font-size="74" text-anchor="middle" font-family="Liberation Sans" fill="#111"><tspan font-style="italic">G</tspan>(·) − <tspan font-style="italic">G</tspan><tspan font-size="52" dy="14">opt</tspan></text></g><g transform="translate(3550,1730) scale(0.221794)"><rect x="238" y="83" width="1737" height="1307" fill="#fff"/><line x1="238" y1="175.6" x2="1975" y2="175.6" stroke="#e2e2e2" stroke-width="3" stroke-dasharray="6 6"/><line x1="228" y1="175.6" x2="238" y2="175.6" stroke="#333" stroke-width="3"/><line x1="238" y1="150.8" x2="1975" y2="150.8" stroke="#e2e2e2" stroke-width="3" stroke-dasharray="6 6"/><line x1="228" y1="150.8" x2="238" y2="150.8" stroke="#333" stroke-width="3"/><line x1="238" y1="133.2" x2="1975" y2="133.2" stroke="#e2e2e2" stroke-width="3" stroke-dasharray="6 6"/><line x1="228" y1="133.2" x2="238" y2="133.2" stroke="#333" stroke-width="3"/><line x1="238" y1="119.5" x2="1975" y2="119.5" stroke="#e2e2e2" stroke-width="3" stroke-dasharray="6 6"/><line x1="228" y1="119.5" x2="238" y2="119.5" stroke="#333" stroke-width="3"/><line x1="238" y1="108.4" x2="1975" y2="108.4" stroke="#e2e2e2" stroke-width="3" stroke-dasharray="6 6"/><line x1="228" y1="108.4" x2="238" y2="108.4" stroke="#333" stroke-width="3"/><line x1="238" y1="98.9" x2="1975" y2="98.9" stroke="#e2e2e2" stroke-width="3" stroke-dasharray="6 6"/><line x1="228" y1="98.9" x2="238" y2="98.9" stroke="#333" stroke-width="3"/><line x1="238" y1="90.8" x2="1975" y2="90.8" stroke="#e2e2e2" stroke-width="3" stroke-dasharray="6 6"/><line x1="228" y1="90.8" x2="238" y2="90.8" stroke="#333" stroke-width="3"/><line x1="238" y1="316.5" x2="1975" y2="316.5" stroke="#e2e2e2" stroke-width="3" stroke-dasharray="6 6"/><line x1="228" y1="316.5" x2="238" y2="316.5" stroke="#333" stroke-width="3"/><line x1="238" y1="291.7" x2="1975" y2="291.7" stroke="#e2e2e2" stroke-width="3" stroke-dasharray="6 6"/><line x1="228" y1="291.7" x2="238" y2="291.7" stroke="#333" stroke-width="3"/><line x1="238" y1="274.1" x2="1975" y2="274.1" stroke="#e2e2e2" stroke-width="3" stroke-dasharray="6 6"/><line x1="228" y1="274.1" x2="238" y2="274.1" stroke="#333" stroke-width="3"/><line x1="238" y1="260.4" x2="1975" y2="260.4" stroke="#e2e2e2" stroke-width="3" stroke-dasharray="6 6"/><line x1="228" y1="260.4" x2="238" y2="260.4" stroke="#333" stroke-width="3"/><line x1="238" y1="249.3" x2="1975" y2="249.3" stroke="#e2e2e2" stroke-width="3" stroke-dasharray="6 6"/><line x1="228" y1="249.3" x2="238" y2="249.3" stroke="#333" stroke-width="3"/><line x1="238" y1="239.8" x2="1975" y2="239.8" stroke="#e2e2e2" stroke-width="3" stroke-dasharray="6 6"/><line x1="228" y1="239.8" x2="238" y2="239.8" stroke="#333" stroke-width="3"/><line x1="238" y1="231.7" x2="1975" y2="231.7" stroke="#e2e2e2" stroke-width="3" stroke-dasharray="6 6"/><line x1="228" y1="231.7" x2="238" y2="231.7" stroke="#333" stroke-width="3"/><line x1="238" y1="224.4" x2="1975" y2="224.4" stroke="#e2e2e2" stroke-width="3" stroke-dasharray="6 6"/><line x1="228" y1="224.4" x2="238" y2="224.4" stroke="#333" stroke-width="3"/><line x1="238" y1="457.4" x2="1975" y2="457.4" stroke="#e2e2e2" stroke-width="3" stroke-dasharray="6 6"/><line x1="228" y1="457.4" x2="238" y2="457.4" stroke="#333" stroke-width="3"/><line x1="238" y1="432.6" x2="1975" y2="432.6" stroke="#e2e2e2" stroke-width="3" stroke-dasharray="6 6"/><line x1="228" y1="432.6" x2="238" y2="432.6" stroke="#333" stroke-width="3"/><line x1="238" y1="415.0" x2="1975" y2="415.0" stroke="#e2e2e2" stroke-width="3" stroke-dasharray="6 6"/><line x1="228" y1="415.0" x2="238" y2="415.0" stroke="#333" stroke-width="3"/><line x1="238" y1="401.3" x2="1975" y2="401.3" stroke="#e2e2e2" stroke-width="3" stroke-dasharray="6 6"/><line x1="228" y1="401.3" x2="238" y2="401.3" stroke="#333" stroke-width="3"/><line x1="238" y1="390.2" x2="1975" y2="390.2" stroke="#e2e2e2" stroke-width="3" stroke-dasharray="6 6"/><line x1="228" y1="390.2" x2="238" y2="390.2" stroke="#333" stroke-width="3"/><line x1="238" y1="380.7" x2="1975" y2="380.7" stroke="#e2e2e2" stroke-width="3" stroke-dasharray="6 6"/><line x1="228" y1="380.7" x2="238" y2="380.7" stroke="#333" stroke-width="3"/><line x1="238" y1="372.6" x2="1975" y2="372.6" stroke="#e2e2e2" stroke-width="3" stroke-dasharray="6 6"/><line x1="228" y1="372.6" x2="238" y2="372.6" stroke="#333" stroke-width="3"/><line x1="238" y1="365.3" x2="1975" y2="365.3" stroke="#e2e2e2" stroke-width="3" stroke-dasharray="6 6"/><line x1="228" y1="365.3" x2="238" y2="365.3" stroke="#333" stroke-width="3"/><line x1="238" y1="598.3" x2="1975" y2="598.3" stroke="#e2e2e2" stroke-width="3" stroke-dasharray="6 6"/><line x1="228" y1="598.3" x2="238" y2="598.3" stroke="#333" stroke-width="3"/><line x1="238" y1="573.5" x2="1975" y2="573.5" stroke="#e2e2e2" stroke-width="3" stroke-dasharray="6 6"/><line x1="228" y1="573.5" x2="238" y2="573.5" stroke="#333" stroke-width="3"/><line x1="238" y1="555.9" x2="1975" y2="555.9" stroke="#e2e2e2" stroke-width="3" stroke-dasharray="6 6"/><line x1="228" y1="555.9" x2="238" y2="555.9" stroke="#333" stroke-width="3"/><line x1="238" y1="542.2" x2="1975" y2="542.2" stroke="#e2e2e2" stroke-width="3" stroke-dasharray="6 6"/><line x1="228" y1="542.2" x2="238" y2="542.2" stroke="#333" stroke-width="3"/><line x1="238" y1="531.1" x2="1975" y2="531.1" stroke="#e2e2e2" stroke-width="3" stroke-dasharray="6 6"/><line x1="228" y1="531.1" x2="238" y2="531.1" stroke="#333" stroke-width="3"/><line x1="238" y1="521.6" x2="1975" y2="521.6" stroke="#e2e2e2" stroke-width="3" stroke-dasharray="6 6"/><line x1="228" y1="521.6" x2="238" y2="521.6" stroke="#333" stroke-width="3"/><line x1="238" y1="513.5" x2="1975" y2="513.5" stroke="#e2e2e2" stroke-width="3" stroke-dasharray="6 6"/><line x1="228" y1="513.5" x2="238" y2="513.5" stroke="#333" stroke-width="3"/><line x1="238" y1="506.2" x2="1975" y2="506.2" stroke="#e2e2e2" stroke-width="3" stroke-dasharray="6 6"/><line x1="228" y1="506.2" x2="238" y2="506.2" stroke="#333" stroke-width="3"/><line x1="238" y1="739.2" x2="1975" y2="739.2" stroke="#e2e2e2" stroke-width="3" stroke-dasharray="6 6"/><line x1="228" y1="739.2" x2="238" y2="739.2" stroke="#333" stroke-width="3"/><line x1="238" y1="714.4" x2="1975" y2="714.4" stroke="#e2e2e2" stroke-width="3" stroke-dasharray="6 6"/><line x1="228" y1="714.4" x2="238" y2="714.4" stroke="#333" stroke-width="3"/><line x1="238" y1="696.8" x2="1975" y2="696.8" stroke="#e2e2e2" stroke-width="3" stroke-dasharray="6 6"/><line x1="228" y1="696.8" x2="238" y2="696.8" stroke="#333" stroke-width="3"/><line x1="238" y1="683.1" x2="1975" y2="683.1" stroke="#e2e2e2" stroke-width="3" stroke-dasharray="6 6"/><line x1="228" y1="683.1" x2="238" y2="683.1" stroke="#333" stroke-width="3"/><line x1="238" y1="672.0" x2="1975" y2="672.0" stroke="#e2e2e2" stroke-width="3" stroke-dasharray="6 6"/><line x1="228" y1="672.0" x2="238" y2="672.0" stroke="#333" stroke-width="3"/><line x1="238" y1="662.5" x2="1975" y2="662.5" stroke="#e2e2e2" stroke-width="3" stroke-dasharray="6 6"/><line x1="228" y1="662.5" x2="238" y2="662.5" stroke="#333" stroke-width="3"/><line x1="238" y1="654.4" x2="1975" y2="654.4" stroke="#e2e2e2" stroke-width="3" stroke-dasharray="6 6"/><line x1="228" y1="654.4" x2="238" y2="654.4" stroke="#333" stroke-width="3"/><line x1="238" y1="647.1" x2="1975" y2="647.1" stroke="#e2e2e2" stroke-width="3" stroke-dasharray="6 6"/><line x1="228" y1="647.1" x2="238" y2="647.1" stroke="#333" stroke-width="3"/><line x1="238" y1="880.1" x2="1975" y2="880.1" stroke="#e2e2e2" stroke-width="3" stroke-dasharray="6 6"/><line x1="228" y1="880.1" x2="238" y2="880.1" stroke="#333" stroke-width="3"/><line x1="238" y1="855.3" x2="1975" y2="855.3" stroke="#e2e2e2" stroke-width="3" stroke-dasharray="6 6"/><line x1="228" y1="855.3" x2="238" y2="855.3" stroke="#333" stroke-width="3"/><line x1="238" y1="837.7" x2="1975" y2="837.7" stroke="#e2e2e2" stroke-width="3" stroke-dasharray="6 6"/><line x1="228" y1="837.7" x2="238" y2="837.7" stroke="#333" stroke-width="3"/><line x1="238" y1="824.0" x2="1975" y2="824.0" stroke="#e2e2e2" stroke-width="3" stroke-dasharray="6 6"/><line x1="228" y1="824.0" x2="238" y2="824.0" stroke="#333" stroke-width="3"/><line x1="238" y1="812.9" x2="1975" y2="812.9" stroke="#e2e2e2" stroke-width="3" stroke-dasharray="6 6"/><line x1="228" y1="812.9" x2="238" y2="812.9" stroke="#333" stroke-width="3"/><line x1="238" y1="803.4" x2="1975" y2="803.4" stroke="#e2e2e2" stroke-width="3" stroke-dasharray="6 6"/><line x1="228" y1="803.4" x2="238" y2="803.4" stroke="#333" stroke-width="3"/><line x1="238" y1="795.3" x2="1975" y2="795.3" stroke="#e2e2e2" stroke-width="3" stroke-dasharray="6 6"/><line x1="228" y1="795.3" x2="238" y2="795.3" stroke="#333" stroke-width="3"/><line x1="238" y1="788.0" x2="1975" y2="788.0" stroke="#e2e2e2" stroke-width="3" stroke-dasharray="6 6"/><line x1="228" y1="788.0" x2="238" y2="788.0" stroke="#333" stroke-width="3"/><line x1="238" y1="1021.0" x2="1975" y2="1021.0" stroke="#e2e2e2" stroke-width="3" stroke-dasharray="6 6"/><line x1="228" y1="1021.0" x2="238" y2="1021.0" stroke="#333" stroke-width="3"/><line x1="238" y1="996.2" x2="1975" y2="996.2" stroke="#e2e2e2" stroke-width="3" stroke-dasharray="6 6"/><line x1="228" y1="996.2" x2="238" y2="996.2" stroke="#333" stroke-width="3"/><line x1="238" y1="978.6" x2="1975" y2="978.6" stroke="#e2e2e2" stroke-width="3" stroke-dasharray="6 6"/><line x1="228" y1="978.6" x2="238" y2="978.6" stroke="#333" stroke-width="3"/><line x1="238" y1="964.9" x2="1975" y2="964.9" stroke="#e2e2e2" stroke-width="3" stroke-dasharray="6 6"/><line x1="228" y1="964.9" x2="238" y2="964.9" stroke="#333" stroke-width="3"/><line x1="238" y1="953.8" x2="1975" y2="953.8" stroke="#e2e2e2" stroke-width="3" stroke-dasharray="6 6"/><line x1="228" y1="953.8" x2="238" y2="953.8" stroke="#333" stroke-width="3"/><line x1="238" y1="944.3" x2="1975" y2="944.3" stroke="#e2e2e2" stroke-width="3" stroke-dasharray="6 6"/><line x1="228" y1="944.3" x2="238" y2="944.3" stroke="#333" stroke-width="3"/><line x1="238" y1="936.2" x2="1975" y2="936.2" stroke="#e2e2e2" stroke-width="3" stroke-dasharray="6 6"/><line x1="228" y1="936.2" x2="238" y2="936.2" stroke="#333" stroke-width="3"/><line x1="238" y1="928.9" x2="1975" y2="928.9" stroke="#e2e2e2" stroke-width="3" stroke-dasharray="6 6"/><line x1="228" y1="928.9" x2="238" y2="928.9" stroke="#333" stroke-width="3"/><line x1="238" y1="1161.9" x2="1975" y2="1161.9" stroke="#e2e2e2" stroke-width="3" stroke-dasharray="6 6"/><line x1="228" y1="1161.9" x2="238" y2="1161.9" stroke="#333" stroke-width="3"/><line x1="238" y1="1137.1" x2="1975" y2="1137.1" stroke="#e2e2e2" stroke-width="3" stroke-dasharray="6 6"/><line x1="228" y1="1137.1" x2="238" y2="1137.1" stroke="#333" stroke-width="3"/><line x1="238" y1="1119.5" x2="1975" y2="1119.5" stroke="#e2e2e2" stroke-width="3" stroke-dasharray="6 6"/><line x1="228" y1="1119.5" x2="238" y2="1119.5" stroke="#333" stroke-width="3"/><line x1="238" y1="1105.8" x2="1975" y2="1105.8" stroke="#e2e2e2" stroke-width="3" stroke-dasharray="6 6"/><line x1="228" y1="1105.8" x2="238" y2="1105.8" stroke="#333" stroke-width="3"/><line x1="238" y1="1094.7" x2="1975" y2="1094.7" stroke="#e2e2e2" stroke-width="3" stroke-dasharray="6 6"/><line x1="228" y1="1094.7" x2="238" y2="1094.7" stroke="#333" stroke-width="3"/><line x1="238" y1="1085.2" x2="1975" y2="1085.2" stroke="#e2e2e2" stroke-width="3" stroke-dasharray="6 6"/><line x1="228" y1="1085.2" x2="238" y2="1085.2" stroke="#333" stroke-width="3"/><line x1="238" y1="1077.1" x2="1975" y2="1077.1" stroke="#e2e2e2" stroke-width="3" stroke-dasharray="6 6"/><line x1="228" y1="1077.1" x2="238" y2="1077.1" stroke="#333" stroke-width="3"/><line x1="238" y1="1069.8" x2="1975" y2="1069.8" stroke="#e2e2e2" stroke-width="3" stroke-dasharray="6 6"/><line x1="228" y1="1069.8" x2="238" y2="1069.8" stroke="#333" stroke-width="3"/><line x1="238" y1="1302.8" x2="1975" y2="1302.8" stroke="#e2e2e2" stroke-width="3" stroke-dasharray="6 6"/><line x1="228" y1="1302.8" x2="238" y2="1302.8" stroke="#333" stroke-width="3"/><line x1="238" y1="1278.0" x2="1975" y2="1278.0" stroke="#e2e2e2" stroke-width="3" stroke-dasharray="6 6"/><line x1="228" y1="1278.0" x2="238" y2="1278.0" stroke="#333" stroke-width="3"/><line x1="238" y1="1260.4" x2="1975" y2="1260.4" stroke="#e2e2e2" stroke-width="3" stroke-dasharray="6 6"/><line x1="228" y1="1260.4" x2="238" y2="1260.4" stroke="#333" stroke-width="3"/><line x1="238" y1="1246.7" x2="1975" y2="1246.7" stroke="#e2e2e2" stroke-width="3" stroke-dasharray="6 6"/><line x1="228" y1="1246.7" x2="238" y2="1246.7" stroke="#333" stroke-width="3"/><line x1="238" y1="1235.6" x2="1975" y2="1235.6" stroke="#e2e2e2" stroke-width="3" stroke-dasharray="6 6"/><line x1="228" y1="1235.6" x2="238" y2="1235.6" stroke="#333" stroke-width="3"/><line x1="238" y1="1226.1" x2="1975" y2="1226.1" stroke="#e2e2e2" stroke-width="3" stroke-dasharray="6 6"/><line x1="228" y1="1226.1" x2="238" y2="1226.1" stroke="#333" stroke-width="3"/><line x1="238" y1="1218.0" x2="1975" y2="1218.0" stroke="#e2e2e2" stroke-width="3" stroke-dasharray="6 6"/><line x1="228" y1="1218.0" x2="238" y2="1218.0" stroke="#333" stroke-width="3"/><line x1="238" y1="1210.7" x2="1975" y2="1210.7" stroke="#e2e2e2" stroke-width="3" stroke-dasharray="6 6"/><line x1="228" y1="1210.7" x2="238" y2="1210.7" stroke="#333" stroke-width="3"/><line x1="238" y1="218" x2="1975" y2="218" stroke="#d0d0d0" stroke-width="4" stroke-dasharray="8 7"/><line x1="222" y1="218" x2="238" y2="218" stroke="#222" stroke-width="4"/><text x="210" y="236" font-size="56" text-anchor="end" font-family="Liberation Serif" fill="#222">10<tspan dy="-23.5" font-size="39.2">6</tspan></text><line x1="238" y1="358" x2="1975" y2="358" stroke="#d0d0d0" stroke-width="4" stroke-dasharray="8 7"/><line x1="222" y1="358" x2="238" y2="358" stroke="#222" stroke-width="4"/><text x="210" y="376" font-size="56" text-anchor="end" font-family="Liberation Serif" fill="#222">10<tspan dy="-23.5" font-size="39.2">5</tspan></text><line x1="238" y1="502" x2="1975" y2="502" stroke="#d0d0d0" stroke-width="4" stroke-dasharray="8 7"/><line x1="222" y1="502" x2="238" y2="502" stroke="#222" stroke-width="4"/><text x="210" y="520" font-size="56" text-anchor="end" font-family="Liberation Serif" fill="#222">10<tspan dy="-23.5" font-size="39.2">4</tspan></text><line x1="238" y1="643" x2="1975" y2="643" stroke="#d0d0d0" stroke-width="4" stroke-dasharray="8 7"/><line x1="222" y1="643" x2="238" y2="643" stroke="#222" stroke-width="4"/><text x="210" y="661" font-size="56" text-anchor="end" font-family="Liberation Serif" fill="#222">10<tspan dy="-23.5" font-size="39.2">3</tspan></text><line x1="238" y1="782" x2="1975" y2="782" stroke="#d0d0d0" stroke-width="4" stroke-dasharray="8 7"/><line x1="222" y1="782" x2="238" y2="782" stroke="#222" stroke-width="4"/><text x="210" y="800" font-size="56" text-anchor="end" font-family="Liberation Serif" fill="#222">10<tspan dy="-23.5" font-size="39.2">2</tspan></text><line x1="238" y1="922" x2="1975" y2="922" stroke="#d0d0d0" stroke-width="4" stroke-dasharray="8 7"/><line x1="222" y1="922" x2="238" y2="922" stroke="#222" stroke-width="4"/><text x="210" y="940" font-size="56" text-anchor="end" font-family="Liberation Serif" fill="#222">10<tspan dy="-23.5" font-size="39.2">1</tspan></text><line x1="238" y1="1062" x2="1975" y2="1062" stroke="#d0d0d0" stroke-width="4" stroke-dasharray="8 7"/><line x1="222" y1="1062" x2="238" y2="1062" stroke="#222" stroke-width="4"/><text x="210" y="1080" font-size="56" text-anchor="end" font-family="Liberation Serif" fill="#222">10<tspan dy="-23.5" font-size="39.2">0</tspan></text><line x1="238" y1="1205" x2="1975" y2="1205" stroke="#d0d0d0" stroke-width="4" stroke-dasharray="8 7"/><line x1="222" y1="1205" x2="238" y2="1205" stroke="#222" stroke-width="4"/><text x="210" y="1223" font-size="56" text-anchor="end" font-family="Liberation Serif" fill="#222">10<tspan dy="-23.5" font-size="39.2">−1</tspan></text><line x1="238" y1="1345" x2="1975" y2="1345" stroke="#d0d0d0" stroke-width="4" stroke-dasharray="8 7"/><line x1="222" y1="1345" x2="238" y2="1345" stroke="#222" stroke-width="4"/><text x="210" y="1363" font-size="56" text-anchor="end" font-family="Liberation Serif" fill="#222">10<tspan dy="-23.5" font-size="39.2">−2</tspan></text><line x1="292" y1="83" x2="292" y2="1390" stroke="#d0d0d0" stroke-width="4" stroke-dasharray="8 7"/><line x1="292" y1="1390" x2="292" y2="1406" stroke="#222" stroke-width="4"/><text x="292" y="1458" font-size="56" text-anchor="middle" font-family="Liberation Serif" fill="#222">0</text><line x1="560" y1="83" x2="560" y2="1390" stroke="#d0d0d0" stroke-width="4" stroke-dasharray="8 7"/><line x1="560" y1="1390" x2="560" y2="1406" stroke="#222" stroke-width="4"/><text x="560" y="1458" font-size="56" text-anchor="middle" font-family="Liberation Serif" fill="#222">10</text><line x1="827" y1="83" x2="827" y2="1390" stroke="#d0d0d0" stroke-width="4" stroke-dasharray="8 7"/><line x1="827" y1="1390" x2="827" y2="1406" stroke="#222" stroke-width="4"/><text x="827" y="1458" font-size="56" text-anchor="middle" font-family="Liberation Serif" fill="#222">20</text><line x1="1094" y1="83" x2="1094" y2="1390" stroke="#d0d0d0" stroke-width="4" stroke-dasharray="8 7"/><line x1="1094" y1="1390" x2="1094" y2="1406" stroke="#222" stroke-width="4"/><text x="1094" y="1458" font-size="56" text-anchor="middle" font-family="Liberation Serif" fill="#222">30</text><line x1="1362" y1="83" x2="1362" y2="1390" stroke="#d0d0d0" stroke-width="4" stroke-dasharray="8 7"/><line x1="1362" y1="1390" x2="1362" y2="1406" stroke="#222" stroke-width="4"/><text x="1362" y="1458" font-size="56" text-anchor="middle" font-family="Liberation Serif" fill="#222">40</text><line x1="1630" y1="83" x2="1630" y2="1390" stroke="#d0d0d0" stroke-width="4" stroke-dasharray="8 7"/><line x1="1630" y1="1390" x2="1630" y2="1406" stroke="#222" stroke-width="4"/><text x="1630" y="1458" font-size="56" text-anchor="middle" font-family="Liberation Serif" fill="#222">50</text><line x1="1897" y1="83" x2="1897" y2="1390" stroke="#d0d0d0" stroke-width="4" stroke-dasharray="8 7"/><line x1="1897" y1="1390" x2="1897" y2="1406" stroke="#222" stroke-width="4"/><text x="1897" y="1458" font-size="56" text-anchor="middle" font-family="Liberation Serif" fill="#222">60</text><path d="M318.0,1207.0 C319.2,1211.7 320.5,1225.8 325.0,1235.0 C329.5,1244.2 335.8,1254.5 345.0,1262.0 C354.2,1269.5 362.5,1273.7 380.0,1280.0 C397.5,1286.3 415.8,1294.7 450.0,1300.0 C484.2,1305.3 543.3,1309.0 585.0,1312.0 C626.7,1315.0 655.0,1316.3 700.0,1318.0 C745.0,1319.7 784.7,1320.3 855.0,1322.0 C925.3,1323.7 1033.2,1326.7 1122.0,1328.0 C1210.8,1329.3 1299.2,1329.3 1388.0,1330.0 C1476.8,1330.7 1569.7,1331.7 1655.0,1332.0 C1740.3,1332.3 1859.2,1332.0 1900.0,1332.0" fill="none" stroke="#ff7f0e" stroke-width="11" stroke-linejoin="round" stroke-linecap="round"/><rect x="299.95" y="1188.95" width="36.1" height="36.1" fill="#ff7f0e"/><rect x="566.95" y="1293.95" width="36.1" height="36.1" fill="#ff7f0e"/><rect x="836.95" y="1303.95" width="36.1" height="36.1" fill="#ff7f0e"/><rect x="1103.95" y="1309.95" width="36.1" height="36.1" fill="#ff7f0e"/><rect x="1369.95" y="1311.95" width="36.1" height="36.1" fill="#ff7f0e"/><rect x="1636.95" y="1313.95" width="36.1" height="36.1" fill="#ff7f0e"/><path d="M318.0,1035.0 C331.7,1041.7 355.5,1061.7 400.0,1075.0 C444.5,1088.3 535.0,1105.8 585.0,1115.0 C635.0,1124.2 655.0,1124.5 700.0,1130.0 C745.0,1135.5 805.0,1143.3 855.0,1148.0 C905.0,1152.7 955.5,1154.8 1000.0,1158.0 C1044.5,1161.2 1057.3,1163.0 1122.0,1167.0 C1186.7,1171.0 1299.2,1177.8 1388.0,1182.0 C1476.8,1186.2 1569.7,1189.3 1655.0,1192.0 C1740.3,1194.7 1859.2,1197.0 1900.0,1198.0" fill="none" stroke="#1f77b4" stroke-width="11" stroke-linejoin="round" stroke-linecap="round"/><circle cx="318" cy="1035" r="19" fill="#1f77b4"/><circle cx="585" cy="1115" r="19" fill="#1f77b4"/><circle cx="855" cy="1148" r="19" fill="#1f77b4"/><circle cx="1122" cy="1167" r="19" fill="#1f77b4"/><circle cx="1388" cy="1182" r="19" fill="#1f77b4"/><circle cx="1655" cy="1192" r="19" fill="#1f77b4"/><path d="M318.0,1065.0 C362.5,1069.2 495.5,1082.5 585.0,1090.0 C674.5,1097.5 765.5,1103.3 855.0,1110.0 C944.5,1116.7 1033.2,1123.7 1122.0,1130.0 C1210.8,1136.3 1299.2,1142.7 1388.0,1148.0 C1476.8,1153.3 1569.7,1158.3 1655.0,1162.0 C1740.3,1165.7 1859.2,1168.7 1900.0,1170.0" fill="none" stroke="#e377c2" stroke-width="11" stroke-linejoin="round" stroke-linecap="round"/><circle cx="318" cy="1065" r="17" fill="#e377c2"/><circle cx="585" cy="1090" r="17" fill="#e377c2"/><circle cx="855" cy="1110" r="17" fill="#e377c2"/><circle cx="1122" cy="1130" r="17" fill="#e377c2"/><circle cx="1388" cy="1148" r="17" fill="#e377c2"/><circle cx="1655" cy="1162" r="17" fill="#e377c2"/><path d="M318.0,1062.0 C362.5,1064.2 495.5,1070.7 585.0,1075.0 C674.5,1079.3 765.5,1083.8 855.0,1088.0 C944.5,1092.2 1033.2,1096.3 1122.0,1100.0 C1210.8,1103.7 1299.2,1106.7 1388.0,1110.0 C1476.8,1113.3 1569.7,1116.2 1655.0,1120.0 C1740.3,1123.8 1859.2,1130.8 1900.0,1133.0" fill="none" stroke="#7f7f7f" stroke-width="11" stroke-linejoin="round" stroke-linecap="round"/><g transform="translate(318,1062) rotate(45)"><rect x="-19.0" y="-8.55" width="38.0" height="17.1" fill="#7f7f7f"/><rect x="-8.55" y="-19.0" width="17.1" height="38.0" fill="#7f7f7f"/></g><g transform="translate(855,1088) rotate(45)"><rect x="-19.0" y="-8.55" width="38.0" height="17.1" fill="#7f7f7f"/><rect x="-8.55" y="-19.0" width="17.1" height="38.0" fill="#7f7f7f"/></g><g transform="translate(1122,1100) rotate(45)"><rect x="-19.0" y="-8.55" width="38.0" height="17.1" fill="#7f7f7f"/><rect x="-8.55" y="-19.0" width="17.1" height="38.0" fill="#7f7f7f"/></g><g transform="translate(1388,1110) rotate(45)"><rect x="-19.0" y="-8.55" width="38.0" height="17.1" fill="#7f7f7f"/><rect x="-8.55" y="-19.0" width="17.1" height="38.0" fill="#7f7f7f"/></g><g transform="translate(1655,1120) rotate(45)"><rect x="-19.0" y="-8.55" width="38.0" height="17.1" fill="#7f7f7f"/><rect x="-8.55" y="-19.0" width="17.1" height="38.0" fill="#7f7f7f"/></g><path d="M608.0,1042.0 L650.0,1052.0 L700.0,1058.0 L855.0,1060.0 L1000.0,1068.0 L1122.0,1072.0 L1388.0,1080.0 L1655.0,1088.0 L1900.0,1097.0" fill="none" stroke="#d62728" stroke-width="11" stroke-linejoin="round" stroke-linecap="round"/><path d="M608,1018.25 L627.95,1042 L608,1065.75 L588.05,1042Z" fill="#d62728"/><path d="M650,1028.25 L669.95,1052 L650,1075.75 L630.05,1052Z" fill="#d62728"/><path d="M855,1036.25 L874.95,1060 L855,1083.75 L835.05,1060Z" fill="#d62728"/><path d="M1122,1048.25 L1141.95,1072 L1122,1095.75 L1102.05,1072Z" fill="#d62728"/><path d="M1388,1056.25 L1407.95,1080 L1388,1103.75 L1368.05,1080Z" fill="#d62728"/><path d="M1655,1064.25 L1674.95,1088 L1655,1111.75 L1635.05,1088Z" fill="#d62728"/><path d="M318.0,1060.0 L1900.0,1060.0" fill="none" stroke="#9467bd" stroke-width="11" stroke-linejoin="round" stroke-linecap="round"/><polygon points="855.0,1044.2 870.0,1055.1 864.3,1072.7 845.7,1072.7 840.0,1055.1" fill="#9467bd"/><polygon points="1122.0,1044.2 1137.0,1055.1 1131.3,1072.7 1112.7,1072.7 1107.0,1055.1" fill="#9467bd"/><polygon points="1388.0,1044.2 1403.0,1055.1 1397.3,1072.7 1378.7,1072.7 1373.0,1055.1" fill="#9467bd"/><polygon points="1655.0,1044.2 1670.0,1055.1 1664.3,1072.7 1645.7,1072.7 1640.0,1055.1" fill="#9467bd"/><path d="M318.0,1062.0 L1900.0,1062.0" fill="none" stroke="#8c564b" stroke-width="11" stroke-linejoin="round" stroke-linecap="round"/><path d="M318.0,245.0 C321.7,239.2 329.7,220.0 340.0,210.0 C350.3,200.0 363.3,192.0 380.0,185.0 C396.7,178.0 420.0,172.2 440.0,168.0 C460.0,163.8 475.8,162.7 500.0,160.0 C524.2,157.3 551.7,154.3 585.0,152.0 C618.3,149.7 655.0,147.5 700.0,146.0 C745.0,144.5 805.0,143.3 855.0,143.0 C905.0,142.7 955.5,143.7 1000.0,144.0 C1044.5,144.3 1057.3,144.3 1122.0,145.0 C1186.7,145.7 1299.2,146.7 1388.0,148.0 C1476.8,149.3 1569.7,151.3 1655.0,153.0 C1740.3,154.7 1859.2,157.2 1900.0,158.0" fill="none" stroke="#2ca02c" stroke-width="11" stroke-linejoin="round" stroke-linecap="round"/><path d="M318,223.15 L337.95,259.25 L298.05,259.25Z" fill="#2ca02c"/><path d="M585,130.15 L604.95,166.25 L565.05,166.25Z" fill="#2ca02c"/><path d="M855,121.15 L874.95,157.25 L835.05,157.25Z" fill="#2ca02c"/><path d="M1122,123.15 L1141.95,159.25 L1102.05,159.25Z" fill="#2ca02c"/><path d="M1388,126.15 L1407.95,162.25 L1368.05,162.25Z" fill="#2ca02c"/><path d="M1655,131.15 L1674.95,167.25 L1635.05,167.25Z" fill="#2ca02c"/><rect x="238" y="83" width="1737" height="1307" fill="none" stroke="#222" stroke-width="5"/><text x="1116.5" y="1535" font-size="74" text-anchor="middle" font-family="Liberation Serif" fill="#111">Time (seconds)</text><text transform="translate(60,740) rotate(-90)" font-size="74" text-anchor="middle" font-family="Liberation Sans" fill="#111"><tspan font-style="italic">F</tspan>(·)</text></g><rect x="3078.4" y="953.4" width="915.9" height="29.9" rx="2" fill="#fff" stroke="#cfcfcf" stroke-width="1"/><line x1="3079" y1="983.3" x2="3993.5" y2="983.3" stroke="#555" stroke-width="1"/><circle cx="3101.4" cy="967.0" r="5.8" fill="#1f77b4" stroke="#222" stroke-width="0.6"/><text x="3119.5" y="972.4" font-size="17" fill="#222" textLength="49.8" lengthAdjust="spacingAndGlyphs"><tspan font-family="Liberation Mono">IR-SCG</tspan></text><rect x="3181.49" y="961.49" width="11.02" height="11.02" fill="#ff7f0e" stroke="#222" stroke-width="0.6"/><text x="3205.5" y="972.4" font-size="17" fill="#222" textLength="57.9" lengthAdjust="spacingAndGlyphs"><tspan font-family="Liberation Mono">IR-FSCG</tspan></text><path d="M3281.3,960.33 L3287.3900000000003,971.35 L3275.21,971.35Z" fill="#2ca02c" stroke="#222" stroke-width="0.6"/><text x="3298.5" y="972.4" font-size="17" fill="#222" textLength="41.5" lengthAdjust="spacingAndGlyphs"><tspan font-family="Liberation Mono">SBCGI</tspan></text><path d="M3358.5,959.75 L3364.59,967.0 L3358.5,974.25 L3352.41,967.0Z" fill="#d62728" stroke="#222" stroke-width="0.6"/><text x="3375.7" y="972.4" font-size="17" fill="#222" textLength="42.3" lengthAdjust="spacingAndGlyphs"><tspan font-family="Liberation Mono">SBCGF</tspan></text><polygon points="3436.0,960.9 3441.8,965.1 3439.6,971.9 3432.4,971.9 3430.2,965.1" fill="#9467bd" stroke="#222" stroke-width="0.6"/><text x="3453" y="972.4" font-size="17" fill="#222" textLength="126.0" lengthAdjust="spacingAndGlyphs"><tspan font-family="Liberation Mono">aR-IP-SeG</tspan> <tspan font-family="Liberation Serif">(short)</tspan></text><polygon points="3598.0,960.8 3599.5,964.9 3603.9,965.1 3600.5,967.8 3601.7,972.0 3598.0,969.6 3594.3,972.0 3595.5,967.8 3592.1,965.1 3596.5,964.9" fill="#8c564b" stroke="#222" stroke-width="0.6"/><text x="3615" y="972.4" font-size="17" fill="#222" textLength="121.0" lengthAdjust="spacingAndGlyphs"><tspan font-family="Liberation Mono">aR-IP-SeG</tspan> <tspan font-family="Liberation Serif">(long)</tspan></text><circle cx="3755" cy="967.0" r="5.8" fill="#e377c2" stroke="#222" stroke-width="0.6"/><text x="3771.7" y="972.4" font-size="17" fill="#222" textLength="91.9" lengthAdjust="spacingAndGlyphs"><tspan font-family="Liberation Mono">SDBGD</tspan> <tspan font-family="Liberation Serif">(short)</tspan></text><g transform="translate(3882.5,967.0) rotate(45)"><rect x="-5.8" y="-2.61" width="11.6" height="5.22" fill="#7f7f7f"/><rect x="-2.61" y="-5.8" width="5.22" height="11.6" fill="#7f7f7f"/></g><text x="3900" y="972.4" font-size="17" fill="#222" textLength="86.4" lengthAdjust="spacingAndGlyphs"><tspan font-family="Liberation Mono">SDBGD</tspan> <tspan font-family="Liberation Serif">(long)</tspan></text><rect x="3078.4" y="2083" width="915.9" height="29.9" rx="2" fill="#fff" stroke="#cfcfcf" stroke-width="1"/><line x1="3079" y1="2112.9" x2="3993.5" y2="2112.9" stroke="#555" stroke-width="1"/><circle cx="3101.4" cy="2096.6" r="5.8" fill="#1f77b4" stroke="#222" stroke-width="0.6"/><text x="3119.5" y="2102" font-size="17" fill="#222" textLength="49.8" lengthAdjust="spacingAndGlyphs"><tspan font-family="Liberation Mono">IR-SCG</tspan></text><rect x="3181.49" y="2091.0899999999997" width="11.02" height="11.02" fill="#ff7f0e" stroke="#222" stroke-width="0.6"/><text x="3205.5" y="2102" font-size="17" fill="#222" textLength="57.9" lengthAdjust="spacingAndGlyphs"><tspan font-family="Liberation Mono">IR-FSCG</tspan></text><path d="M3281.3,2089.93 L3287.3900000000003,2100.95 L3275.21,2100.95Z" fill="#2ca02c" stroke="#222" stroke-width="0.6"/><text x="3298.5" y="2102" font-size="17" fill="#222" textLength="41.5" lengthAdjust="spacingAndGlyphs"><tspan font-family="Liberation Mono">SBCGI</tspan></text><path d="M3358.5,2089.35 L3364.59,2096.6 L3358.5,2103.85 L3352.41,2096.6Z" fill="#d62728" stroke="#222" stroke-width="0.6"/><text x="3375.7" y="2102" font-size="17" fill="#222" textLength="42.3" lengthAdjust="spacingAndGlyphs"><tspan font-family="Liberation Mono">SBCGF</tspan></text><polygon points="3436.0,2090.5 3441.8,2094.7 3439.6,2101.5 3432.4,2101.5 3430.2,2094.7" fill="#9467bd" stroke="#222" stroke-width="0.6"/><text x="3453" y="2102" font-size="17" fill="#222" textLength="126.0" lengthAdjust="spacingAndGlyphs"><tspan font-family="Liberation Mono">aR-IP-SeG</tspan> <tspan font-family="Liberation Serif">(short)</tspan></text><polygon points="3598.0,2090.4 3599.5,2094.5 3603.9,2094.7 3600.5,2097.4 3601.7,2101.6 3598.0,2099.2 3594.3,2101.6 3595.5,2097.4 3592.1,2094.7 3596.5,2094.5" fill="#8c564b" stroke="#222" stroke-width="0.6"/><text x="3615" y="2102" font-size="17" fill="#222" textLength="121.0" lengthAdjust="spacingAndGlyphs"><tspan font-family="Liberation Mono">aR-IP-SeG</tspan> <tspan font-family="Liberation Serif">(long)</tspan></text><circle cx="3755" cy="2096.6" r="5.8" fill="#e377c2" stroke="#222" stroke-width="0.6"/><text x="3771.7" y="2102" font-size="17" fill="#222" textLength="91.9" lengthAdjust="spacingAndGlyphs"><tspan font-family="Liberation Mono">SDBGD</tspan> <tspan font-family="Liberation Serif">(short)</tspan></text><g transform="translate(3882.5,2096.6) rotate(45)"><rect x="-5.8" y="-2.61" width="11.6" height="5.22" fill="#7f7f7f"/><rect x="-2.61" y="-5.8" width="5.22" height="11.6" fill="#7f7f7f"/></g><text x="3900" y="2102" font-size="17" fill="#222" textLength="86.4" lengthAdjust="spacingAndGlyphs"><tspan font-family="Liberation Mono">SDBGD</tspan> <tspan font-family="Liberation Serif">(long)</tspan></text><g transform="translate(110,120) scale(0.135017)"><ellipse cx="757" cy="198" rx="40" ry="55" fill="#66418c" transform="rotate(-10 757 198)"/><ellipse cx="880" cy="190" rx="38" ry="48" fill="#66418c" transform="rotate(10 880 190)"/><ellipse cx="620" cy="220" rx="42" ry="40" fill="#66418c" transform="rotate(0 620 220)"/><path d="M620.0,220.0 C633.3,230.0 671.7,266.7 700.0,280.0 C728.3,293.3 775.0,296.7 790.0,300.0" fill="none" stroke="#66418c" stroke-width="54" stroke-linecap="round"/><path d="M880.0,195.0 C873.3,205.8 855.0,241.7 840.0,260.0 C825.0,278.3 798.3,297.5 790.0,305.0" fill="none" stroke="#66418c" stroke-width="48" stroke-linecap="round"/><path d="M790.0,305.0 C796.7,315.8 813.3,350.8 830.0,370.0 C846.7,389.2 880.0,411.7 890.0,420.0" fill="none" stroke="#66418c" stroke-width="42" stroke-linecap="round"/><ellipse cx="890" cy="420" rx="22" ry="26" fill="#66418c" transform="rotate(0 890 420)"/><ellipse cx="997" cy="222" rx="33" ry="45" fill="#66418c" transform="rotate(0 997 222)"/><ellipse cx="1095" cy="262" rx="28" ry="36" fill="#66418c" transform="rotate(0 1095 262)"/><path d="M1095.0,262.0 C1097.5,275.0 1104.2,315.3 1110.0,340.0 C1115.8,364.7 1126.7,398.3 1130.0,410.0" fill="none" stroke="#66418c" stroke-width="35" stroke-linecap="round"/><path d="M1130.0,410.0 C1138.3,409.2 1163.3,406.7 1180.0,405.0 C1196.7,403.3 1221.7,400.8 1230.0,400.0" fill="none" stroke="#66418c" stroke-width="32" stroke-linecap="round"/><ellipse cx="1230" cy="402" rx="25" ry="28" fill="#66418c" transform="rotate(0 1230 402)"/><ellipse cx="1175" cy="330" rx="22" ry="30" fill="#66418c" transform="rotate(0 1175 330)"/><ellipse cx="885" cy="325" rx="30" ry="38" fill="#66418c" transform="rotate(0 885 325)"/><ellipse cx="980" cy="335" rx="25" ry="32" fill="#66418c" transform="rotate(0 980 335)"/><ellipse cx="1065" cy="370" rx="22" ry="28" fill="#66418c" transform="rotate(0 1065 370)"/><ellipse cx="968" cy="420" rx="18" ry="25" fill="#66418c" transform="rotate(0 968 420)"/><ellipse cx="1290" cy="462" rx="15" ry="25" fill="#66418c" transform="rotate(0 1290 462)"/><ellipse cx="1325" cy="505" rx="10" ry="15" fill="#66418c" transform="rotate(0 1325 505)"/><ellipse cx="495" cy="285" rx="48" ry="52" fill="#66418c" transform="rotate(20 495 285)"/><ellipse cx="685" cy="365" rx="33" ry="40" fill="#66418c" transform="rotate(0 685 365)"/><ellipse cx="815" cy="440" rx="27" ry="28" fill="#66418c" transform="rotate(0 815 440)"/><ellipse cx="370" cy="345" rx="40" ry="32" fill="#66418c" transform="rotate(20 370 345)"/><path d="M370.0,345.0 C386.7,350.8 436.7,370.8 470.0,380.0 C503.3,389.2 553.3,396.7 570.0,400.0" fill="none" stroke="#66418c" stroke-width="54" stroke-linecap="round"/><path d="M570.0,400.0 C585.0,406.7 631.7,428.3 660.0,440.0 C688.3,451.7 726.7,465.0 740.0,470.0" fill="none" stroke="#66418c" stroke-width="48" stroke-linecap="round"/><ellipse cx="740" cy="470" rx="26" ry="24" fill="#66418c" transform="rotate(0 740 470)"/><path d="M570.0,400.0 C570.8,416.7 574.2,468.3 575.0,500.0 C575.8,531.7 575.0,575.0 575.0,590.0" fill="none" stroke="#66418c" stroke-width="38" stroke-linecap="round"/><ellipse cx="575" cy="585" rx="28" ry="26" fill="#66418c" transform="rotate(0 575 585)"/><ellipse cx="665" cy="520" rx="30" ry="32" fill="#66418c" transform="rotate(0 665 520)"/><ellipse cx="462" cy="530" rx="42" ry="37" fill="#66418c" transform="rotate(0 462 530)"/><ellipse cx="310" cy="460" rx="52" ry="48" fill="#66418c" transform="rotate(0 310 460)"/><ellipse cx="305" cy="600" rx="52" ry="45" fill="#66418c" transform="rotate(15 305 600)"/><ellipse cx="228" cy="480" rx="18" ry="10" fill="#9068a8" transform="rotate(0 228 480)"/><ellipse cx="205" cy="535" rx="25" ry="15" fill="#9068a8" transform="rotate(0 205 535)"/><ellipse cx="185" cy="610" rx="30" ry="25" fill="#9068a8" transform="rotate(0 185 610)"/><path d="M185.0,610.0 C190.0,618.3 205.8,646.7 215.0,660.0 C224.2,673.3 235.8,685.0 240.0,690.0" fill="none" stroke="#9068a8" stroke-width="38" stroke-linecap="round"/><ellipse cx="150" cy="700" rx="40" ry="25" fill="#9068a8" transform="rotate(-15 150 700)"/><path d="M240.0,690.0 C233.3,698.3 216.7,723.3 200.0,740.0 C183.3,756.7 150.0,781.7 140.0,790.0" fill="none" stroke="#9068a8" stroke-width="38" stroke-linecap="round"/><ellipse cx="130" cy="795" rx="38" ry="30" fill="#9068a8" transform="rotate(-20 130 795)"/><ellipse cx="235" cy="775" rx="30" ry="22" fill="#9068a8" transform="rotate(0 235 775)"/><ellipse cx="325" cy="835" rx="22" ry="20" fill="#9068a8" transform="rotate(0 325 835)"/><ellipse cx="245" cy="865" rx="32" ry="28" fill="#9068a8" transform="rotate(0 245 865)"/><ellipse cx="140" cy="905" rx="45" ry="35" fill="#9068a8" transform="rotate(-15 140 905)"/><ellipse cx="365" cy="905" rx="22" ry="25" fill="#9068a8" transform="rotate(0 365 905)"/><path d="M365.0,905.0 C361.7,914.2 350.8,939.2 345.0,960.0 C339.2,980.8 332.5,1018.3 330.0,1030.0" fill="none" stroke="#9068a8" stroke-width="38" stroke-linecap="round"/><path d="M330.0,1030.0 C316.7,1026.7 277.5,1012.5 250.0,1010.0 C222.5,1007.5 179.2,1014.2 165.0,1015.0" fill="none" stroke="#9068a8" stroke-width="45" stroke-linecap="round"/><ellipse cx="160" cy="1015" rx="38" ry="32" fill="#9068a8" transform="rotate(0 160 1015)"/><path d="M330.0,1030.0 C330.8,1046.7 336.7,1096.7 335.0,1130.0 C333.3,1163.3 322.5,1213.3 320.0,1230.0" fill="none" stroke="#9068a8" stroke-width="45" stroke-linecap="round"/><ellipse cx="318" cy="1230" rx="38" ry="45" fill="#9068a8" transform="rotate(0 318 1230)"/><ellipse cx="280" cy="955" rx="35" ry="32" fill="#9068a8" transform="rotate(0 280 955)"/><ellipse cx="415" cy="960" rx="28" ry="25" fill="#9068a8" transform="rotate(0 415 960)"/><ellipse cx="235" cy="1125" rx="45" ry="40" fill="#9068a8" transform="rotate(0 235 1125)"/><ellipse cx="410" cy="1110" rx="35" ry="35" fill="#9068a8" transform="rotate(0 410 1110)"/><ellipse cx="485" cy="1020" rx="25" ry="28" fill="#9068a8" transform="rotate(0 485 1020)"/><path d="M485.0,1020.0 C485.8,1033.3 487.5,1073.3 490.0,1100.0 C492.5,1126.7 498.3,1166.7 500.0,1180.0" fill="none" stroke="#9068a8" stroke-width="42" stroke-linecap="round"/><path d="M500.0,1180.0 C513.3,1173.3 555.0,1155.0 580.0,1140.0 C605.0,1125.0 638.3,1098.3 650.0,1090.0" fill="none" stroke="#9068a8" stroke-width="42" stroke-linecap="round"/><ellipse cx="650" cy="1090" rx="30" ry="28" fill="#9068a8" transform="rotate(0 650 1090)"/><path d="M500.0,1180.0 C506.7,1196.7 530.0,1245.0 540.0,1280.0 C550.0,1315.0 556.7,1371.7 560.0,1390.0" fill="none" stroke="#9068a8" stroke-width="48" stroke-linecap="round"/><ellipse cx="560" cy="1050" rx="28" ry="30" fill="#9068a8" transform="rotate(0 560 1050)"/><ellipse cx="670" cy="1225" rx="35" ry="40" fill="#9068a8" transform="rotate(0 670 1225)"/><ellipse cx="440" cy="1315" rx="48" ry="55" fill="#9068a8" transform="rotate(20 440 1315)"/><ellipse cx="680" cy="1390" rx="45" ry="55" fill="#9068a8" transform="rotate(0 680 1390)"/><ellipse cx="805" cy="1330" rx="40" ry="55" fill="#9068a8" transform="rotate(0 805 1330)"/><ellipse cx="560" cy="1385" rx="45" ry="50" fill="#9068a8" transform="rotate(0 560 1385)"/><g font-family="Liberation Sans" fill="#2d2f33" stroke="#2d2f33" stroke-width="5"><text x="650" y="762" font-size="205" textLength="868" lengthAdjust="spacingAndGlyphs">NEURAL</text><text x="650" y="982" font-size="205" textLength="1480" lengthAdjust="spacingAndGlyphs">INFORMATION</text><text x="745" y="1190" font-size="205" textLength="1360" lengthAdjust="spacingAndGlyphs">PROCESSING</text><text x="895" y="1400" font-size="205" textLength="985" lengthAdjust="spacingAndGlyphs">SYSTEMS</text></g></g></svg>
</body></html>
